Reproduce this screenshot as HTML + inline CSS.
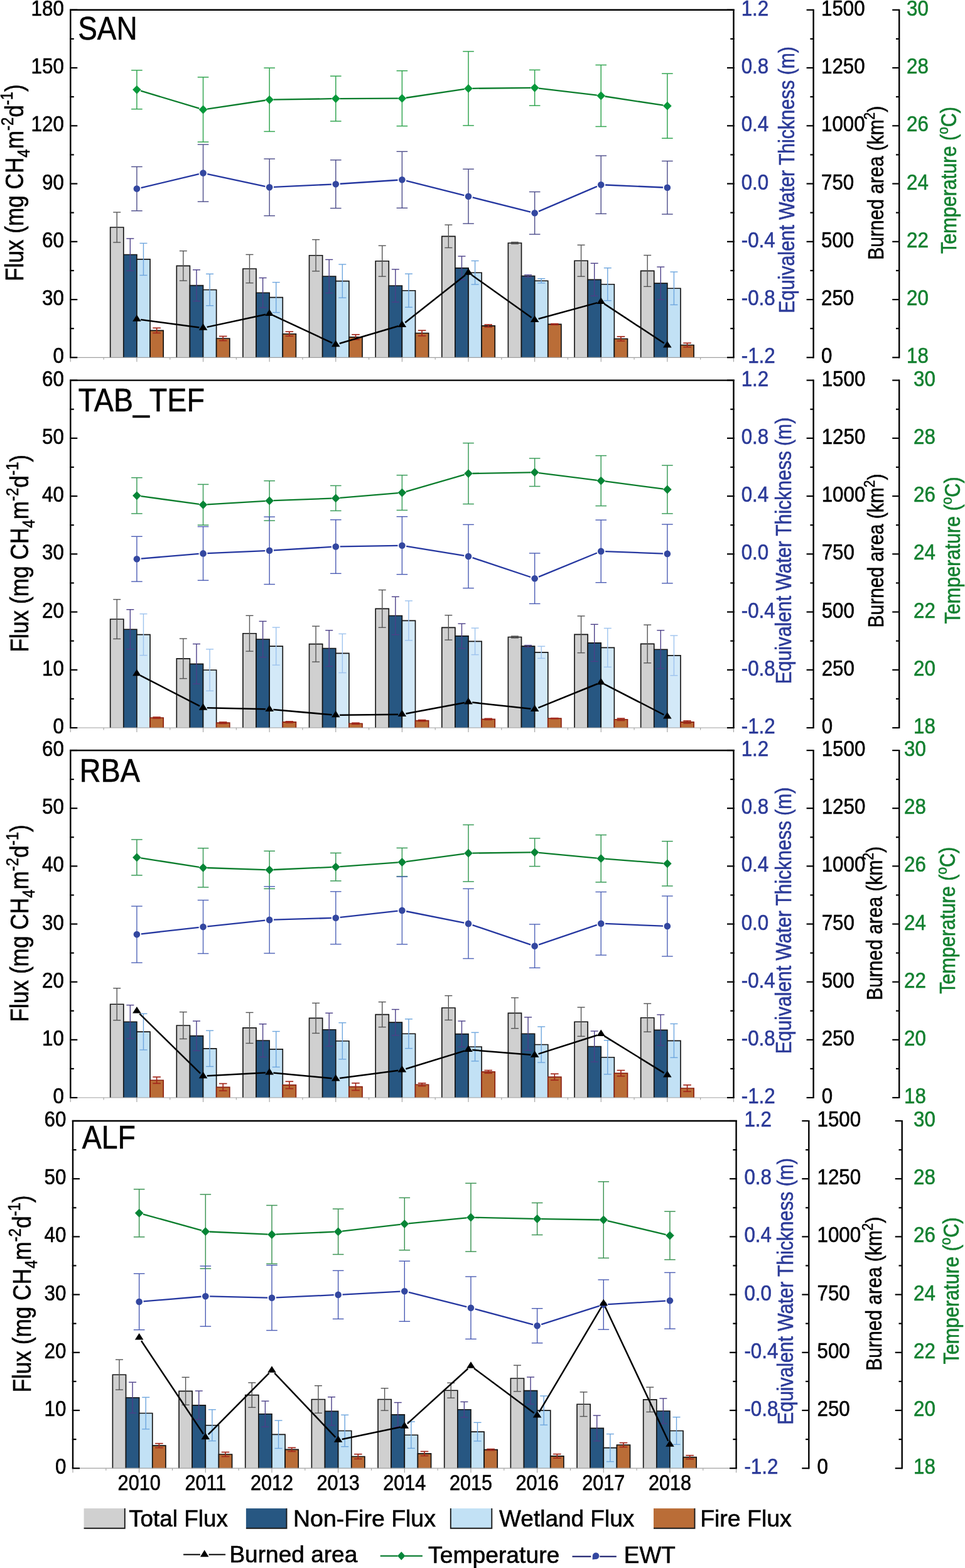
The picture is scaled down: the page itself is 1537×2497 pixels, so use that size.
<!DOCTYPE html>
<html><head><meta charset="utf-8"><title>Methane flux chart</title>
<style>
html,body{margin:0;padding:0;background:#fff;}
body{width:1537px;height:2497px;overflow:hidden;}
svg{display:block;font-family:'Liberation Sans', Arial, Helvetica, sans-serif;}
text{stroke-width:0.6px;}
</style></head>
<body>
<svg xmlns="http://www.w3.org/2000/svg" width="1537" height="2497" viewBox="0 0 1537 2497">
<rect width="1537" height="2497" fill="#fff"/>
<line x1="112.3" y1="569.3" x2="112.3" y2="576.3" stroke="#a0a0a0" stroke-width="1.1"/>
<line x1="165.11" y1="569.3" x2="165.11" y2="572.8" stroke="#a0a0a0" stroke-width="1.1"/>
<line x1="217.92" y1="569.3" x2="217.92" y2="576.3" stroke="#a0a0a0" stroke-width="1.1"/>
<line x1="270.73" y1="569.3" x2="270.73" y2="572.8" stroke="#a0a0a0" stroke-width="1.1"/>
<line x1="323.54" y1="569.3" x2="323.54" y2="576.3" stroke="#a0a0a0" stroke-width="1.1"/>
<line x1="376.35" y1="569.3" x2="376.35" y2="572.8" stroke="#a0a0a0" stroke-width="1.1"/>
<line x1="429.16" y1="569.3" x2="429.16" y2="576.3" stroke="#a0a0a0" stroke-width="1.1"/>
<line x1="481.97" y1="569.3" x2="481.97" y2="572.8" stroke="#a0a0a0" stroke-width="1.1"/>
<line x1="534.78" y1="569.3" x2="534.78" y2="576.3" stroke="#a0a0a0" stroke-width="1.1"/>
<line x1="587.59" y1="569.3" x2="587.59" y2="572.8" stroke="#a0a0a0" stroke-width="1.1"/>
<line x1="640.4" y1="569.3" x2="640.4" y2="576.3" stroke="#a0a0a0" stroke-width="1.1"/>
<line x1="693.21" y1="569.3" x2="693.21" y2="572.8" stroke="#a0a0a0" stroke-width="1.1"/>
<line x1="746.02" y1="569.3" x2="746.02" y2="576.3" stroke="#a0a0a0" stroke-width="1.1"/>
<line x1="798.83" y1="569.3" x2="798.83" y2="572.8" stroke="#a0a0a0" stroke-width="1.1"/>
<line x1="851.64" y1="569.3" x2="851.64" y2="576.3" stroke="#a0a0a0" stroke-width="1.1"/>
<line x1="904.45" y1="569.3" x2="904.45" y2="572.8" stroke="#a0a0a0" stroke-width="1.1"/>
<line x1="957.26" y1="569.3" x2="957.26" y2="576.3" stroke="#a0a0a0" stroke-width="1.1"/>
<line x1="1010.07" y1="569.3" x2="1010.07" y2="572.8" stroke="#a0a0a0" stroke-width="1.1"/>
<line x1="1062.88" y1="569.3" x2="1062.88" y2="576.3" stroke="#a0a0a0" stroke-width="1.1"/>
<line x1="1115.69" y1="569.3" x2="1115.69" y2="572.8" stroke="#a0a0a0" stroke-width="1.1"/>
<line x1="1168.5" y1="569.3" x2="1168.5" y2="576.3" stroke="#a0a0a0" stroke-width="1.1"/>
<rect x="175.67" y="362" width="21.12" height="207.3" fill="#d0d0d0"/>
<path d="M175.67 569.3V362H196.8V569.3" fill="none" stroke="#151515" stroke-width="1.65"/>
<rect x="196.8" y="405.5" width="21.12" height="163.8" fill="#275782"/>
<path d="M196.8 569.3V405.5H217.92V569.3" fill="none" stroke="#151515" stroke-width="1.65"/>
<rect x="217.92" y="412.9" width="21.12" height="156.4" fill="#c2e1f5"/>
<path d="M217.92 569.3V412.9H239.04V569.3" fill="none" stroke="#151515" stroke-width="1.65"/>
<rect x="239.04" y="526.3" width="21.12" height="43" fill="#ba6d37"/>
<path d="M239.04 569.3V526.3H260.17V569.3" fill="none" stroke="#111" stroke-width="1.65"/>
<line x1="186.23" y1="338" x2="186.23" y2="386" stroke="#555555" stroke-width="1.4"/>
<line x1="180.23" y1="338" x2="192.23" y2="338" stroke="#555555" stroke-width="1.4"/>
<line x1="180.23" y1="386" x2="192.23" y2="386" stroke="#555555" stroke-width="1.4"/>
<line x1="207.36" y1="379.9" x2="207.36" y2="431.1" stroke="#4b3f88" stroke-width="1.4"/>
<line x1="201.36" y1="379.9" x2="213.36" y2="379.9" stroke="#4b3f88" stroke-width="1.4"/>
<line x1="201.36" y1="431.1" x2="213.36" y2="431.1" stroke="#4b3f88" stroke-width="1.4"/>
<line x1="228.48" y1="387.4" x2="228.48" y2="438.4" stroke="#6ea6de" stroke-width="1.4"/>
<line x1="222.48" y1="387.4" x2="234.48" y2="387.4" stroke="#6ea6de" stroke-width="1.4"/>
<line x1="222.48" y1="438.4" x2="234.48" y2="438.4" stroke="#6ea6de" stroke-width="1.4"/>
<line x1="249.61" y1="522.3" x2="249.61" y2="530.3" stroke="#a3271b" stroke-width="1.7"/>
<line x1="243.31" y1="522.3" x2="255.91" y2="522.3" stroke="#a3271b" stroke-width="1.7"/>
<line x1="243.31" y1="530.3" x2="255.91" y2="530.3" stroke="#a3271b" stroke-width="1.7"/>
<rect x="281.29" y="423.3" width="21.12" height="146" fill="#d0d0d0"/>
<path d="M281.29 569.3V423.3H302.42V569.3" fill="none" stroke="#151515" stroke-width="1.65"/>
<rect x="302.42" y="454.6" width="21.12" height="114.7" fill="#275782"/>
<path d="M302.42 569.3V454.6H323.54V569.3" fill="none" stroke="#151515" stroke-width="1.65"/>
<rect x="323.54" y="461.5" width="21.12" height="107.8" fill="#c2e1f5"/>
<path d="M323.54 569.3V461.5H344.66V569.3" fill="none" stroke="#151515" stroke-width="1.65"/>
<rect x="344.66" y="539" width="21.12" height="30.3" fill="#ba6d37"/>
<path d="M344.66 569.3V539H365.79V569.3" fill="none" stroke="#111" stroke-width="1.65"/>
<line x1="291.85" y1="399.6" x2="291.85" y2="447" stroke="#555555" stroke-width="1.4"/>
<line x1="285.85" y1="399.6" x2="297.85" y2="399.6" stroke="#555555" stroke-width="1.4"/>
<line x1="285.85" y1="447" x2="297.85" y2="447" stroke="#555555" stroke-width="1.4"/>
<line x1="312.98" y1="429.7" x2="312.98" y2="479.5" stroke="#4b3f88" stroke-width="1.4"/>
<line x1="306.98" y1="429.7" x2="318.98" y2="429.7" stroke="#4b3f88" stroke-width="1.4"/>
<line x1="306.98" y1="479.5" x2="318.98" y2="479.5" stroke="#4b3f88" stroke-width="1.4"/>
<line x1="334.1" y1="436.3" x2="334.1" y2="486.7" stroke="#6ea6de" stroke-width="1.4"/>
<line x1="328.1" y1="436.3" x2="340.1" y2="436.3" stroke="#6ea6de" stroke-width="1.4"/>
<line x1="328.1" y1="486.7" x2="340.1" y2="486.7" stroke="#6ea6de" stroke-width="1.4"/>
<line x1="355.23" y1="535.5" x2="355.23" y2="542.5" stroke="#a3271b" stroke-width="1.7"/>
<line x1="348.93" y1="535.5" x2="361.53" y2="535.5" stroke="#a3271b" stroke-width="1.7"/>
<line x1="348.93" y1="542.5" x2="361.53" y2="542.5" stroke="#a3271b" stroke-width="1.7"/>
<rect x="386.91" y="428" width="21.12" height="141.3" fill="#d0d0d0"/>
<path d="M386.91 569.3V428H408.04V569.3" fill="none" stroke="#151515" stroke-width="1.65"/>
<rect x="408.04" y="466.2" width="21.12" height="103.1" fill="#275782"/>
<path d="M408.04 569.3V466.2H429.16V569.3" fill="none" stroke="#151515" stroke-width="1.65"/>
<rect x="429.16" y="473.6" width="21.12" height="95.7" fill="#c2e1f5"/>
<path d="M429.16 569.3V473.6H450.28V569.3" fill="none" stroke="#151515" stroke-width="1.65"/>
<rect x="450.28" y="531.7" width="21.12" height="37.6" fill="#ba6d37"/>
<path d="M450.28 569.3V531.7H471.41V569.3" fill="none" stroke="#111" stroke-width="1.65"/>
<line x1="397.47" y1="405.4" x2="397.47" y2="450.6" stroke="#555555" stroke-width="1.4"/>
<line x1="391.47" y1="405.4" x2="403.47" y2="405.4" stroke="#555555" stroke-width="1.4"/>
<line x1="391.47" y1="450.6" x2="403.47" y2="450.6" stroke="#555555" stroke-width="1.4"/>
<line x1="418.6" y1="442.5" x2="418.6" y2="489.9" stroke="#4b3f88" stroke-width="1.4"/>
<line x1="412.6" y1="442.5" x2="424.6" y2="442.5" stroke="#4b3f88" stroke-width="1.4"/>
<line x1="412.6" y1="489.9" x2="424.6" y2="489.9" stroke="#4b3f88" stroke-width="1.4"/>
<line x1="439.72" y1="449.6" x2="439.72" y2="497.6" stroke="#6ea6de" stroke-width="1.4"/>
<line x1="433.72" y1="449.6" x2="445.72" y2="449.6" stroke="#6ea6de" stroke-width="1.4"/>
<line x1="433.72" y1="497.6" x2="445.72" y2="497.6" stroke="#6ea6de" stroke-width="1.4"/>
<line x1="460.85" y1="528.2" x2="460.85" y2="535.2" stroke="#a3271b" stroke-width="1.7"/>
<line x1="454.55" y1="528.2" x2="467.15" y2="528.2" stroke="#a3271b" stroke-width="1.7"/>
<line x1="454.55" y1="535.2" x2="467.15" y2="535.2" stroke="#a3271b" stroke-width="1.7"/>
<rect x="492.53" y="406.7" width="21.12" height="162.6" fill="#d0d0d0"/>
<path d="M492.53 569.3V406.7H513.66V569.3" fill="none" stroke="#151515" stroke-width="1.65"/>
<rect x="513.66" y="440" width="21.12" height="129.3" fill="#275782"/>
<path d="M513.66 569.3V440H534.78V569.3" fill="none" stroke="#151515" stroke-width="1.65"/>
<rect x="534.78" y="447.6" width="21.12" height="121.7" fill="#c2e1f5"/>
<path d="M534.78 569.3V447.6H555.9V569.3" fill="none" stroke="#151515" stroke-width="1.65"/>
<rect x="555.9" y="536.8" width="21.12" height="32.5" fill="#ba6d37"/>
<path d="M555.9 569.3V536.8H577.03V569.3" fill="none" stroke="#111" stroke-width="1.65"/>
<line x1="503.09" y1="381.6" x2="503.09" y2="431.8" stroke="#555555" stroke-width="1.4"/>
<line x1="497.09" y1="381.6" x2="509.09" y2="381.6" stroke="#555555" stroke-width="1.4"/>
<line x1="497.09" y1="431.8" x2="509.09" y2="431.8" stroke="#555555" stroke-width="1.4"/>
<line x1="524.22" y1="413.4" x2="524.22" y2="466.6" stroke="#4b3f88" stroke-width="1.4"/>
<line x1="518.22" y1="413.4" x2="530.22" y2="413.4" stroke="#4b3f88" stroke-width="1.4"/>
<line x1="518.22" y1="466.6" x2="530.22" y2="466.6" stroke="#4b3f88" stroke-width="1.4"/>
<line x1="545.34" y1="421" x2="545.34" y2="474.2" stroke="#6ea6de" stroke-width="1.4"/>
<line x1="539.34" y1="421" x2="551.34" y2="421" stroke="#6ea6de" stroke-width="1.4"/>
<line x1="539.34" y1="474.2" x2="551.34" y2="474.2" stroke="#6ea6de" stroke-width="1.4"/>
<line x1="566.47" y1="532.8" x2="566.47" y2="540.8" stroke="#a3271b" stroke-width="1.7"/>
<line x1="560.17" y1="532.8" x2="572.77" y2="532.8" stroke="#a3271b" stroke-width="1.7"/>
<line x1="560.17" y1="540.8" x2="572.77" y2="540.8" stroke="#a3271b" stroke-width="1.7"/>
<rect x="598.15" y="415.7" width="21.12" height="153.6" fill="#d0d0d0"/>
<path d="M598.15 569.3V415.7H619.28V569.3" fill="none" stroke="#151515" stroke-width="1.65"/>
<rect x="619.28" y="455" width="21.12" height="114.3" fill="#275782"/>
<path d="M619.28 569.3V455H640.4V569.3" fill="none" stroke="#151515" stroke-width="1.65"/>
<rect x="640.4" y="462.7" width="21.12" height="106.6" fill="#c2e1f5"/>
<path d="M640.4 569.3V462.7H661.52V569.3" fill="none" stroke="#151515" stroke-width="1.65"/>
<rect x="661.52" y="530.5" width="21.12" height="38.8" fill="#ba6d37"/>
<path d="M661.52 569.3V530.5H682.65V569.3" fill="none" stroke="#111" stroke-width="1.65"/>
<line x1="608.71" y1="391.2" x2="608.71" y2="440.2" stroke="#555555" stroke-width="1.4"/>
<line x1="602.71" y1="391.2" x2="614.71" y2="391.2" stroke="#555555" stroke-width="1.4"/>
<line x1="602.71" y1="440.2" x2="614.71" y2="440.2" stroke="#555555" stroke-width="1.4"/>
<line x1="629.84" y1="428.9" x2="629.84" y2="481.1" stroke="#4b3f88" stroke-width="1.4"/>
<line x1="623.84" y1="428.9" x2="635.84" y2="428.9" stroke="#4b3f88" stroke-width="1.4"/>
<line x1="623.84" y1="481.1" x2="635.84" y2="481.1" stroke="#4b3f88" stroke-width="1.4"/>
<line x1="650.96" y1="436.1" x2="650.96" y2="489.3" stroke="#6ea6de" stroke-width="1.4"/>
<line x1="644.96" y1="436.1" x2="656.96" y2="436.1" stroke="#6ea6de" stroke-width="1.4"/>
<line x1="644.96" y1="489.3" x2="656.96" y2="489.3" stroke="#6ea6de" stroke-width="1.4"/>
<line x1="672.09" y1="526.2" x2="672.09" y2="534.8" stroke="#a3271b" stroke-width="1.7"/>
<line x1="665.79" y1="526.2" x2="678.39" y2="526.2" stroke="#a3271b" stroke-width="1.7"/>
<line x1="665.79" y1="534.8" x2="678.39" y2="534.8" stroke="#a3271b" stroke-width="1.7"/>
<rect x="703.77" y="376.3" width="21.12" height="193" fill="#d0d0d0"/>
<path d="M703.77 569.3V376.3H724.9V569.3" fill="none" stroke="#151515" stroke-width="1.65"/>
<rect x="724.9" y="426.8" width="21.12" height="142.5" fill="#275782"/>
<path d="M724.9 569.3V426.8H746.02V569.3" fill="none" stroke="#151515" stroke-width="1.65"/>
<rect x="746.02" y="434.2" width="21.12" height="135.1" fill="#c2e1f5"/>
<path d="M746.02 569.3V434.2H767.14V569.3" fill="none" stroke="#151515" stroke-width="1.65"/>
<rect x="767.14" y="518.9" width="21.12" height="50.4" fill="#ba6d37"/>
<path d="M767.14 569.3V518.9H788.27V569.3" fill="none" stroke="#111" stroke-width="1.65"/>
<line x1="714.33" y1="358.1" x2="714.33" y2="394.5" stroke="#555555" stroke-width="1.4"/>
<line x1="708.33" y1="358.1" x2="720.33" y2="358.1" stroke="#555555" stroke-width="1.4"/>
<line x1="708.33" y1="394.5" x2="720.33" y2="394.5" stroke="#555555" stroke-width="1.4"/>
<line x1="735.46" y1="408.05" x2="735.46" y2="445.55" stroke="#4b3f88" stroke-width="1.4"/>
<line x1="729.46" y1="408.05" x2="741.46" y2="408.05" stroke="#4b3f88" stroke-width="1.4"/>
<line x1="729.46" y1="445.55" x2="741.46" y2="445.55" stroke="#4b3f88" stroke-width="1.4"/>
<line x1="756.58" y1="415.4" x2="756.58" y2="453" stroke="#6ea6de" stroke-width="1.4"/>
<line x1="750.58" y1="415.4" x2="762.58" y2="415.4" stroke="#6ea6de" stroke-width="1.4"/>
<line x1="750.58" y1="453" x2="762.58" y2="453" stroke="#6ea6de" stroke-width="1.4"/>
<line x1="777.71" y1="516.9" x2="777.71" y2="520.9" stroke="#a3271b" stroke-width="1.7"/>
<line x1="771.41" y1="516.9" x2="784.01" y2="516.9" stroke="#a3271b" stroke-width="1.7"/>
<line x1="771.41" y1="520.9" x2="784.01" y2="520.9" stroke="#a3271b" stroke-width="1.7"/>
<rect x="809.39" y="387" width="21.12" height="182.3" fill="#d0d0d0"/>
<path d="M809.39 569.3V387H830.52V569.3" fill="none" stroke="#151515" stroke-width="1.65"/>
<rect x="830.52" y="439.5" width="21.12" height="129.8" fill="#275782"/>
<path d="M830.52 569.3V439.5H851.64V569.3" fill="none" stroke="#151515" stroke-width="1.65"/>
<rect x="851.64" y="447.2" width="21.12" height="122.1" fill="#c2e1f5"/>
<path d="M851.64 569.3V447.2H872.76V569.3" fill="none" stroke="#151515" stroke-width="1.65"/>
<rect x="872.76" y="516.4" width="21.12" height="52.9" fill="#ba6d37"/>
<path d="M872.76 569.3V516.4H893.89V569.3" fill="none" stroke="#111" stroke-width="1.65"/>
<line x1="819.95" y1="385.6" x2="819.95" y2="388.4" stroke="#555555" stroke-width="1.4"/>
<line x1="813.95" y1="385.6" x2="825.95" y2="385.6" stroke="#555555" stroke-width="1.4"/>
<line x1="813.95" y1="388.4" x2="825.95" y2="388.4" stroke="#555555" stroke-width="1.4"/>
<line x1="841.08" y1="437.8" x2="841.08" y2="441.2" stroke="#4b3f88" stroke-width="1.4"/>
<line x1="835.08" y1="437.8" x2="847.08" y2="437.8" stroke="#4b3f88" stroke-width="1.4"/>
<line x1="835.08" y1="441.2" x2="847.08" y2="441.2" stroke="#4b3f88" stroke-width="1.4"/>
<line x1="862.2" y1="443.7" x2="862.2" y2="450.7" stroke="#6ea6de" stroke-width="1.4"/>
<line x1="856.2" y1="443.7" x2="868.2" y2="443.7" stroke="#6ea6de" stroke-width="1.4"/>
<line x1="856.2" y1="450.7" x2="868.2" y2="450.7" stroke="#6ea6de" stroke-width="1.4"/>
<line x1="883.33" y1="515.6" x2="883.33" y2="517.2" stroke="#a3271b" stroke-width="1.7"/>
<line x1="877.03" y1="515.6" x2="889.63" y2="515.6" stroke="#a3271b" stroke-width="1.7"/>
<line x1="877.03" y1="517.2" x2="889.63" y2="517.2" stroke="#a3271b" stroke-width="1.7"/>
<rect x="915.01" y="415.2" width="21.12" height="154.1" fill="#d0d0d0"/>
<path d="M915.01 569.3V415.2H936.14V569.3" fill="none" stroke="#151515" stroke-width="1.65"/>
<rect x="936.14" y="445.3" width="21.12" height="124" fill="#275782"/>
<path d="M936.14 569.3V445.3H957.26V569.3" fill="none" stroke="#151515" stroke-width="1.65"/>
<rect x="957.26" y="452.7" width="21.12" height="116.6" fill="#c2e1f5"/>
<path d="M957.26 569.3V452.7H978.38V569.3" fill="none" stroke="#151515" stroke-width="1.65"/>
<rect x="978.38" y="539.5" width="21.12" height="29.8" fill="#ba6d37"/>
<path d="M978.38 569.3V539.5H999.51V569.3" fill="none" stroke="#111" stroke-width="1.65"/>
<line x1="925.57" y1="390.2" x2="925.57" y2="440.2" stroke="#555555" stroke-width="1.4"/>
<line x1="919.57" y1="390.2" x2="931.57" y2="390.2" stroke="#555555" stroke-width="1.4"/>
<line x1="919.57" y1="440.2" x2="931.57" y2="440.2" stroke="#555555" stroke-width="1.4"/>
<line x1="946.7" y1="419.3" x2="946.7" y2="471.3" stroke="#4b3f88" stroke-width="1.4"/>
<line x1="940.7" y1="419.3" x2="952.7" y2="419.3" stroke="#4b3f88" stroke-width="1.4"/>
<line x1="940.7" y1="471.3" x2="952.7" y2="471.3" stroke="#4b3f88" stroke-width="1.4"/>
<line x1="967.82" y1="426.7" x2="967.82" y2="478.7" stroke="#6ea6de" stroke-width="1.4"/>
<line x1="961.82" y1="426.7" x2="973.82" y2="426.7" stroke="#6ea6de" stroke-width="1.4"/>
<line x1="961.82" y1="478.7" x2="973.82" y2="478.7" stroke="#6ea6de" stroke-width="1.4"/>
<line x1="988.95" y1="536" x2="988.95" y2="543" stroke="#a3271b" stroke-width="1.7"/>
<line x1="982.65" y1="536" x2="995.25" y2="536" stroke="#a3271b" stroke-width="1.7"/>
<line x1="982.65" y1="543" x2="995.25" y2="543" stroke="#a3271b" stroke-width="1.7"/>
<rect x="1020.63" y="431.4" width="21.12" height="137.9" fill="#d0d0d0"/>
<path d="M1020.63 569.3V431.4H1041.76V569.3" fill="none" stroke="#151515" stroke-width="1.65"/>
<rect x="1041.76" y="451.1" width="21.12" height="118.2" fill="#275782"/>
<path d="M1041.76 569.3V451.1H1062.88V569.3" fill="none" stroke="#151515" stroke-width="1.65"/>
<rect x="1062.88" y="459.2" width="21.12" height="110.1" fill="#c2e1f5"/>
<path d="M1062.88 569.3V459.2H1084V569.3" fill="none" stroke="#151515" stroke-width="1.65"/>
<rect x="1084" y="549.5" width="21.12" height="19.8" fill="#ba6d37"/>
<path d="M1084 569.3V549.5H1105.13V569.3" fill="none" stroke="#111" stroke-width="1.65"/>
<line x1="1031.19" y1="406.5" x2="1031.19" y2="456.3" stroke="#555555" stroke-width="1.4"/>
<line x1="1025.19" y1="406.5" x2="1037.19" y2="406.5" stroke="#555555" stroke-width="1.4"/>
<line x1="1025.19" y1="456.3" x2="1037.19" y2="456.3" stroke="#555555" stroke-width="1.4"/>
<line x1="1052.32" y1="425.1" x2="1052.32" y2="477.1" stroke="#4b3f88" stroke-width="1.4"/>
<line x1="1046.32" y1="425.1" x2="1058.32" y2="425.1" stroke="#4b3f88" stroke-width="1.4"/>
<line x1="1046.32" y1="477.1" x2="1058.32" y2="477.1" stroke="#4b3f88" stroke-width="1.4"/>
<line x1="1073.44" y1="433" x2="1073.44" y2="485.4" stroke="#6ea6de" stroke-width="1.4"/>
<line x1="1067.44" y1="433" x2="1079.44" y2="433" stroke="#6ea6de" stroke-width="1.4"/>
<line x1="1067.44" y1="485.4" x2="1079.44" y2="485.4" stroke="#6ea6de" stroke-width="1.4"/>
<line x1="1094.57" y1="546.3" x2="1094.57" y2="552.7" stroke="#a3271b" stroke-width="1.7"/>
<line x1="1088.27" y1="546.3" x2="1100.87" y2="546.3" stroke="#a3271b" stroke-width="1.7"/>
<line x1="1088.27" y1="552.7" x2="1100.87" y2="552.7" stroke="#a3271b" stroke-width="1.7"/>
<line x1="112.3" y1="569.3" x2="1168.5" y2="569.3" stroke="#a0a0a0" stroke-width="1.2"/>
<line x1="217.92" y1="111.9" x2="217.92" y2="173.7" stroke="#34a652" stroke-width="1.5"/>
<line x1="209.12" y1="111.9" x2="226.72" y2="111.9" stroke="#34a652" stroke-width="1.5"/>
<line x1="209.12" y1="173.7" x2="226.72" y2="173.7" stroke="#34a652" stroke-width="1.5"/>
<line x1="323.54" y1="122.9" x2="323.54" y2="226.1" stroke="#34a652" stroke-width="1.5"/>
<line x1="314.74" y1="122.9" x2="332.34" y2="122.9" stroke="#34a652" stroke-width="1.5"/>
<line x1="314.74" y1="226.1" x2="332.34" y2="226.1" stroke="#34a652" stroke-width="1.5"/>
<line x1="429.16" y1="108.2" x2="429.16" y2="209.4" stroke="#34a652" stroke-width="1.5"/>
<line x1="420.36" y1="108.2" x2="437.96" y2="108.2" stroke="#34a652" stroke-width="1.5"/>
<line x1="420.36" y1="209.4" x2="437.96" y2="209.4" stroke="#34a652" stroke-width="1.5"/>
<line x1="534.78" y1="121.2" x2="534.78" y2="193" stroke="#34a652" stroke-width="1.5"/>
<line x1="525.98" y1="121.2" x2="543.58" y2="121.2" stroke="#34a652" stroke-width="1.5"/>
<line x1="525.98" y1="193" x2="543.58" y2="193" stroke="#34a652" stroke-width="1.5"/>
<line x1="640.4" y1="112.7" x2="640.4" y2="200.7" stroke="#34a652" stroke-width="1.5"/>
<line x1="631.6" y1="112.7" x2="649.2" y2="112.7" stroke="#34a652" stroke-width="1.5"/>
<line x1="631.6" y1="200.7" x2="649.2" y2="200.7" stroke="#34a652" stroke-width="1.5"/>
<line x1="746.02" y1="81.9" x2="746.02" y2="199.9" stroke="#34a652" stroke-width="1.5"/>
<line x1="737.22" y1="81.9" x2="754.82" y2="81.9" stroke="#34a652" stroke-width="1.5"/>
<line x1="737.22" y1="199.9" x2="754.82" y2="199.9" stroke="#34a652" stroke-width="1.5"/>
<line x1="851.64" y1="111.4" x2="851.64" y2="168.2" stroke="#34a652" stroke-width="1.5"/>
<line x1="842.84" y1="111.4" x2="860.44" y2="111.4" stroke="#34a652" stroke-width="1.5"/>
<line x1="842.84" y1="168.2" x2="860.44" y2="168.2" stroke="#34a652" stroke-width="1.5"/>
<line x1="957.26" y1="103.5" x2="957.26" y2="201.5" stroke="#34a652" stroke-width="1.5"/>
<line x1="948.46" y1="103.5" x2="966.06" y2="103.5" stroke="#34a652" stroke-width="1.5"/>
<line x1="948.46" y1="201.5" x2="966.06" y2="201.5" stroke="#34a652" stroke-width="1.5"/>
<line x1="1062.88" y1="117.2" x2="1062.88" y2="220.2" stroke="#34a652" stroke-width="1.5"/>
<line x1="1054.08" y1="117.2" x2="1071.68" y2="117.2" stroke="#34a652" stroke-width="1.5"/>
<line x1="1054.08" y1="220.2" x2="1071.68" y2="220.2" stroke="#34a652" stroke-width="1.5"/>
<line x1="217.92" y1="265.5" x2="217.92" y2="335.7" stroke="#4c4c8a" stroke-width="1.4"/>
<line x1="209.12" y1="265.5" x2="226.72" y2="265.5" stroke="#4c4c8a" stroke-width="1.4"/>
<line x1="209.12" y1="335.7" x2="226.72" y2="335.7" stroke="#4c4c8a" stroke-width="1.4"/>
<line x1="323.54" y1="230.1" x2="323.54" y2="321.1" stroke="#4c4c8a" stroke-width="1.4"/>
<line x1="314.74" y1="230.1" x2="332.34" y2="230.1" stroke="#4c4c8a" stroke-width="1.4"/>
<line x1="314.74" y1="321.1" x2="332.34" y2="321.1" stroke="#4c4c8a" stroke-width="1.4"/>
<line x1="429.16" y1="253" x2="429.16" y2="343.6" stroke="#4c4c8a" stroke-width="1.4"/>
<line x1="420.36" y1="253" x2="437.96" y2="253" stroke="#4c4c8a" stroke-width="1.4"/>
<line x1="420.36" y1="343.6" x2="437.96" y2="343.6" stroke="#4c4c8a" stroke-width="1.4"/>
<line x1="534.78" y1="254.8" x2="534.78" y2="331.6" stroke="#4c4c8a" stroke-width="1.4"/>
<line x1="525.98" y1="254.8" x2="543.58" y2="254.8" stroke="#4c4c8a" stroke-width="1.4"/>
<line x1="525.98" y1="331.6" x2="543.58" y2="331.6" stroke="#4c4c8a" stroke-width="1.4"/>
<line x1="640.4" y1="241.3" x2="640.4" y2="331.3" stroke="#4c4c8a" stroke-width="1.4"/>
<line x1="631.6" y1="241.3" x2="649.2" y2="241.3" stroke="#4c4c8a" stroke-width="1.4"/>
<line x1="631.6" y1="331.3" x2="649.2" y2="331.3" stroke="#4c4c8a" stroke-width="1.4"/>
<line x1="746.02" y1="269.3" x2="746.02" y2="356.1" stroke="#4c4c8a" stroke-width="1.4"/>
<line x1="737.22" y1="269.3" x2="754.82" y2="269.3" stroke="#4c4c8a" stroke-width="1.4"/>
<line x1="737.22" y1="356.1" x2="754.82" y2="356.1" stroke="#4c4c8a" stroke-width="1.4"/>
<line x1="851.64" y1="305.5" x2="851.64" y2="373.1" stroke="#4c4c8a" stroke-width="1.4"/>
<line x1="842.84" y1="305.5" x2="860.44" y2="305.5" stroke="#4c4c8a" stroke-width="1.4"/>
<line x1="842.84" y1="373.1" x2="860.44" y2="373.1" stroke="#4c4c8a" stroke-width="1.4"/>
<line x1="957.26" y1="248" x2="957.26" y2="340.4" stroke="#4c4c8a" stroke-width="1.4"/>
<line x1="948.46" y1="248" x2="966.06" y2="248" stroke="#4c4c8a" stroke-width="1.4"/>
<line x1="948.46" y1="340.4" x2="966.06" y2="340.4" stroke="#4c4c8a" stroke-width="1.4"/>
<line x1="1062.88" y1="256.5" x2="1062.88" y2="341.1" stroke="#4c4c8a" stroke-width="1.4"/>
<line x1="1054.08" y1="256.5" x2="1071.68" y2="256.5" stroke="#4c4c8a" stroke-width="1.4"/>
<line x1="1054.08" y1="341.1" x2="1071.68" y2="341.1" stroke="#4c4c8a" stroke-width="1.4"/>
<line x1="224.15" y1="144.67" x2="317.31" y2="172.63" stroke="#0b7d2c" stroke-width="2.3" stroke-linecap="butt"/>
<line x1="329.97" y1="173.54" x2="422.73" y2="159.76" stroke="#0b7d2c" stroke-width="2.3" stroke-linecap="butt"/>
<line x1="435.66" y1="158.7" x2="528.28" y2="157.2" stroke="#0b7d2c" stroke-width="2.3" stroke-linecap="butt"/>
<line x1="541.28" y1="157.08" x2="633.9" y2="156.72" stroke="#0b7d2c" stroke-width="2.3" stroke-linecap="butt"/>
<line x1="646.83" y1="155.74" x2="739.59" y2="141.86" stroke="#0b7d2c" stroke-width="2.3" stroke-linecap="butt"/>
<line x1="752.52" y1="140.83" x2="845.14" y2="139.87" stroke="#0b7d2c" stroke-width="2.3" stroke-linecap="butt"/>
<line x1="858.09" y1="140.58" x2="950.81" y2="151.72" stroke="#0b7d2c" stroke-width="2.3" stroke-linecap="butt"/>
<line x1="963.68" y1="153.49" x2="1056.46" y2="167.71" stroke="#0b7d2c" stroke-width="2.3" stroke-linecap="butt"/>
<path d="M217.92 135.9L224.72 142.8L217.92 149.7L211.12 142.8Z" fill="#06983a"/>
<path d="M323.54 167.6L330.34 174.5L323.54 181.4L316.74 174.5Z" fill="#06983a"/>
<path d="M429.16 151.9L435.96 158.8L429.16 165.7L422.36 158.8Z" fill="#06983a"/>
<path d="M534.78 150.2L541.58 157.1L534.78 164L527.98 157.1Z" fill="#06983a"/>
<path d="M640.4 149.8L647.2 156.7L640.4 163.6L633.6 156.7Z" fill="#06983a"/>
<path d="M746.02 134L752.82 140.9L746.02 147.8L739.22 140.9Z" fill="#06983a"/>
<path d="M851.64 132.9L858.44 139.8L851.64 146.7L844.84 139.8Z" fill="#06983a"/>
<path d="M957.26 145.6L964.06 152.5L957.26 159.4L950.46 152.5Z" fill="#06983a"/>
<path d="M1062.88 161.8L1069.68 168.7L1062.88 175.6L1056.08 168.7Z" fill="#06983a"/>
<line x1="224.63" y1="299.01" x2="316.83" y2="277.19" stroke="#2537a0" stroke-width="2.3" stroke-linecap="butt"/>
<line x1="330.29" y1="277.05" x2="422.41" y2="296.85" stroke="#2537a0" stroke-width="2.3" stroke-linecap="butt"/>
<line x1="436.05" y1="297.97" x2="527.89" y2="293.53" stroke="#2537a0" stroke-width="2.3" stroke-linecap="butt"/>
<line x1="541.67" y1="292.75" x2="633.51" y2="286.75" stroke="#2537a0" stroke-width="2.3" stroke-linecap="butt"/>
<line x1="647.09" y1="287.97" x2="739.33" y2="311.03" stroke="#2537a0" stroke-width="2.3" stroke-linecap="butt"/>
<line x1="752.71" y1="314.39" x2="844.95" y2="337.61" stroke="#2537a0" stroke-width="2.3" stroke-linecap="butt"/>
<line x1="857.99" y1="336.59" x2="950.91" y2="296.91" stroke="#2537a0" stroke-width="2.3" stroke-linecap="butt"/>
<line x1="964.15" y1="294.5" x2="1055.99" y2="298.5" stroke="#2537a0" stroke-width="2.3" stroke-linecap="butt"/>
<circle cx="217.92" cy="300.6" r="5.3" fill="#3347a0"/>
<circle cx="323.54" cy="275.6" r="5.3" fill="#3347a0"/>
<circle cx="429.16" cy="298.3" r="5.3" fill="#3347a0"/>
<circle cx="534.78" cy="293.2" r="5.3" fill="#3347a0"/>
<circle cx="640.4" cy="286.3" r="5.3" fill="#3347a0"/>
<circle cx="746.02" cy="312.7" r="5.3" fill="#3347a0"/>
<circle cx="851.64" cy="339.3" r="5.3" fill="#3347a0"/>
<circle cx="957.26" cy="294.2" r="5.3" fill="#3347a0"/>
<circle cx="1062.88" cy="298.8" r="5.3" fill="#3347a0"/>
<line x1="224.07" y1="509.11" x2="317.39" y2="521.39" stroke="#000" stroke-width="2.5" stroke-linecap="butt"/>
<line x1="329.6" y1="520.9" x2="423.1" y2="500.8" stroke="#000" stroke-width="2.5" stroke-linecap="butt"/>
<line x1="434.78" y1="502.12" x2="529.16" y2="546.18" stroke="#000" stroke-width="2.5" stroke-linecap="butt"/>
<line x1="540.72" y1="547.04" x2="634.46" y2="519.26" stroke="#000" stroke-width="2.5" stroke-linecap="butt"/>
<line x1="645.27" y1="513.66" x2="741.15" y2="438.04" stroke="#000" stroke-width="2.5" stroke-linecap="butt"/>
<line x1="751.07" y1="437.8" x2="846.59" y2="505.8" stroke="#000" stroke-width="2.5" stroke-linecap="butt"/>
<line x1="857.62" y1="507.76" x2="951.28" y2="482.14" stroke="#000" stroke-width="2.5" stroke-linecap="butt"/>
<line x1="962.44" y1="483.9" x2="1057.7" y2="546.5" stroke="#000" stroke-width="2.5" stroke-linecap="butt"/>
<path d="M217.92 501.3L224.72 511.8L211.12 511.8Z" fill="#000"/>
<path d="M323.54 515.2L330.34 525.7L316.74 525.7Z" fill="#000"/>
<path d="M429.16 492.5L435.96 503L422.36 503Z" fill="#000"/>
<path d="M534.78 541.8L541.58 552.3L527.98 552.3Z" fill="#000"/>
<path d="M640.4 510.5L647.2 521L633.6 521Z" fill="#000"/>
<path d="M746.02 427.2L752.82 437.7L739.22 437.7Z" fill="#000"/>
<path d="M851.64 502.4L858.44 512.9L844.84 512.9Z" fill="#000"/>
<path d="M957.26 473.5L964.06 484L950.46 484Z" fill="#000"/>
<path d="M1062.88 542.9L1069.68 553.4L1056.08 553.4Z" fill="#000"/>
<path d="M112.3 569.3V15.8H1168.5V569.3" fill="none" stroke="#000" stroke-width="2.4"/>
<line x1="111.1" y1="569.3" x2="123.3" y2="569.3" stroke="#000" stroke-width="2.2"/>
<text transform="translate(101.8 578.3) scale(0.895 1)" font-size="35" fill="#000" stroke="#000" text-anchor="end">0</text>
<line x1="111.1" y1="523.17" x2="117.8" y2="523.17" stroke="#000" stroke-width="2.2"/>
<line x1="111.1" y1="477.05" x2="123.3" y2="477.05" stroke="#000" stroke-width="2.2"/>
<text transform="translate(101.8 486.05) scale(0.895 1)" font-size="35" fill="#000" stroke="#000" text-anchor="end">30</text>
<line x1="111.1" y1="430.92" x2="117.8" y2="430.92" stroke="#000" stroke-width="2.2"/>
<line x1="111.1" y1="384.8" x2="123.3" y2="384.8" stroke="#000" stroke-width="2.2"/>
<text transform="translate(101.8 393.8) scale(0.895 1)" font-size="35" fill="#000" stroke="#000" text-anchor="end">60</text>
<line x1="111.1" y1="338.67" x2="117.8" y2="338.67" stroke="#000" stroke-width="2.2"/>
<line x1="111.1" y1="292.55" x2="123.3" y2="292.55" stroke="#000" stroke-width="2.2"/>
<text transform="translate(101.8 301.55) scale(0.895 1)" font-size="35" fill="#000" stroke="#000" text-anchor="end">90</text>
<line x1="111.1" y1="246.42" x2="117.8" y2="246.42" stroke="#000" stroke-width="2.2"/>
<line x1="111.1" y1="200.3" x2="123.3" y2="200.3" stroke="#000" stroke-width="2.2"/>
<text transform="translate(101.8 209.3) scale(0.895 1)" font-size="35" fill="#000" stroke="#000" text-anchor="end">120</text>
<line x1="111.1" y1="154.17" x2="117.8" y2="154.17" stroke="#000" stroke-width="2.2"/>
<line x1="111.1" y1="108.05" x2="123.3" y2="108.05" stroke="#000" stroke-width="2.2"/>
<text transform="translate(101.8 117.05) scale(0.895 1)" font-size="35" fill="#000" stroke="#000" text-anchor="end">150</text>
<line x1="111.1" y1="61.92" x2="117.8" y2="61.92" stroke="#000" stroke-width="2.2"/>
<line x1="111.1" y1="15.8" x2="123.3" y2="15.8" stroke="#000" stroke-width="2.2"/>
<text transform="translate(101.8 24.8) scale(0.895 1)" font-size="35" fill="#000" stroke="#000" text-anchor="end">180</text>
<line x1="1158" y1="569.3" x2="1169.7" y2="569.3" stroke="#000" stroke-width="2.2"/>
<text transform="translate(1180.7 578.3) scale(0.895 1)" font-size="35" fill="#2b3a98" stroke="#2b3a98" text-anchor="start">-1.2</text>
<line x1="1163.3" y1="523.17" x2="1169.7" y2="523.17" stroke="#000" stroke-width="2.2"/>
<line x1="1158" y1="477.05" x2="1169.7" y2="477.05" stroke="#000" stroke-width="2.2"/>
<text transform="translate(1180.7 486.05) scale(0.895 1)" font-size="35" fill="#2b3a98" stroke="#2b3a98" text-anchor="start">-0.8</text>
<line x1="1163.3" y1="430.92" x2="1169.7" y2="430.92" stroke="#000" stroke-width="2.2"/>
<line x1="1158" y1="384.8" x2="1169.7" y2="384.8" stroke="#000" stroke-width="2.2"/>
<text transform="translate(1180.7 393.8) scale(0.895 1)" font-size="35" fill="#2b3a98" stroke="#2b3a98" text-anchor="start">-0.4</text>
<line x1="1163.3" y1="338.67" x2="1169.7" y2="338.67" stroke="#000" stroke-width="2.2"/>
<line x1="1158" y1="292.55" x2="1169.7" y2="292.55" stroke="#000" stroke-width="2.2"/>
<text transform="translate(1180.7 301.55) scale(0.895 1)" font-size="35" fill="#2b3a98" stroke="#2b3a98" text-anchor="start">0.0</text>
<line x1="1163.3" y1="246.42" x2="1169.7" y2="246.42" stroke="#000" stroke-width="2.2"/>
<line x1="1158" y1="200.3" x2="1169.7" y2="200.3" stroke="#000" stroke-width="2.2"/>
<text transform="translate(1180.7 209.3) scale(0.895 1)" font-size="35" fill="#2b3a98" stroke="#2b3a98" text-anchor="start">0.4</text>
<line x1="1163.3" y1="154.17" x2="1169.7" y2="154.17" stroke="#000" stroke-width="2.2"/>
<line x1="1158" y1="108.05" x2="1169.7" y2="108.05" stroke="#000" stroke-width="2.2"/>
<text transform="translate(1180.7 117.05) scale(0.895 1)" font-size="35" fill="#2b3a98" stroke="#2b3a98" text-anchor="start">0.8</text>
<line x1="1163.3" y1="61.92" x2="1169.7" y2="61.92" stroke="#000" stroke-width="2.2"/>
<line x1="1158" y1="15.8" x2="1169.7" y2="15.8" stroke="#000" stroke-width="2.2"/>
<text transform="translate(1180.7 24.8) scale(0.895 1)" font-size="35" fill="#2b3a98" stroke="#2b3a98" text-anchor="start">1.2</text>
<line x1="1295.6" y1="14.7" x2="1295.6" y2="570.4" stroke="#000" stroke-width="2.4"/>
<line x1="1284.6" y1="569.3" x2="1295.6" y2="569.3" stroke="#000" stroke-width="2.2"/>
<text transform="translate(1308 578.3) scale(0.895 1)" font-size="35" fill="#000" stroke="#000" text-anchor="start">0</text>
<line x1="1290.4" y1="523.17" x2="1295.6" y2="523.17" stroke="#000" stroke-width="2.2"/>
<line x1="1284.6" y1="477.05" x2="1295.6" y2="477.05" stroke="#000" stroke-width="2.2"/>
<text transform="translate(1308 486.05) scale(0.895 1)" font-size="35" fill="#000" stroke="#000" text-anchor="start">250</text>
<line x1="1290.4" y1="430.92" x2="1295.6" y2="430.92" stroke="#000" stroke-width="2.2"/>
<line x1="1284.6" y1="384.8" x2="1295.6" y2="384.8" stroke="#000" stroke-width="2.2"/>
<text transform="translate(1308 393.8) scale(0.895 1)" font-size="35" fill="#000" stroke="#000" text-anchor="start">500</text>
<line x1="1290.4" y1="338.67" x2="1295.6" y2="338.67" stroke="#000" stroke-width="2.2"/>
<line x1="1284.6" y1="292.55" x2="1295.6" y2="292.55" stroke="#000" stroke-width="2.2"/>
<text transform="translate(1308 301.55) scale(0.895 1)" font-size="35" fill="#000" stroke="#000" text-anchor="start">750</text>
<line x1="1290.4" y1="246.42" x2="1295.6" y2="246.42" stroke="#000" stroke-width="2.2"/>
<line x1="1284.6" y1="200.3" x2="1295.6" y2="200.3" stroke="#000" stroke-width="2.2"/>
<text transform="translate(1308 209.3) scale(0.895 1)" font-size="35" fill="#000" stroke="#000" text-anchor="start">1000</text>
<line x1="1290.4" y1="154.17" x2="1295.6" y2="154.17" stroke="#000" stroke-width="2.2"/>
<line x1="1284.6" y1="108.05" x2="1295.6" y2="108.05" stroke="#000" stroke-width="2.2"/>
<text transform="translate(1308 117.05) scale(0.895 1)" font-size="35" fill="#000" stroke="#000" text-anchor="start">1250</text>
<line x1="1290.4" y1="61.92" x2="1295.6" y2="61.92" stroke="#000" stroke-width="2.2"/>
<line x1="1284.6" y1="15.8" x2="1295.6" y2="15.8" stroke="#000" stroke-width="2.2"/>
<text transform="translate(1308 24.8) scale(0.895 1)" font-size="35" fill="#000" stroke="#000" text-anchor="start">1500</text>
<line x1="1432.2" y1="14.7" x2="1432.2" y2="570.4" stroke="#000" stroke-width="2.4"/>
<line x1="1421.2" y1="569.3" x2="1432.2" y2="569.3" stroke="#000" stroke-width="2.2"/>
<text transform="translate(1444 578.3) scale(0.895 1)" font-size="35" fill="#138030" stroke="#138030" text-anchor="start">18</text>
<line x1="1427" y1="523.17" x2="1432.2" y2="523.17" stroke="#000" stroke-width="2.2"/>
<line x1="1421.2" y1="477.05" x2="1432.2" y2="477.05" stroke="#000" stroke-width="2.2"/>
<text transform="translate(1444 486.05) scale(0.895 1)" font-size="35" fill="#138030" stroke="#138030" text-anchor="start">20</text>
<line x1="1427" y1="430.92" x2="1432.2" y2="430.92" stroke="#000" stroke-width="2.2"/>
<line x1="1421.2" y1="384.8" x2="1432.2" y2="384.8" stroke="#000" stroke-width="2.2"/>
<text transform="translate(1444 393.8) scale(0.895 1)" font-size="35" fill="#138030" stroke="#138030" text-anchor="start">22</text>
<line x1="1427" y1="338.67" x2="1432.2" y2="338.67" stroke="#000" stroke-width="2.2"/>
<line x1="1421.2" y1="292.55" x2="1432.2" y2="292.55" stroke="#000" stroke-width="2.2"/>
<text transform="translate(1444 301.55) scale(0.895 1)" font-size="35" fill="#138030" stroke="#138030" text-anchor="start">24</text>
<line x1="1427" y1="246.42" x2="1432.2" y2="246.42" stroke="#000" stroke-width="2.2"/>
<line x1="1421.2" y1="200.3" x2="1432.2" y2="200.3" stroke="#000" stroke-width="2.2"/>
<text transform="translate(1444 209.3) scale(0.895 1)" font-size="35" fill="#138030" stroke="#138030" text-anchor="start">26</text>
<line x1="1427" y1="154.17" x2="1432.2" y2="154.17" stroke="#000" stroke-width="2.2"/>
<line x1="1421.2" y1="108.05" x2="1432.2" y2="108.05" stroke="#000" stroke-width="2.2"/>
<text transform="translate(1444 117.05) scale(0.895 1)" font-size="35" fill="#138030" stroke="#138030" text-anchor="start">28</text>
<line x1="1427" y1="61.92" x2="1432.2" y2="61.92" stroke="#000" stroke-width="2.2"/>
<line x1="1421.2" y1="15.8" x2="1432.2" y2="15.8" stroke="#000" stroke-width="2.2"/>
<text transform="translate(1444 24.8) scale(0.895 1)" font-size="35" fill="#138030" stroke="#138030" text-anchor="start">30</text>
<text transform="translate(124.15 62.6) scale(0.8755 1)" font-size="52.5" stroke="#000">SAN</text>
<text transform="translate(36.5 448.01) rotate(-90) scale(0.8688 1)" font-size="40.5" fill="#000" stroke="#000">Flux (mg CH<tspan font-size="27.5" dy="10.2">4</tspan><tspan dy="-10.2">m</tspan><tspan font-size="27.5" dy="-16">-2</tspan><tspan dy="16">d</tspan><tspan font-size="27.5" dy="-16.5">-1</tspan><tspan dy="16.5">)</tspan></text>
<text transform="translate(1264.7 498.74) rotate(-90) scale(0.8716 1)" font-size="34.5" fill="#2b3a98" stroke="#2b3a98">Equivalent Water Thickness (m)</text>
<text transform="translate(1406.9 413.64) rotate(-90) scale(0.8691 1)" font-size="34.5" fill="#000" stroke="#000">Burned area (km<tspan font-size="24" dy="-14.1">2</tspan><tspan dy="14.1">)</tspan></text>
<text transform="translate(1523 404) rotate(-90) scale(0.8859 1)" font-size="34.5" fill="#138030" stroke="#138030">Temperature (<tspan font-size="23.5" dy="-13.2">o</tspan><tspan dy="13.2">C)</tspan></text>
<line x1="112.3" y1="1159" x2="112.3" y2="1166" stroke="#a0a0a0" stroke-width="1.1"/>
<line x1="165.11" y1="1159" x2="165.11" y2="1162.5" stroke="#a0a0a0" stroke-width="1.1"/>
<line x1="217.92" y1="1159" x2="217.92" y2="1166" stroke="#a0a0a0" stroke-width="1.1"/>
<line x1="270.73" y1="1159" x2="270.73" y2="1162.5" stroke="#a0a0a0" stroke-width="1.1"/>
<line x1="323.54" y1="1159" x2="323.54" y2="1166" stroke="#a0a0a0" stroke-width="1.1"/>
<line x1="376.35" y1="1159" x2="376.35" y2="1162.5" stroke="#a0a0a0" stroke-width="1.1"/>
<line x1="429.16" y1="1159" x2="429.16" y2="1166" stroke="#a0a0a0" stroke-width="1.1"/>
<line x1="481.97" y1="1159" x2="481.97" y2="1162.5" stroke="#a0a0a0" stroke-width="1.1"/>
<line x1="534.78" y1="1159" x2="534.78" y2="1166" stroke="#a0a0a0" stroke-width="1.1"/>
<line x1="587.59" y1="1159" x2="587.59" y2="1162.5" stroke="#a0a0a0" stroke-width="1.1"/>
<line x1="640.4" y1="1159" x2="640.4" y2="1166" stroke="#a0a0a0" stroke-width="1.1"/>
<line x1="693.21" y1="1159" x2="693.21" y2="1162.5" stroke="#a0a0a0" stroke-width="1.1"/>
<line x1="746.02" y1="1159" x2="746.02" y2="1166" stroke="#a0a0a0" stroke-width="1.1"/>
<line x1="798.83" y1="1159" x2="798.83" y2="1162.5" stroke="#a0a0a0" stroke-width="1.1"/>
<line x1="851.64" y1="1159" x2="851.64" y2="1166" stroke="#a0a0a0" stroke-width="1.1"/>
<line x1="904.45" y1="1159" x2="904.45" y2="1162.5" stroke="#a0a0a0" stroke-width="1.1"/>
<line x1="957.26" y1="1159" x2="957.26" y2="1166" stroke="#a0a0a0" stroke-width="1.1"/>
<line x1="1010.07" y1="1159" x2="1010.07" y2="1162.5" stroke="#a0a0a0" stroke-width="1.1"/>
<line x1="1062.88" y1="1159" x2="1062.88" y2="1166" stroke="#a0a0a0" stroke-width="1.1"/>
<line x1="1115.69" y1="1159" x2="1115.69" y2="1162.5" stroke="#a0a0a0" stroke-width="1.1"/>
<line x1="1168.5" y1="1159" x2="1168.5" y2="1166" stroke="#a0a0a0" stroke-width="1.1"/>
<rect x="175.67" y="986" width="21.12" height="173" fill="#d0d0d0"/>
<path d="M175.67 1159V986H196.8V1159" fill="none" stroke="#151515" stroke-width="1.65"/>
<rect x="196.8" y="1002.2" width="21.12" height="156.8" fill="#275782"/>
<path d="M196.8 1159V1002.2H217.92V1159" fill="none" stroke="#151515" stroke-width="1.65"/>
<rect x="217.92" y="1010.6" width="21.12" height="148.4" fill="#d3e9f8"/>
<path d="M217.92 1159V1010.6H239.04V1159" fill="none" stroke="#151515" stroke-width="1.65"/>
<rect x="239.04" y="1143" width="21.12" height="16" fill="#ba6d37"/>
<path d="M239.04 1159V1143H260.17V1159" fill="none" stroke="#8b2010" stroke-width="1.65"/>
<line x1="186.23" y1="954.6" x2="186.23" y2="1017.4" stroke="#555555" stroke-width="1.4"/>
<line x1="180.23" y1="954.6" x2="192.23" y2="954.6" stroke="#555555" stroke-width="1.4"/>
<line x1="180.23" y1="1017.4" x2="192.23" y2="1017.4" stroke="#555555" stroke-width="1.4"/>
<line x1="207.36" y1="970.7" x2="207.36" y2="1033.7" stroke="#4b3f88" stroke-width="1.4"/>
<line x1="201.36" y1="970.7" x2="213.36" y2="970.7" stroke="#4b3f88" stroke-width="1.4"/>
<line x1="201.36" y1="1033.7" x2="213.36" y2="1033.7" stroke="#4b3f88" stroke-width="1.4"/>
<line x1="228.48" y1="977.6" x2="228.48" y2="1043.6" stroke="#9dc3ee" stroke-width="1.4"/>
<line x1="222.48" y1="977.6" x2="234.48" y2="977.6" stroke="#9dc3ee" stroke-width="1.4"/>
<line x1="222.48" y1="1043.6" x2="234.48" y2="1043.6" stroke="#9dc3ee" stroke-width="1.4"/>
<line x1="249.61" y1="1142" x2="249.61" y2="1144" stroke="#a3271b" stroke-width="1.7"/>
<line x1="243.31" y1="1142" x2="255.91" y2="1142" stroke="#a3271b" stroke-width="1.7"/>
<line x1="243.31" y1="1144" x2="255.91" y2="1144" stroke="#a3271b" stroke-width="1.7"/>
<rect x="281.29" y="1048.8" width="21.12" height="110.2" fill="#d0d0d0"/>
<path d="M281.29 1159V1048.8H302.42V1159" fill="none" stroke="#151515" stroke-width="1.65"/>
<rect x="302.42" y="1057.3" width="21.12" height="101.7" fill="#275782"/>
<path d="M302.42 1159V1057.3H323.54V1159" fill="none" stroke="#151515" stroke-width="1.65"/>
<rect x="323.54" y="1067" width="21.12" height="92" fill="#d3e9f8"/>
<path d="M323.54 1159V1067H344.66V1159" fill="none" stroke="#151515" stroke-width="1.65"/>
<rect x="344.66" y="1151.1" width="21.12" height="7.9" fill="#ba6d37"/>
<path d="M344.66 1159V1151.1H365.79V1159" fill="none" stroke="#8b2010" stroke-width="1.65"/>
<line x1="291.85" y1="1017" x2="291.85" y2="1080.6" stroke="#555555" stroke-width="1.4"/>
<line x1="285.85" y1="1017" x2="297.85" y2="1017" stroke="#555555" stroke-width="1.4"/>
<line x1="285.85" y1="1080.6" x2="297.85" y2="1080.6" stroke="#555555" stroke-width="1.4"/>
<line x1="312.98" y1="1025.5" x2="312.98" y2="1089.1" stroke="#4b3f88" stroke-width="1.4"/>
<line x1="306.98" y1="1025.5" x2="318.98" y2="1025.5" stroke="#4b3f88" stroke-width="1.4"/>
<line x1="306.98" y1="1089.1" x2="318.98" y2="1089.1" stroke="#4b3f88" stroke-width="1.4"/>
<line x1="334.1" y1="1033.8" x2="334.1" y2="1100.2" stroke="#9dc3ee" stroke-width="1.4"/>
<line x1="328.1" y1="1033.8" x2="340.1" y2="1033.8" stroke="#9dc3ee" stroke-width="1.4"/>
<line x1="328.1" y1="1100.2" x2="340.1" y2="1100.2" stroke="#9dc3ee" stroke-width="1.4"/>
<line x1="355.23" y1="1149.9" x2="355.23" y2="1152.3" stroke="#a3271b" stroke-width="1.7"/>
<line x1="348.93" y1="1149.9" x2="361.53" y2="1149.9" stroke="#a3271b" stroke-width="1.7"/>
<line x1="348.93" y1="1152.3" x2="361.53" y2="1152.3" stroke="#a3271b" stroke-width="1.7"/>
<rect x="386.91" y="1008.7" width="21.12" height="150.3" fill="#d0d0d0"/>
<path d="M386.91 1159V1008.7H408.04V1159" fill="none" stroke="#151515" stroke-width="1.65"/>
<rect x="408.04" y="1018" width="21.12" height="141" fill="#275782"/>
<path d="M408.04 1159V1018H429.16V1159" fill="none" stroke="#151515" stroke-width="1.65"/>
<rect x="429.16" y="1029.1" width="21.12" height="129.9" fill="#d3e9f8"/>
<path d="M429.16 1159V1029.1H450.28V1159" fill="none" stroke="#151515" stroke-width="1.65"/>
<rect x="450.28" y="1149.9" width="21.12" height="9.1" fill="#ba6d37"/>
<path d="M450.28 1159V1149.9H471.41V1159" fill="none" stroke="#8b2010" stroke-width="1.65"/>
<line x1="397.47" y1="980.3" x2="397.47" y2="1037.1" stroke="#555555" stroke-width="1.4"/>
<line x1="391.47" y1="980.3" x2="403.47" y2="980.3" stroke="#555555" stroke-width="1.4"/>
<line x1="391.47" y1="1037.1" x2="403.47" y2="1037.1" stroke="#555555" stroke-width="1.4"/>
<line x1="418.6" y1="989.4" x2="418.6" y2="1046.6" stroke="#4b3f88" stroke-width="1.4"/>
<line x1="412.6" y1="989.4" x2="424.6" y2="989.4" stroke="#4b3f88" stroke-width="1.4"/>
<line x1="412.6" y1="1046.6" x2="424.6" y2="1046.6" stroke="#4b3f88" stroke-width="1.4"/>
<line x1="439.72" y1="999.1" x2="439.72" y2="1059.1" stroke="#9dc3ee" stroke-width="1.4"/>
<line x1="433.72" y1="999.1" x2="445.72" y2="999.1" stroke="#9dc3ee" stroke-width="1.4"/>
<line x1="433.72" y1="1059.1" x2="445.72" y2="1059.1" stroke="#9dc3ee" stroke-width="1.4"/>
<line x1="460.85" y1="1148.9" x2="460.85" y2="1150.9" stroke="#a3271b" stroke-width="1.7"/>
<line x1="454.55" y1="1148.9" x2="467.15" y2="1148.9" stroke="#a3271b" stroke-width="1.7"/>
<line x1="454.55" y1="1150.9" x2="467.15" y2="1150.9" stroke="#a3271b" stroke-width="1.7"/>
<rect x="492.53" y="1025.6" width="21.12" height="133.4" fill="#d0d0d0"/>
<path d="M492.53 1159V1025.6H513.66V1159" fill="none" stroke="#151515" stroke-width="1.65"/>
<rect x="513.66" y="1032.5" width="21.12" height="126.5" fill="#275782"/>
<path d="M513.66 1159V1032.5H534.78V1159" fill="none" stroke="#151515" stroke-width="1.65"/>
<rect x="534.78" y="1040.4" width="21.12" height="118.6" fill="#d3e9f8"/>
<path d="M534.78 1159V1040.4H555.9V1159" fill="none" stroke="#151515" stroke-width="1.65"/>
<rect x="555.9" y="1152.2" width="21.12" height="6.8" fill="#ba6d37"/>
<path d="M555.9 1159V1152.2H577.03V1159" fill="none" stroke="#8b2010" stroke-width="1.65"/>
<line x1="503.09" y1="997.2" x2="503.09" y2="1054" stroke="#555555" stroke-width="1.4"/>
<line x1="497.09" y1="997.2" x2="509.09" y2="997.2" stroke="#555555" stroke-width="1.4"/>
<line x1="497.09" y1="1054" x2="509.09" y2="1054" stroke="#555555" stroke-width="1.4"/>
<line x1="524.22" y1="1003.8" x2="524.22" y2="1061.2" stroke="#4b3f88" stroke-width="1.4"/>
<line x1="518.22" y1="1003.8" x2="530.22" y2="1003.8" stroke="#4b3f88" stroke-width="1.4"/>
<line x1="518.22" y1="1061.2" x2="530.22" y2="1061.2" stroke="#4b3f88" stroke-width="1.4"/>
<line x1="545.34" y1="1009.4" x2="545.34" y2="1071.4" stroke="#9dc3ee" stroke-width="1.4"/>
<line x1="539.34" y1="1009.4" x2="551.34" y2="1009.4" stroke="#9dc3ee" stroke-width="1.4"/>
<line x1="539.34" y1="1071.4" x2="551.34" y2="1071.4" stroke="#9dc3ee" stroke-width="1.4"/>
<line x1="566.47" y1="1151.2" x2="566.47" y2="1153.2" stroke="#a3271b" stroke-width="1.7"/>
<line x1="560.17" y1="1151.2" x2="572.77" y2="1151.2" stroke="#a3271b" stroke-width="1.7"/>
<line x1="560.17" y1="1153.2" x2="572.77" y2="1153.2" stroke="#a3271b" stroke-width="1.7"/>
<rect x="598.15" y="969.4" width="21.12" height="189.6" fill="#d0d0d0"/>
<path d="M598.15 1159V969.4H619.28V1159" fill="none" stroke="#151515" stroke-width="1.65"/>
<rect x="619.28" y="980.5" width="21.12" height="178.5" fill="#275782"/>
<path d="M619.28 1159V980.5H640.4V1159" fill="none" stroke="#151515" stroke-width="1.65"/>
<rect x="640.4" y="988.3" width="21.12" height="170.7" fill="#d3e9f8"/>
<path d="M640.4 1159V988.3H661.52V1159" fill="none" stroke="#151515" stroke-width="1.65"/>
<rect x="661.52" y="1147.6" width="21.12" height="11.4" fill="#ba6d37"/>
<path d="M661.52 1159V1147.6H682.65V1159" fill="none" stroke="#8b2010" stroke-width="1.65"/>
<line x1="608.71" y1="939.5" x2="608.71" y2="999.3" stroke="#555555" stroke-width="1.4"/>
<line x1="602.71" y1="939.5" x2="614.71" y2="939.5" stroke="#555555" stroke-width="1.4"/>
<line x1="602.71" y1="999.3" x2="614.71" y2="999.3" stroke="#555555" stroke-width="1.4"/>
<line x1="629.84" y1="950.3" x2="629.84" y2="1010.7" stroke="#4b3f88" stroke-width="1.4"/>
<line x1="623.84" y1="950.3" x2="635.84" y2="950.3" stroke="#4b3f88" stroke-width="1.4"/>
<line x1="623.84" y1="1010.7" x2="635.84" y2="1010.7" stroke="#4b3f88" stroke-width="1.4"/>
<line x1="650.96" y1="956.8" x2="650.96" y2="1019.8" stroke="#9dc3ee" stroke-width="1.4"/>
<line x1="644.96" y1="956.8" x2="656.96" y2="956.8" stroke="#9dc3ee" stroke-width="1.4"/>
<line x1="644.96" y1="1019.8" x2="656.96" y2="1019.8" stroke="#9dc3ee" stroke-width="1.4"/>
<line x1="672.09" y1="1146.6" x2="672.09" y2="1148.6" stroke="#a3271b" stroke-width="1.7"/>
<line x1="665.79" y1="1146.6" x2="678.39" y2="1146.6" stroke="#a3271b" stroke-width="1.7"/>
<line x1="665.79" y1="1148.6" x2="678.39" y2="1148.6" stroke="#a3271b" stroke-width="1.7"/>
<rect x="703.77" y="999.4" width="21.12" height="159.6" fill="#d0d0d0"/>
<path d="M703.77 1159V999.4H724.9V1159" fill="none" stroke="#151515" stroke-width="1.65"/>
<rect x="724.9" y="1012.9" width="21.12" height="146.1" fill="#275782"/>
<path d="M724.9 1159V1012.9H746.02V1159" fill="none" stroke="#151515" stroke-width="1.65"/>
<rect x="746.02" y="1021.4" width="21.12" height="137.6" fill="#d3e9f8"/>
<path d="M746.02 1159V1021.4H767.14V1159" fill="none" stroke="#151515" stroke-width="1.65"/>
<rect x="767.14" y="1145.3" width="21.12" height="13.7" fill="#ba6d37"/>
<path d="M767.14 1159V1145.3H788.27V1159" fill="none" stroke="#8b2010" stroke-width="1.65"/>
<line x1="714.33" y1="979.7" x2="714.33" y2="1019.1" stroke="#555555" stroke-width="1.4"/>
<line x1="708.33" y1="979.7" x2="720.33" y2="979.7" stroke="#555555" stroke-width="1.4"/>
<line x1="708.33" y1="1019.1" x2="720.33" y2="1019.1" stroke="#555555" stroke-width="1.4"/>
<line x1="735.46" y1="993.2" x2="735.46" y2="1032.6" stroke="#4b3f88" stroke-width="1.4"/>
<line x1="729.46" y1="993.2" x2="741.46" y2="993.2" stroke="#4b3f88" stroke-width="1.4"/>
<line x1="729.46" y1="1032.6" x2="741.46" y2="1032.6" stroke="#4b3f88" stroke-width="1.4"/>
<line x1="756.58" y1="1000.2" x2="756.58" y2="1042.6" stroke="#9dc3ee" stroke-width="1.4"/>
<line x1="750.58" y1="1000.2" x2="762.58" y2="1000.2" stroke="#9dc3ee" stroke-width="1.4"/>
<line x1="750.58" y1="1042.6" x2="762.58" y2="1042.6" stroke="#9dc3ee" stroke-width="1.4"/>
<line x1="777.71" y1="1144.3" x2="777.71" y2="1146.3" stroke="#a3271b" stroke-width="1.7"/>
<line x1="771.41" y1="1144.3" x2="784.01" y2="1144.3" stroke="#a3271b" stroke-width="1.7"/>
<line x1="771.41" y1="1146.3" x2="784.01" y2="1146.3" stroke="#a3271b" stroke-width="1.7"/>
<rect x="809.39" y="1014.5" width="21.12" height="144.5" fill="#d0d0d0"/>
<path d="M809.39 1159V1014.5H830.52V1159" fill="none" stroke="#151515" stroke-width="1.65"/>
<rect x="830.52" y="1029.1" width="21.12" height="129.9" fill="#275782"/>
<path d="M830.52 1159V1029.1H851.64V1159" fill="none" stroke="#151515" stroke-width="1.65"/>
<rect x="851.64" y="1038.8" width="21.12" height="120.2" fill="#d3e9f8"/>
<path d="M851.64 1159V1038.8H872.76V1159" fill="none" stroke="#151515" stroke-width="1.65"/>
<rect x="872.76" y="1144.1" width="21.12" height="14.9" fill="#ba6d37"/>
<path d="M872.76 1159V1144.1H893.89V1159" fill="none" stroke="#8b2010" stroke-width="1.65"/>
<line x1="819.95" y1="1013" x2="819.95" y2="1016" stroke="#555555" stroke-width="1.4"/>
<line x1="813.95" y1="1013" x2="825.95" y2="1013" stroke="#555555" stroke-width="1.4"/>
<line x1="813.95" y1="1016" x2="825.95" y2="1016" stroke="#555555" stroke-width="1.4"/>
<line x1="841.08" y1="1027.6" x2="841.08" y2="1030.6" stroke="#4b3f88" stroke-width="1.4"/>
<line x1="835.08" y1="1027.6" x2="847.08" y2="1027.6" stroke="#4b3f88" stroke-width="1.4"/>
<line x1="835.08" y1="1030.6" x2="847.08" y2="1030.6" stroke="#4b3f88" stroke-width="1.4"/>
<line x1="862.2" y1="1029.2" x2="862.2" y2="1048.4" stroke="#9dc3ee" stroke-width="1.4"/>
<line x1="856.2" y1="1029.2" x2="868.2" y2="1029.2" stroke="#9dc3ee" stroke-width="1.4"/>
<line x1="856.2" y1="1048.4" x2="868.2" y2="1048.4" stroke="#9dc3ee" stroke-width="1.4"/>
<line x1="883.33" y1="1143.6" x2="883.33" y2="1144.6" stroke="#a3271b" stroke-width="1.7"/>
<line x1="877.03" y1="1143.6" x2="889.63" y2="1143.6" stroke="#a3271b" stroke-width="1.7"/>
<line x1="877.03" y1="1144.6" x2="889.63" y2="1144.6" stroke="#a3271b" stroke-width="1.7"/>
<rect x="915.01" y="1010.3" width="21.12" height="148.7" fill="#d0d0d0"/>
<path d="M915.01 1159V1010.3H936.14V1159" fill="none" stroke="#151515" stroke-width="1.65"/>
<rect x="936.14" y="1023.8" width="21.12" height="135.2" fill="#275782"/>
<path d="M936.14 1159V1023.8H957.26V1159" fill="none" stroke="#151515" stroke-width="1.65"/>
<rect x="957.26" y="1031.4" width="21.12" height="127.6" fill="#d3e9f8"/>
<path d="M957.26 1159V1031.4H978.38V1159" fill="none" stroke="#151515" stroke-width="1.65"/>
<rect x="978.38" y="1145.7" width="21.12" height="13.3" fill="#ba6d37"/>
<path d="M978.38 1159V1145.7H999.51V1159" fill="none" stroke="#8b2010" stroke-width="1.65"/>
<line x1="925.57" y1="981" x2="925.57" y2="1039.6" stroke="#555555" stroke-width="1.4"/>
<line x1="919.57" y1="981" x2="931.57" y2="981" stroke="#555555" stroke-width="1.4"/>
<line x1="919.57" y1="1039.6" x2="931.57" y2="1039.6" stroke="#555555" stroke-width="1.4"/>
<line x1="946.7" y1="994.3" x2="946.7" y2="1053.3" stroke="#4b3f88" stroke-width="1.4"/>
<line x1="940.7" y1="994.3" x2="952.7" y2="994.3" stroke="#4b3f88" stroke-width="1.4"/>
<line x1="940.7" y1="1053.3" x2="952.7" y2="1053.3" stroke="#4b3f88" stroke-width="1.4"/>
<line x1="967.82" y1="1000.5" x2="967.82" y2="1062.3" stroke="#9dc3ee" stroke-width="1.4"/>
<line x1="961.82" y1="1000.5" x2="973.82" y2="1000.5" stroke="#9dc3ee" stroke-width="1.4"/>
<line x1="961.82" y1="1062.3" x2="973.82" y2="1062.3" stroke="#9dc3ee" stroke-width="1.4"/>
<line x1="988.95" y1="1144" x2="988.95" y2="1147.4" stroke="#a3271b" stroke-width="1.7"/>
<line x1="982.65" y1="1144" x2="995.25" y2="1144" stroke="#a3271b" stroke-width="1.7"/>
<line x1="982.65" y1="1147.4" x2="995.25" y2="1147.4" stroke="#a3271b" stroke-width="1.7"/>
<rect x="1020.63" y="1025.4" width="21.12" height="133.6" fill="#d0d0d0"/>
<path d="M1020.63 1159V1025.4H1041.76V1159" fill="none" stroke="#151515" stroke-width="1.65"/>
<rect x="1041.76" y="1034.2" width="21.12" height="124.8" fill="#275782"/>
<path d="M1041.76 1159V1034.2H1062.88V1159" fill="none" stroke="#151515" stroke-width="1.65"/>
<rect x="1062.88" y="1043.9" width="21.12" height="115.1" fill="#d3e9f8"/>
<path d="M1062.88 1159V1043.9H1084V1159" fill="none" stroke="#151515" stroke-width="1.65"/>
<rect x="1084" y="1149.9" width="21.12" height="9.1" fill="#ba6d37"/>
<path d="M1084 1159V1149.9H1105.13V1159" fill="none" stroke="#8b2010" stroke-width="1.65"/>
<line x1="1031.19" y1="995.1" x2="1031.19" y2="1055.7" stroke="#555555" stroke-width="1.4"/>
<line x1="1025.19" y1="995.1" x2="1037.19" y2="995.1" stroke="#555555" stroke-width="1.4"/>
<line x1="1025.19" y1="1055.7" x2="1037.19" y2="1055.7" stroke="#555555" stroke-width="1.4"/>
<line x1="1052.32" y1="1003.8" x2="1052.32" y2="1064.6" stroke="#4b3f88" stroke-width="1.4"/>
<line x1="1046.32" y1="1003.8" x2="1058.32" y2="1003.8" stroke="#4b3f88" stroke-width="1.4"/>
<line x1="1046.32" y1="1064.6" x2="1058.32" y2="1064.6" stroke="#4b3f88" stroke-width="1.4"/>
<line x1="1073.44" y1="1012.1" x2="1073.44" y2="1075.7" stroke="#9dc3ee" stroke-width="1.4"/>
<line x1="1067.44" y1="1012.1" x2="1079.44" y2="1012.1" stroke="#9dc3ee" stroke-width="1.4"/>
<line x1="1067.44" y1="1075.7" x2="1079.44" y2="1075.7" stroke="#9dc3ee" stroke-width="1.4"/>
<line x1="1094.57" y1="1147.9" x2="1094.57" y2="1151.9" stroke="#a3271b" stroke-width="1.7"/>
<line x1="1088.27" y1="1147.9" x2="1100.87" y2="1147.9" stroke="#a3271b" stroke-width="1.7"/>
<line x1="1088.27" y1="1151.9" x2="1100.87" y2="1151.9" stroke="#a3271b" stroke-width="1.7"/>
<line x1="112.3" y1="1159" x2="1168.5" y2="1159" stroke="#a0a0a0" stroke-width="1.2"/>
<line x1="217.92" y1="760.7" x2="217.92" y2="817.9" stroke="#3d9e5c" stroke-width="1.5"/>
<line x1="209.12" y1="760.7" x2="226.72" y2="760.7" stroke="#3d9e5c" stroke-width="1.5"/>
<line x1="209.12" y1="817.9" x2="226.72" y2="817.9" stroke="#3d9e5c" stroke-width="1.5"/>
<line x1="323.54" y1="771.4" x2="323.54" y2="836.2" stroke="#3d9e5c" stroke-width="1.5"/>
<line x1="314.74" y1="771.4" x2="332.34" y2="771.4" stroke="#3d9e5c" stroke-width="1.5"/>
<line x1="314.74" y1="836.2" x2="332.34" y2="836.2" stroke="#3d9e5c" stroke-width="1.5"/>
<line x1="429.16" y1="765.7" x2="429.16" y2="829.1" stroke="#3d9e5c" stroke-width="1.5"/>
<line x1="420.36" y1="765.7" x2="437.96" y2="765.7" stroke="#3d9e5c" stroke-width="1.5"/>
<line x1="420.36" y1="829.1" x2="437.96" y2="829.1" stroke="#3d9e5c" stroke-width="1.5"/>
<line x1="534.78" y1="773.4" x2="534.78" y2="813.4" stroke="#3d9e5c" stroke-width="1.5"/>
<line x1="525.98" y1="773.4" x2="543.58" y2="773.4" stroke="#3d9e5c" stroke-width="1.5"/>
<line x1="525.98" y1="813.4" x2="543.58" y2="813.4" stroke="#3d9e5c" stroke-width="1.5"/>
<line x1="640.4" y1="756.7" x2="640.4" y2="812.5" stroke="#3d9e5c" stroke-width="1.5"/>
<line x1="631.6" y1="756.7" x2="649.2" y2="756.7" stroke="#3d9e5c" stroke-width="1.5"/>
<line x1="631.6" y1="812.5" x2="649.2" y2="812.5" stroke="#3d9e5c" stroke-width="1.5"/>
<line x1="746.02" y1="705.6" x2="746.02" y2="802.6" stroke="#3d9e5c" stroke-width="1.5"/>
<line x1="737.22" y1="705.6" x2="754.82" y2="705.6" stroke="#3d9e5c" stroke-width="1.5"/>
<line x1="737.22" y1="802.6" x2="754.82" y2="802.6" stroke="#3d9e5c" stroke-width="1.5"/>
<line x1="851.64" y1="729.9" x2="851.64" y2="774.5" stroke="#3d9e5c" stroke-width="1.5"/>
<line x1="842.84" y1="729.9" x2="860.44" y2="729.9" stroke="#3d9e5c" stroke-width="1.5"/>
<line x1="842.84" y1="774.5" x2="860.44" y2="774.5" stroke="#3d9e5c" stroke-width="1.5"/>
<line x1="957.26" y1="725.6" x2="957.26" y2="805.6" stroke="#3d9e5c" stroke-width="1.5"/>
<line x1="948.46" y1="725.6" x2="966.06" y2="725.6" stroke="#3d9e5c" stroke-width="1.5"/>
<line x1="948.46" y1="805.6" x2="966.06" y2="805.6" stroke="#3d9e5c" stroke-width="1.5"/>
<line x1="1062.88" y1="741.1" x2="1062.88" y2="817.9" stroke="#3d9e5c" stroke-width="1.5"/>
<line x1="1054.08" y1="741.1" x2="1071.68" y2="741.1" stroke="#3d9e5c" stroke-width="1.5"/>
<line x1="1054.08" y1="817.9" x2="1071.68" y2="817.9" stroke="#3d9e5c" stroke-width="1.5"/>
<line x1="217.92" y1="854.3" x2="217.92" y2="926.1" stroke="#4b5cb4" stroke-width="1.4"/>
<line x1="209.12" y1="854.3" x2="226.72" y2="854.3" stroke="#4b5cb4" stroke-width="1.4"/>
<line x1="209.12" y1="926.1" x2="226.72" y2="926.1" stroke="#4b5cb4" stroke-width="1.4"/>
<line x1="323.54" y1="838.6" x2="323.54" y2="924.2" stroke="#4b5cb4" stroke-width="1.4"/>
<line x1="314.74" y1="838.6" x2="332.34" y2="838.6" stroke="#4b5cb4" stroke-width="1.4"/>
<line x1="314.74" y1="924.2" x2="332.34" y2="924.2" stroke="#4b5cb4" stroke-width="1.4"/>
<line x1="429.16" y1="823.1" x2="429.16" y2="930.5" stroke="#4b5cb4" stroke-width="1.4"/>
<line x1="420.36" y1="823.1" x2="437.96" y2="823.1" stroke="#4b5cb4" stroke-width="1.4"/>
<line x1="420.36" y1="930.5" x2="437.96" y2="930.5" stroke="#4b5cb4" stroke-width="1.4"/>
<line x1="534.78" y1="827.7" x2="534.78" y2="913.3" stroke="#4b5cb4" stroke-width="1.4"/>
<line x1="525.98" y1="827.7" x2="543.58" y2="827.7" stroke="#4b5cb4" stroke-width="1.4"/>
<line x1="525.98" y1="913.3" x2="543.58" y2="913.3" stroke="#4b5cb4" stroke-width="1.4"/>
<line x1="640.4" y1="822.7" x2="640.4" y2="914.7" stroke="#4b5cb4" stroke-width="1.4"/>
<line x1="631.6" y1="822.7" x2="649.2" y2="822.7" stroke="#4b5cb4" stroke-width="1.4"/>
<line x1="631.6" y1="914.7" x2="649.2" y2="914.7" stroke="#4b5cb4" stroke-width="1.4"/>
<line x1="746.02" y1="835.4" x2="746.02" y2="936.6" stroke="#4b5cb4" stroke-width="1.4"/>
<line x1="737.22" y1="835.4" x2="754.82" y2="835.4" stroke="#4b5cb4" stroke-width="1.4"/>
<line x1="737.22" y1="936.6" x2="754.82" y2="936.6" stroke="#4b5cb4" stroke-width="1.4"/>
<line x1="851.64" y1="881" x2="851.64" y2="961.4" stroke="#4b5cb4" stroke-width="1.4"/>
<line x1="842.84" y1="881" x2="860.44" y2="881" stroke="#4b5cb4" stroke-width="1.4"/>
<line x1="842.84" y1="961.4" x2="860.44" y2="961.4" stroke="#4b5cb4" stroke-width="1.4"/>
<line x1="957.26" y1="828.1" x2="957.26" y2="927.7" stroke="#4b5cb4" stroke-width="1.4"/>
<line x1="948.46" y1="828.1" x2="966.06" y2="828.1" stroke="#4b5cb4" stroke-width="1.4"/>
<line x1="948.46" y1="927.7" x2="966.06" y2="927.7" stroke="#4b5cb4" stroke-width="1.4"/>
<line x1="1062.88" y1="835" x2="1062.88" y2="928.8" stroke="#4b5cb4" stroke-width="1.4"/>
<line x1="1054.08" y1="835" x2="1071.68" y2="835" stroke="#4b5cb4" stroke-width="1.4"/>
<line x1="1054.08" y1="928.8" x2="1071.68" y2="928.8" stroke="#4b5cb4" stroke-width="1.4"/>
<line x1="224.36" y1="790.18" x2="317.1" y2="802.92" stroke="#0b7d2c" stroke-width="2.3" stroke-linecap="butt"/>
<line x1="330.03" y1="803.41" x2="422.67" y2="797.79" stroke="#0b7d2c" stroke-width="2.3" stroke-linecap="butt"/>
<line x1="435.66" y1="797.15" x2="528.28" y2="793.65" stroke="#0b7d2c" stroke-width="2.3" stroke-linecap="butt"/>
<line x1="541.26" y1="792.86" x2="633.92" y2="785.14" stroke="#0b7d2c" stroke-width="2.3" stroke-linecap="butt"/>
<line x1="646.64" y1="782.8" x2="739.78" y2="755.9" stroke="#0b7d2c" stroke-width="2.3" stroke-linecap="butt"/>
<line x1="752.52" y1="753.98" x2="845.14" y2="752.32" stroke="#0b7d2c" stroke-width="2.3" stroke-linecap="butt"/>
<line x1="858.09" y1="753.02" x2="950.81" y2="764.78" stroke="#0b7d2c" stroke-width="2.3" stroke-linecap="butt"/>
<line x1="963.7" y1="766.45" x2="1056.44" y2="778.65" stroke="#0b7d2c" stroke-width="2.3" stroke-linecap="butt"/>
<path d="M217.92 782.4L224.72 789.3L217.92 796.2L211.12 789.3Z" fill="#068536"/>
<path d="M323.54 796.9L330.34 803.8L323.54 810.7L316.74 803.8Z" fill="#068536"/>
<path d="M429.16 790.5L435.96 797.4L429.16 804.3L422.36 797.4Z" fill="#068536"/>
<path d="M534.78 786.5L541.58 793.4L534.78 800.3L527.98 793.4Z" fill="#068536"/>
<path d="M640.4 777.7L647.2 784.6L640.4 791.5L633.6 784.6Z" fill="#068536"/>
<path d="M746.02 747.2L752.82 754.1L746.02 761L739.22 754.1Z" fill="#068536"/>
<path d="M851.64 745.3L858.44 752.2L851.64 759.1L844.84 752.2Z" fill="#068536"/>
<path d="M957.26 758.7L964.06 765.6L957.26 772.5L950.46 765.6Z" fill="#068536"/>
<path d="M1062.88 772.6L1069.68 779.5L1062.88 786.4L1056.08 779.5Z" fill="#068536"/>
<line x1="224.8" y1="889.63" x2="316.66" y2="881.97" stroke="#2537a0" stroke-width="2.3" stroke-linecap="butt"/>
<line x1="330.43" y1="881.1" x2="422.27" y2="877.1" stroke="#2537a0" stroke-width="2.3" stroke-linecap="butt"/>
<line x1="436.05" y1="876.39" x2="527.89" y2="870.91" stroke="#2537a0" stroke-width="2.3" stroke-linecap="butt"/>
<line x1="541.68" y1="870.38" x2="633.5" y2="868.82" stroke="#2537a0" stroke-width="2.3" stroke-linecap="butt"/>
<line x1="647.21" y1="869.82" x2="739.21" y2="884.88" stroke="#2537a0" stroke-width="2.3" stroke-linecap="butt"/>
<line x1="752.57" y1="888.18" x2="845.09" y2="919.02" stroke="#2537a0" stroke-width="2.3" stroke-linecap="butt"/>
<line x1="858.02" y1="918.58" x2="950.88" y2="880.52" stroke="#2537a0" stroke-width="2.3" stroke-linecap="butt"/>
<line x1="964.16" y1="878.16" x2="1055.98" y2="881.64" stroke="#2537a0" stroke-width="2.3" stroke-linecap="butt"/>
<circle cx="217.92" cy="890.2" r="5.3" fill="#3347a0"/>
<circle cx="323.54" cy="881.4" r="5.3" fill="#3347a0"/>
<circle cx="429.16" cy="876.8" r="5.3" fill="#3347a0"/>
<circle cx="534.78" cy="870.5" r="5.3" fill="#3347a0"/>
<circle cx="640.4" cy="868.7" r="5.3" fill="#3347a0"/>
<circle cx="746.02" cy="886" r="5.3" fill="#3347a0"/>
<circle cx="851.64" cy="921.2" r="5.3" fill="#3347a0"/>
<circle cx="957.26" cy="877.9" r="5.3" fill="#3347a0"/>
<circle cx="1062.88" cy="881.9" r="5.3" fill="#3347a0"/>
<line x1="223.43" y1="1075.64" x2="318.03" y2="1124.36" stroke="#000" stroke-width="2.5" stroke-linecap="butt"/>
<line x1="329.74" y1="1127.33" x2="422.96" y2="1129.37" stroke="#000" stroke-width="2.5" stroke-linecap="butt"/>
<line x1="435.34" y1="1130.04" x2="528.6" y2="1138.26" stroke="#000" stroke-width="2.5" stroke-linecap="butt"/>
<line x1="540.98" y1="1138.73" x2="634.2" y2="1137.67" stroke="#000" stroke-width="2.5" stroke-linecap="butt"/>
<line x1="646.49" y1="1136.46" x2="739.93" y2="1119.04" stroke="#000" stroke-width="2.5" stroke-linecap="butt"/>
<line x1="752.18" y1="1118.58" x2="845.48" y2="1128.82" stroke="#000" stroke-width="2.5" stroke-linecap="butt"/>
<line x1="857.39" y1="1127.17" x2="951.51" y2="1089.03" stroke="#000" stroke-width="2.5" stroke-linecap="butt"/>
<line x1="962.77" y1="1089.54" x2="1057.37" y2="1138.26" stroke="#000" stroke-width="2.5" stroke-linecap="butt"/>
<path d="M217.92 1065.8L224.72 1076.3L211.12 1076.3Z" fill="#000"/>
<path d="M323.54 1120.2L330.34 1130.7L316.74 1130.7Z" fill="#000"/>
<path d="M429.16 1122.5L435.96 1133L422.36 1133Z" fill="#000"/>
<path d="M534.78 1131.8L541.58 1142.3L527.98 1142.3Z" fill="#000"/>
<path d="M640.4 1130.6L647.2 1141.1L633.6 1141.1Z" fill="#000"/>
<path d="M746.02 1110.9L752.82 1121.4L739.22 1121.4Z" fill="#000"/>
<path d="M851.64 1122.5L858.44 1133L844.84 1133Z" fill="#000"/>
<path d="M957.26 1079.7L964.06 1090.2L950.46 1090.2Z" fill="#000"/>
<path d="M1062.88 1134.1L1069.68 1144.6L1056.08 1144.6Z" fill="#000"/>
<path d="M112.3 1159V605.6H1168.5V1159" fill="none" stroke="#000" stroke-width="2.4"/>
<line x1="111.1" y1="1159" x2="123.3" y2="1159" stroke="#000" stroke-width="2.2"/>
<text transform="translate(101.8 1168) scale(0.895 1)" font-size="35" fill="#000" stroke="#000" text-anchor="end">0</text>
<line x1="111.1" y1="1112.88" x2="117.8" y2="1112.88" stroke="#000" stroke-width="2.2"/>
<line x1="111.1" y1="1066.77" x2="123.3" y2="1066.77" stroke="#000" stroke-width="2.2"/>
<text transform="translate(101.8 1075.77) scale(0.895 1)" font-size="35" fill="#000" stroke="#000" text-anchor="end">10</text>
<line x1="111.1" y1="1020.65" x2="117.8" y2="1020.65" stroke="#000" stroke-width="2.2"/>
<line x1="111.1" y1="974.53" x2="123.3" y2="974.53" stroke="#000" stroke-width="2.2"/>
<text transform="translate(101.8 983.53) scale(0.895 1)" font-size="35" fill="#000" stroke="#000" text-anchor="end">20</text>
<line x1="111.1" y1="928.42" x2="117.8" y2="928.42" stroke="#000" stroke-width="2.2"/>
<line x1="111.1" y1="882.3" x2="123.3" y2="882.3" stroke="#000" stroke-width="2.2"/>
<text transform="translate(101.8 891.3) scale(0.895 1)" font-size="35" fill="#000" stroke="#000" text-anchor="end">30</text>
<line x1="111.1" y1="836.18" x2="117.8" y2="836.18" stroke="#000" stroke-width="2.2"/>
<line x1="111.1" y1="790.07" x2="123.3" y2="790.07" stroke="#000" stroke-width="2.2"/>
<text transform="translate(101.8 799.07) scale(0.895 1)" font-size="35" fill="#000" stroke="#000" text-anchor="end">40</text>
<line x1="111.1" y1="743.95" x2="117.8" y2="743.95" stroke="#000" stroke-width="2.2"/>
<line x1="111.1" y1="697.83" x2="123.3" y2="697.83" stroke="#000" stroke-width="2.2"/>
<text transform="translate(101.8 706.83) scale(0.895 1)" font-size="35" fill="#000" stroke="#000" text-anchor="end">50</text>
<line x1="111.1" y1="651.72" x2="117.8" y2="651.72" stroke="#000" stroke-width="2.2"/>
<line x1="111.1" y1="605.6" x2="123.3" y2="605.6" stroke="#000" stroke-width="2.2"/>
<text transform="translate(101.8 614.6) scale(0.895 1)" font-size="35" fill="#000" stroke="#000" text-anchor="end">60</text>
<line x1="1158" y1="1159" x2="1169.7" y2="1159" stroke="#000" stroke-width="2.2"/>
<text transform="translate(1180.7 1168) scale(0.895 1)" font-size="35" fill="#2b3a98" stroke="#2b3a98" text-anchor="start">-1.2</text>
<line x1="1163.3" y1="1112.88" x2="1169.7" y2="1112.88" stroke="#000" stroke-width="2.2"/>
<line x1="1158" y1="1066.77" x2="1169.7" y2="1066.77" stroke="#000" stroke-width="2.2"/>
<text transform="translate(1180.7 1075.77) scale(0.895 1)" font-size="35" fill="#2b3a98" stroke="#2b3a98" text-anchor="start">-0.8</text>
<line x1="1163.3" y1="1020.65" x2="1169.7" y2="1020.65" stroke="#000" stroke-width="2.2"/>
<line x1="1158" y1="974.53" x2="1169.7" y2="974.53" stroke="#000" stroke-width="2.2"/>
<text transform="translate(1180.7 983.53) scale(0.895 1)" font-size="35" fill="#2b3a98" stroke="#2b3a98" text-anchor="start">-0.4</text>
<line x1="1163.3" y1="928.42" x2="1169.7" y2="928.42" stroke="#000" stroke-width="2.2"/>
<line x1="1158" y1="882.3" x2="1169.7" y2="882.3" stroke="#000" stroke-width="2.2"/>
<text transform="translate(1180.7 891.3) scale(0.895 1)" font-size="35" fill="#2b3a98" stroke="#2b3a98" text-anchor="start">0.0</text>
<line x1="1163.3" y1="836.18" x2="1169.7" y2="836.18" stroke="#000" stroke-width="2.2"/>
<line x1="1158" y1="790.07" x2="1169.7" y2="790.07" stroke="#000" stroke-width="2.2"/>
<text transform="translate(1180.7 799.07) scale(0.895 1)" font-size="35" fill="#2b3a98" stroke="#2b3a98" text-anchor="start">0.4</text>
<line x1="1163.3" y1="743.95" x2="1169.7" y2="743.95" stroke="#000" stroke-width="2.2"/>
<line x1="1158" y1="697.83" x2="1169.7" y2="697.83" stroke="#000" stroke-width="2.2"/>
<text transform="translate(1180.7 706.83) scale(0.895 1)" font-size="35" fill="#2b3a98" stroke="#2b3a98" text-anchor="start">0.8</text>
<line x1="1163.3" y1="651.72" x2="1169.7" y2="651.72" stroke="#000" stroke-width="2.2"/>
<line x1="1158" y1="605.6" x2="1169.7" y2="605.6" stroke="#000" stroke-width="2.2"/>
<text transform="translate(1180.7 614.6) scale(0.895 1)" font-size="35" fill="#2b3a98" stroke="#2b3a98" text-anchor="start">1.2</text>
<line x1="1295.6" y1="604.5" x2="1295.6" y2="1160.1" stroke="#000" stroke-width="2.4"/>
<line x1="1284.6" y1="1159" x2="1295.6" y2="1159" stroke="#000" stroke-width="2.2"/>
<text transform="translate(1308.7 1168) scale(0.895 1)" font-size="35" fill="#000" stroke="#000" text-anchor="start">0</text>
<line x1="1290.4" y1="1112.88" x2="1295.6" y2="1112.88" stroke="#000" stroke-width="2.2"/>
<line x1="1284.6" y1="1066.77" x2="1295.6" y2="1066.77" stroke="#000" stroke-width="2.2"/>
<text transform="translate(1308.7 1075.77) scale(0.895 1)" font-size="35" fill="#000" stroke="#000" text-anchor="start">250</text>
<line x1="1290.4" y1="1020.65" x2="1295.6" y2="1020.65" stroke="#000" stroke-width="2.2"/>
<line x1="1284.6" y1="974.53" x2="1295.6" y2="974.53" stroke="#000" stroke-width="2.2"/>
<text transform="translate(1308.7 983.53) scale(0.895 1)" font-size="35" fill="#000" stroke="#000" text-anchor="start">500</text>
<line x1="1290.4" y1="928.42" x2="1295.6" y2="928.42" stroke="#000" stroke-width="2.2"/>
<line x1="1284.6" y1="882.3" x2="1295.6" y2="882.3" stroke="#000" stroke-width="2.2"/>
<text transform="translate(1308.7 891.3) scale(0.895 1)" font-size="35" fill="#000" stroke="#000" text-anchor="start">750</text>
<line x1="1290.4" y1="836.18" x2="1295.6" y2="836.18" stroke="#000" stroke-width="2.2"/>
<line x1="1284.6" y1="790.07" x2="1295.6" y2="790.07" stroke="#000" stroke-width="2.2"/>
<text transform="translate(1308.7 799.07) scale(0.895 1)" font-size="35" fill="#000" stroke="#000" text-anchor="start">1000</text>
<line x1="1290.4" y1="743.95" x2="1295.6" y2="743.95" stroke="#000" stroke-width="2.2"/>
<line x1="1284.6" y1="697.83" x2="1295.6" y2="697.83" stroke="#000" stroke-width="2.2"/>
<text transform="translate(1308.7 706.83) scale(0.895 1)" font-size="35" fill="#000" stroke="#000" text-anchor="start">1250</text>
<line x1="1290.4" y1="651.72" x2="1295.6" y2="651.72" stroke="#000" stroke-width="2.2"/>
<line x1="1284.6" y1="605.6" x2="1295.6" y2="605.6" stroke="#000" stroke-width="2.2"/>
<text transform="translate(1308.7 614.6) scale(0.895 1)" font-size="35" fill="#000" stroke="#000" text-anchor="start">1500</text>
<line x1="1432.2" y1="604.5" x2="1432.2" y2="1160.1" stroke="#000" stroke-width="2.4"/>
<line x1="1421.2" y1="1159" x2="1432.2" y2="1159" stroke="#000" stroke-width="2.2"/>
<text transform="translate(1455.1 1168) scale(0.895 1)" font-size="35" fill="#138030" stroke="#138030" text-anchor="start">18</text>
<line x1="1427" y1="1112.88" x2="1432.2" y2="1112.88" stroke="#000" stroke-width="2.2"/>
<line x1="1421.2" y1="1066.77" x2="1432.2" y2="1066.77" stroke="#000" stroke-width="2.2"/>
<text transform="translate(1455.1 1075.77) scale(0.895 1)" font-size="35" fill="#138030" stroke="#138030" text-anchor="start">20</text>
<line x1="1427" y1="1020.65" x2="1432.2" y2="1020.65" stroke="#000" stroke-width="2.2"/>
<line x1="1421.2" y1="974.53" x2="1432.2" y2="974.53" stroke="#000" stroke-width="2.2"/>
<text transform="translate(1455.1 983.53) scale(0.895 1)" font-size="35" fill="#138030" stroke="#138030" text-anchor="start">22</text>
<line x1="1427" y1="928.42" x2="1432.2" y2="928.42" stroke="#000" stroke-width="2.2"/>
<line x1="1421.2" y1="882.3" x2="1432.2" y2="882.3" stroke="#000" stroke-width="2.2"/>
<text transform="translate(1455.1 891.3) scale(0.895 1)" font-size="35" fill="#138030" stroke="#138030" text-anchor="start">24</text>
<line x1="1427" y1="836.18" x2="1432.2" y2="836.18" stroke="#000" stroke-width="2.2"/>
<line x1="1421.2" y1="790.07" x2="1432.2" y2="790.07" stroke="#000" stroke-width="2.2"/>
<text transform="translate(1455.1 799.07) scale(0.895 1)" font-size="35" fill="#138030" stroke="#138030" text-anchor="start">26</text>
<line x1="1427" y1="743.95" x2="1432.2" y2="743.95" stroke="#000" stroke-width="2.2"/>
<line x1="1421.2" y1="697.83" x2="1432.2" y2="697.83" stroke="#000" stroke-width="2.2"/>
<text transform="translate(1455.1 706.83) scale(0.895 1)" font-size="35" fill="#138030" stroke="#138030" text-anchor="start">28</text>
<line x1="1427" y1="651.72" x2="1432.2" y2="651.72" stroke="#000" stroke-width="2.2"/>
<line x1="1421.2" y1="605.6" x2="1432.2" y2="605.6" stroke="#000" stroke-width="2.2"/>
<text transform="translate(1455.1 614.6) scale(0.895 1)" font-size="35" fill="#138030" stroke="#138030" text-anchor="start">30</text>
<text transform="translate(124.81 655) scale(0.8875 1)" font-size="52.5" stroke="#000">TAB_TEF</text>
<text transform="translate(45.2 1038.41) rotate(-90) scale(0.8705 1)" font-size="40.5" fill="#000" stroke="#000">Flux (mg CH<tspan font-size="27.5" dy="10.2">4</tspan><tspan dy="-10.2">m</tspan><tspan font-size="27.5" dy="-16">-2</tspan><tspan dy="16">d</tspan><tspan font-size="27.5" dy="-16.5">-1</tspan><tspan dy="16.5">)</tspan></text>
<text transform="translate(1259.8 1089.34) rotate(-90) scale(0.8718 1)" font-size="34.5" fill="#2b3a98" stroke="#2b3a98">Equivalent Water Thickness (m)</text>
<text transform="translate(1406.9 999.44) rotate(-90) scale(0.8691 1)" font-size="34.5" fill="#000" stroke="#000">Burned area (km<tspan font-size="24" dy="-14.1">2</tspan><tspan dy="14.1">)</tspan></text>
<text transform="translate(1529.2 993.4) rotate(-90) scale(0.8859 1)" font-size="34.5" fill="#138030" stroke="#138030">Temperature (<tspan font-size="23.5" dy="-13.2">o</tspan><tspan dy="13.2">C)</tspan></text>
<line x1="112.3" y1="1748" x2="112.3" y2="1755" stroke="#a0a0a0" stroke-width="1.1"/>
<line x1="165.11" y1="1748" x2="165.11" y2="1751.5" stroke="#a0a0a0" stroke-width="1.1"/>
<line x1="217.92" y1="1748" x2="217.92" y2="1755" stroke="#a0a0a0" stroke-width="1.1"/>
<line x1="270.73" y1="1748" x2="270.73" y2="1751.5" stroke="#a0a0a0" stroke-width="1.1"/>
<line x1="323.54" y1="1748" x2="323.54" y2="1755" stroke="#a0a0a0" stroke-width="1.1"/>
<line x1="376.35" y1="1748" x2="376.35" y2="1751.5" stroke="#a0a0a0" stroke-width="1.1"/>
<line x1="429.16" y1="1748" x2="429.16" y2="1755" stroke="#a0a0a0" stroke-width="1.1"/>
<line x1="481.97" y1="1748" x2="481.97" y2="1751.5" stroke="#a0a0a0" stroke-width="1.1"/>
<line x1="534.78" y1="1748" x2="534.78" y2="1755" stroke="#a0a0a0" stroke-width="1.1"/>
<line x1="587.59" y1="1748" x2="587.59" y2="1751.5" stroke="#a0a0a0" stroke-width="1.1"/>
<line x1="640.4" y1="1748" x2="640.4" y2="1755" stroke="#a0a0a0" stroke-width="1.1"/>
<line x1="693.21" y1="1748" x2="693.21" y2="1751.5" stroke="#a0a0a0" stroke-width="1.1"/>
<line x1="746.02" y1="1748" x2="746.02" y2="1755" stroke="#a0a0a0" stroke-width="1.1"/>
<line x1="798.83" y1="1748" x2="798.83" y2="1751.5" stroke="#a0a0a0" stroke-width="1.1"/>
<line x1="851.64" y1="1748" x2="851.64" y2="1755" stroke="#a0a0a0" stroke-width="1.1"/>
<line x1="904.45" y1="1748" x2="904.45" y2="1751.5" stroke="#a0a0a0" stroke-width="1.1"/>
<line x1="957.26" y1="1748" x2="957.26" y2="1755" stroke="#a0a0a0" stroke-width="1.1"/>
<line x1="1010.07" y1="1748" x2="1010.07" y2="1751.5" stroke="#a0a0a0" stroke-width="1.1"/>
<line x1="1062.88" y1="1748" x2="1062.88" y2="1755" stroke="#a0a0a0" stroke-width="1.1"/>
<line x1="1115.69" y1="1748" x2="1115.69" y2="1751.5" stroke="#a0a0a0" stroke-width="1.1"/>
<line x1="1168.5" y1="1748" x2="1168.5" y2="1755" stroke="#a0a0a0" stroke-width="1.1"/>
<rect x="175.67" y="1599.2" width="21.12" height="148.8" fill="#d0d0d0"/>
<path d="M175.67 1748V1599.2H196.8V1748" fill="none" stroke="#151515" stroke-width="1.65"/>
<rect x="196.8" y="1627.2" width="21.12" height="120.8" fill="#275782"/>
<path d="M196.8 1748V1627.2H217.92V1748" fill="none" stroke="#151515" stroke-width="1.65"/>
<rect x="217.92" y="1643.1" width="21.12" height="104.9" fill="#c2e1f5"/>
<path d="M217.92 1748V1643.1H239.04V1748" fill="none" stroke="#151515" stroke-width="1.65"/>
<rect x="239.04" y="1720.2" width="21.12" height="27.8" fill="#ba6d37"/>
<path d="M239.04 1748V1720.2H260.17V1748" fill="none" stroke="#8b2010" stroke-width="1.65"/>
<line x1="186.23" y1="1573.7" x2="186.23" y2="1624.7" stroke="#555555" stroke-width="1.4"/>
<line x1="180.23" y1="1573.7" x2="192.23" y2="1573.7" stroke="#555555" stroke-width="1.4"/>
<line x1="180.23" y1="1624.7" x2="192.23" y2="1624.7" stroke="#555555" stroke-width="1.4"/>
<line x1="207.36" y1="1600.6" x2="207.36" y2="1653.8" stroke="#4b3f88" stroke-width="1.4"/>
<line x1="201.36" y1="1600.6" x2="213.36" y2="1600.6" stroke="#4b3f88" stroke-width="1.4"/>
<line x1="201.36" y1="1653.8" x2="213.36" y2="1653.8" stroke="#4b3f88" stroke-width="1.4"/>
<line x1="228.48" y1="1614.3" x2="228.48" y2="1671.9" stroke="#6ea6de" stroke-width="1.4"/>
<line x1="222.48" y1="1614.3" x2="234.48" y2="1614.3" stroke="#6ea6de" stroke-width="1.4"/>
<line x1="222.48" y1="1671.9" x2="234.48" y2="1671.9" stroke="#6ea6de" stroke-width="1.4"/>
<line x1="249.61" y1="1715.1" x2="249.61" y2="1725.3" stroke="#a3271b" stroke-width="1.7"/>
<line x1="243.31" y1="1715.1" x2="255.91" y2="1715.1" stroke="#a3271b" stroke-width="1.7"/>
<line x1="243.31" y1="1725.3" x2="255.91" y2="1725.3" stroke="#a3271b" stroke-width="1.7"/>
<rect x="281.29" y="1633" width="21.12" height="115" fill="#d0d0d0"/>
<path d="M281.29 1748V1633H302.42V1748" fill="none" stroke="#151515" stroke-width="1.65"/>
<rect x="302.42" y="1649.6" width="21.12" height="98.4" fill="#275782"/>
<path d="M302.42 1748V1649.6H323.54V1748" fill="none" stroke="#151515" stroke-width="1.65"/>
<rect x="323.54" y="1669.8" width="21.12" height="78.2" fill="#c2e1f5"/>
<path d="M323.54 1748V1669.8H344.66V1748" fill="none" stroke="#151515" stroke-width="1.65"/>
<rect x="344.66" y="1731.3" width="21.12" height="16.7" fill="#ba6d37"/>
<path d="M344.66 1748V1731.3H365.79V1748" fill="none" stroke="#8b2010" stroke-width="1.65"/>
<line x1="291.85" y1="1611.6" x2="291.85" y2="1654.4" stroke="#555555" stroke-width="1.4"/>
<line x1="285.85" y1="1611.6" x2="297.85" y2="1611.6" stroke="#555555" stroke-width="1.4"/>
<line x1="285.85" y1="1654.4" x2="297.85" y2="1654.4" stroke="#555555" stroke-width="1.4"/>
<line x1="312.98" y1="1626" x2="312.98" y2="1673.2" stroke="#4b3f88" stroke-width="1.4"/>
<line x1="306.98" y1="1626" x2="318.98" y2="1626" stroke="#4b3f88" stroke-width="1.4"/>
<line x1="306.98" y1="1673.2" x2="318.98" y2="1673.2" stroke="#4b3f88" stroke-width="1.4"/>
<line x1="334.1" y1="1641.2" x2="334.1" y2="1698.4" stroke="#6ea6de" stroke-width="1.4"/>
<line x1="328.1" y1="1641.2" x2="340.1" y2="1641.2" stroke="#6ea6de" stroke-width="1.4"/>
<line x1="328.1" y1="1698.4" x2="340.1" y2="1698.4" stroke="#6ea6de" stroke-width="1.4"/>
<line x1="355.23" y1="1725.6" x2="355.23" y2="1737" stroke="#a3271b" stroke-width="1.7"/>
<line x1="348.93" y1="1725.6" x2="361.53" y2="1725.6" stroke="#a3271b" stroke-width="1.7"/>
<line x1="348.93" y1="1737" x2="361.53" y2="1737" stroke="#a3271b" stroke-width="1.7"/>
<rect x="386.91" y="1636.9" width="21.12" height="111.1" fill="#d0d0d0"/>
<path d="M386.91 1748V1636.9H408.04V1748" fill="none" stroke="#151515" stroke-width="1.65"/>
<rect x="408.04" y="1657" width="21.12" height="91" fill="#275782"/>
<path d="M408.04 1748V1657H429.16V1748" fill="none" stroke="#151515" stroke-width="1.65"/>
<rect x="429.16" y="1670.9" width="21.12" height="77.1" fill="#c2e1f5"/>
<path d="M429.16 1748V1670.9H450.28V1748" fill="none" stroke="#151515" stroke-width="1.65"/>
<rect x="450.28" y="1727.9" width="21.12" height="20.1" fill="#ba6d37"/>
<path d="M450.28 1748V1727.9H471.41V1748" fill="none" stroke="#8b2010" stroke-width="1.65"/>
<line x1="397.47" y1="1612.4" x2="397.47" y2="1661.4" stroke="#555555" stroke-width="1.4"/>
<line x1="391.47" y1="1612.4" x2="403.47" y2="1612.4" stroke="#555555" stroke-width="1.4"/>
<line x1="391.47" y1="1661.4" x2="403.47" y2="1661.4" stroke="#555555" stroke-width="1.4"/>
<line x1="418.6" y1="1630.7" x2="418.6" y2="1683.3" stroke="#4b3f88" stroke-width="1.4"/>
<line x1="412.6" y1="1630.7" x2="424.6" y2="1630.7" stroke="#4b3f88" stroke-width="1.4"/>
<line x1="412.6" y1="1683.3" x2="424.6" y2="1683.3" stroke="#4b3f88" stroke-width="1.4"/>
<line x1="439.72" y1="1642.5" x2="439.72" y2="1699.3" stroke="#6ea6de" stroke-width="1.4"/>
<line x1="433.72" y1="1642.5" x2="445.72" y2="1642.5" stroke="#6ea6de" stroke-width="1.4"/>
<line x1="433.72" y1="1699.3" x2="445.72" y2="1699.3" stroke="#6ea6de" stroke-width="1.4"/>
<line x1="460.85" y1="1722.2" x2="460.85" y2="1733.6" stroke="#a3271b" stroke-width="1.7"/>
<line x1="454.55" y1="1722.2" x2="467.15" y2="1722.2" stroke="#a3271b" stroke-width="1.7"/>
<line x1="454.55" y1="1733.6" x2="467.15" y2="1733.6" stroke="#a3271b" stroke-width="1.7"/>
<rect x="492.53" y="1621.4" width="21.12" height="126.6" fill="#d0d0d0"/>
<path d="M492.53 1748V1621.4H513.66V1748" fill="none" stroke="#151515" stroke-width="1.65"/>
<rect x="513.66" y="1639.7" width="21.12" height="108.3" fill="#275782"/>
<path d="M513.66 1748V1639.7H534.78V1748" fill="none" stroke="#151515" stroke-width="1.65"/>
<rect x="534.78" y="1657.7" width="21.12" height="90.3" fill="#c2e1f5"/>
<path d="M534.78 1748V1657.7H555.9V1748" fill="none" stroke="#151515" stroke-width="1.65"/>
<rect x="555.9" y="1730.6" width="21.12" height="17.4" fill="#ba6d37"/>
<path d="M555.9 1748V1730.6H577.03V1748" fill="none" stroke="#8b2010" stroke-width="1.65"/>
<line x1="503.09" y1="1597.4" x2="503.09" y2="1645.4" stroke="#555555" stroke-width="1.4"/>
<line x1="497.09" y1="1597.4" x2="509.09" y2="1597.4" stroke="#555555" stroke-width="1.4"/>
<line x1="497.09" y1="1645.4" x2="509.09" y2="1645.4" stroke="#555555" stroke-width="1.4"/>
<line x1="524.22" y1="1613.3" x2="524.22" y2="1666.1" stroke="#4b3f88" stroke-width="1.4"/>
<line x1="518.22" y1="1613.3" x2="530.22" y2="1613.3" stroke="#4b3f88" stroke-width="1.4"/>
<line x1="518.22" y1="1666.1" x2="530.22" y2="1666.1" stroke="#4b3f88" stroke-width="1.4"/>
<line x1="545.34" y1="1628.7" x2="545.34" y2="1686.7" stroke="#6ea6de" stroke-width="1.4"/>
<line x1="539.34" y1="1628.7" x2="551.34" y2="1628.7" stroke="#6ea6de" stroke-width="1.4"/>
<line x1="539.34" y1="1686.7" x2="551.34" y2="1686.7" stroke="#6ea6de" stroke-width="1.4"/>
<line x1="566.47" y1="1724.8" x2="566.47" y2="1736.4" stroke="#a3271b" stroke-width="1.7"/>
<line x1="560.17" y1="1724.8" x2="572.77" y2="1724.8" stroke="#a3271b" stroke-width="1.7"/>
<line x1="560.17" y1="1736.4" x2="572.77" y2="1736.4" stroke="#a3271b" stroke-width="1.7"/>
<rect x="598.15" y="1615.6" width="21.12" height="132.4" fill="#d0d0d0"/>
<path d="M598.15 1748V1615.6H619.28V1748" fill="none" stroke="#151515" stroke-width="1.65"/>
<rect x="619.28" y="1628.1" width="21.12" height="119.9" fill="#275782"/>
<path d="M619.28 1748V1628.1H640.4V1748" fill="none" stroke="#151515" stroke-width="1.65"/>
<rect x="640.4" y="1646.2" width="21.12" height="101.8" fill="#c2e1f5"/>
<path d="M640.4 1748V1646.2H661.52V1748" fill="none" stroke="#151515" stroke-width="1.65"/>
<rect x="661.52" y="1727.2" width="21.12" height="20.8" fill="#ba6d37"/>
<path d="M661.52 1748V1727.2H682.65V1748" fill="none" stroke="#8b2010" stroke-width="1.65"/>
<line x1="608.71" y1="1595.6" x2="608.71" y2="1635.6" stroke="#555555" stroke-width="1.4"/>
<line x1="602.71" y1="1595.6" x2="614.71" y2="1595.6" stroke="#555555" stroke-width="1.4"/>
<line x1="602.71" y1="1635.6" x2="614.71" y2="1635.6" stroke="#555555" stroke-width="1.4"/>
<line x1="629.84" y1="1607.5" x2="629.84" y2="1648.7" stroke="#4b3f88" stroke-width="1.4"/>
<line x1="623.84" y1="1607.5" x2="635.84" y2="1607.5" stroke="#4b3f88" stroke-width="1.4"/>
<line x1="623.84" y1="1648.7" x2="635.84" y2="1648.7" stroke="#4b3f88" stroke-width="1.4"/>
<line x1="650.96" y1="1622.8" x2="650.96" y2="1669.6" stroke="#6ea6de" stroke-width="1.4"/>
<line x1="644.96" y1="1622.8" x2="656.96" y2="1622.8" stroke="#6ea6de" stroke-width="1.4"/>
<line x1="644.96" y1="1669.6" x2="656.96" y2="1669.6" stroke="#6ea6de" stroke-width="1.4"/>
<line x1="672.09" y1="1724.9" x2="672.09" y2="1729.5" stroke="#a3271b" stroke-width="1.7"/>
<line x1="665.79" y1="1724.9" x2="678.39" y2="1724.9" stroke="#a3271b" stroke-width="1.7"/>
<line x1="665.79" y1="1729.5" x2="678.39" y2="1729.5" stroke="#a3271b" stroke-width="1.7"/>
<rect x="703.77" y="1605" width="21.12" height="143" fill="#d0d0d0"/>
<path d="M703.77 1748V1605H724.9V1748" fill="none" stroke="#151515" stroke-width="1.65"/>
<rect x="724.9" y="1646.6" width="21.12" height="101.4" fill="#275782"/>
<path d="M724.9 1748V1646.6H746.02V1748" fill="none" stroke="#151515" stroke-width="1.65"/>
<rect x="746.02" y="1667" width="21.12" height="81" fill="#c2e1f5"/>
<path d="M746.02 1748V1667H767.14V1748" fill="none" stroke="#151515" stroke-width="1.65"/>
<rect x="767.14" y="1706.8" width="21.12" height="41.2" fill="#ba6d37"/>
<path d="M767.14 1748V1706.8H788.27V1748" fill="none" stroke="#8b2010" stroke-width="1.65"/>
<line x1="714.33" y1="1585.6" x2="714.33" y2="1624.4" stroke="#555555" stroke-width="1.4"/>
<line x1="708.33" y1="1585.6" x2="720.33" y2="1585.6" stroke="#555555" stroke-width="1.4"/>
<line x1="708.33" y1="1624.4" x2="720.33" y2="1624.4" stroke="#555555" stroke-width="1.4"/>
<line x1="735.46" y1="1626" x2="735.46" y2="1667.2" stroke="#4b3f88" stroke-width="1.4"/>
<line x1="729.46" y1="1626" x2="741.46" y2="1626" stroke="#4b3f88" stroke-width="1.4"/>
<line x1="729.46" y1="1667.2" x2="741.46" y2="1667.2" stroke="#4b3f88" stroke-width="1.4"/>
<line x1="756.58" y1="1644.2" x2="756.58" y2="1689.8" stroke="#6ea6de" stroke-width="1.4"/>
<line x1="750.58" y1="1644.2" x2="762.58" y2="1644.2" stroke="#6ea6de" stroke-width="1.4"/>
<line x1="750.58" y1="1689.8" x2="762.58" y2="1689.8" stroke="#6ea6de" stroke-width="1.4"/>
<line x1="777.71" y1="1704.5" x2="777.71" y2="1709.1" stroke="#a3271b" stroke-width="1.7"/>
<line x1="771.41" y1="1704.5" x2="784.01" y2="1704.5" stroke="#a3271b" stroke-width="1.7"/>
<line x1="771.41" y1="1709.1" x2="784.01" y2="1709.1" stroke="#a3271b" stroke-width="1.7"/>
<rect x="809.39" y="1613.3" width="21.12" height="134.7" fill="#d0d0d0"/>
<path d="M809.39 1748V1613.3H830.52V1748" fill="none" stroke="#151515" stroke-width="1.65"/>
<rect x="830.52" y="1646.2" width="21.12" height="101.8" fill="#275782"/>
<path d="M830.52 1748V1646.2H851.64V1748" fill="none" stroke="#151515" stroke-width="1.65"/>
<rect x="851.64" y="1663.5" width="21.12" height="84.5" fill="#c2e1f5"/>
<path d="M851.64 1748V1663.5H872.76V1748" fill="none" stroke="#151515" stroke-width="1.65"/>
<rect x="872.76" y="1715.1" width="21.12" height="32.9" fill="#ba6d37"/>
<path d="M872.76 1748V1715.1H893.89V1748" fill="none" stroke="#8b2010" stroke-width="1.65"/>
<line x1="819.95" y1="1588.9" x2="819.95" y2="1637.7" stroke="#555555" stroke-width="1.4"/>
<line x1="813.95" y1="1588.9" x2="825.95" y2="1588.9" stroke="#555555" stroke-width="1.4"/>
<line x1="813.95" y1="1637.7" x2="825.95" y2="1637.7" stroke="#555555" stroke-width="1.4"/>
<line x1="841.08" y1="1619.9" x2="841.08" y2="1672.5" stroke="#4b3f88" stroke-width="1.4"/>
<line x1="835.08" y1="1619.9" x2="847.08" y2="1619.9" stroke="#4b3f88" stroke-width="1.4"/>
<line x1="835.08" y1="1672.5" x2="847.08" y2="1672.5" stroke="#4b3f88" stroke-width="1.4"/>
<line x1="862.2" y1="1635" x2="862.2" y2="1692" stroke="#6ea6de" stroke-width="1.4"/>
<line x1="856.2" y1="1635" x2="868.2" y2="1635" stroke="#6ea6de" stroke-width="1.4"/>
<line x1="856.2" y1="1692" x2="868.2" y2="1692" stroke="#6ea6de" stroke-width="1.4"/>
<line x1="883.33" y1="1710.1" x2="883.33" y2="1720.1" stroke="#a3271b" stroke-width="1.7"/>
<line x1="877.03" y1="1710.1" x2="889.63" y2="1710.1" stroke="#a3271b" stroke-width="1.7"/>
<line x1="877.03" y1="1720.1" x2="889.63" y2="1720.1" stroke="#a3271b" stroke-width="1.7"/>
<rect x="915.01" y="1627.2" width="21.12" height="120.8" fill="#d0d0d0"/>
<path d="M915.01 1748V1627.2H936.14V1748" fill="none" stroke="#151515" stroke-width="1.65"/>
<rect x="936.14" y="1666.5" width="21.12" height="81.5" fill="#275782"/>
<path d="M936.14 1748V1666.5H957.26V1748" fill="none" stroke="#151515" stroke-width="1.65"/>
<rect x="957.26" y="1683.7" width="21.12" height="64.3" fill="#c2e1f5"/>
<path d="M957.26 1748V1683.7H978.38V1748" fill="none" stroke="#151515" stroke-width="1.65"/>
<rect x="978.38" y="1709.1" width="21.12" height="38.9" fill="#ba6d37"/>
<path d="M978.38 1748V1709.1H999.51V1748" fill="none" stroke="#8b2010" stroke-width="1.65"/>
<line x1="925.57" y1="1604.1" x2="925.57" y2="1650.3" stroke="#555555" stroke-width="1.4"/>
<line x1="919.57" y1="1604.1" x2="931.57" y2="1604.1" stroke="#555555" stroke-width="1.4"/>
<line x1="919.57" y1="1650.3" x2="931.57" y2="1650.3" stroke="#555555" stroke-width="1.4"/>
<line x1="946.7" y1="1642" x2="946.7" y2="1691" stroke="#4b3f88" stroke-width="1.4"/>
<line x1="940.7" y1="1642" x2="952.7" y2="1642" stroke="#4b3f88" stroke-width="1.4"/>
<line x1="940.7" y1="1691" x2="952.7" y2="1691" stroke="#4b3f88" stroke-width="1.4"/>
<line x1="967.82" y1="1656.7" x2="967.82" y2="1710.7" stroke="#6ea6de" stroke-width="1.4"/>
<line x1="961.82" y1="1656.7" x2="973.82" y2="1656.7" stroke="#6ea6de" stroke-width="1.4"/>
<line x1="961.82" y1="1710.7" x2="973.82" y2="1710.7" stroke="#6ea6de" stroke-width="1.4"/>
<line x1="988.95" y1="1704.5" x2="988.95" y2="1713.7" stroke="#a3271b" stroke-width="1.7"/>
<line x1="982.65" y1="1704.5" x2="995.25" y2="1704.5" stroke="#a3271b" stroke-width="1.7"/>
<line x1="982.65" y1="1713.7" x2="995.25" y2="1713.7" stroke="#a3271b" stroke-width="1.7"/>
<rect x="1020.63" y="1620.7" width="21.12" height="127.3" fill="#d0d0d0"/>
<path d="M1020.63 1748V1620.7H1041.76V1748" fill="none" stroke="#151515" stroke-width="1.65"/>
<rect x="1041.76" y="1640.4" width="21.12" height="107.6" fill="#275782"/>
<path d="M1041.76 1748V1640.4H1062.88V1748" fill="none" stroke="#151515" stroke-width="1.65"/>
<rect x="1062.88" y="1657.3" width="21.12" height="90.7" fill="#c2e1f5"/>
<path d="M1062.88 1748V1657.3H1084V1748" fill="none" stroke="#151515" stroke-width="1.65"/>
<rect x="1084" y="1733" width="21.12" height="15" fill="#ba6d37"/>
<path d="M1084 1748V1733H1105.13V1748" fill="none" stroke="#8b2010" stroke-width="1.65"/>
<line x1="1031.19" y1="1598.2" x2="1031.19" y2="1643.2" stroke="#555555" stroke-width="1.4"/>
<line x1="1025.19" y1="1598.2" x2="1037.19" y2="1598.2" stroke="#555555" stroke-width="1.4"/>
<line x1="1025.19" y1="1643.2" x2="1037.19" y2="1643.2" stroke="#555555" stroke-width="1.4"/>
<line x1="1052.32" y1="1615.9" x2="1052.32" y2="1664.9" stroke="#4b3f88" stroke-width="1.4"/>
<line x1="1046.32" y1="1615.9" x2="1058.32" y2="1615.9" stroke="#4b3f88" stroke-width="1.4"/>
<line x1="1046.32" y1="1664.9" x2="1058.32" y2="1664.9" stroke="#4b3f88" stroke-width="1.4"/>
<line x1="1073.44" y1="1630.4" x2="1073.44" y2="1684.2" stroke="#6ea6de" stroke-width="1.4"/>
<line x1="1067.44" y1="1630.4" x2="1079.44" y2="1630.4" stroke="#6ea6de" stroke-width="1.4"/>
<line x1="1067.44" y1="1684.2" x2="1079.44" y2="1684.2" stroke="#6ea6de" stroke-width="1.4"/>
<line x1="1094.57" y1="1727.8" x2="1094.57" y2="1738.2" stroke="#a3271b" stroke-width="1.7"/>
<line x1="1088.27" y1="1727.8" x2="1100.87" y2="1727.8" stroke="#a3271b" stroke-width="1.7"/>
<line x1="1088.27" y1="1738.2" x2="1100.87" y2="1738.2" stroke="#a3271b" stroke-width="1.7"/>
<line x1="112.3" y1="1748" x2="1168.5" y2="1748" stroke="#a0a0a0" stroke-width="1.2"/>
<line x1="217.92" y1="1337" x2="217.92" y2="1393.8" stroke="#3a9c58" stroke-width="1.5"/>
<line x1="209.12" y1="1337" x2="226.72" y2="1337" stroke="#3a9c58" stroke-width="1.5"/>
<line x1="209.12" y1="1393.8" x2="226.72" y2="1393.8" stroke="#3a9c58" stroke-width="1.5"/>
<line x1="323.54" y1="1350.7" x2="323.54" y2="1412.9" stroke="#3a9c58" stroke-width="1.5"/>
<line x1="314.74" y1="1350.7" x2="332.34" y2="1350.7" stroke="#3a9c58" stroke-width="1.5"/>
<line x1="314.74" y1="1412.9" x2="332.34" y2="1412.9" stroke="#3a9c58" stroke-width="1.5"/>
<line x1="429.16" y1="1355.3" x2="429.16" y2="1415.3" stroke="#3a9c58" stroke-width="1.5"/>
<line x1="420.36" y1="1355.3" x2="437.96" y2="1355.3" stroke="#3a9c58" stroke-width="1.5"/>
<line x1="420.36" y1="1415.3" x2="437.96" y2="1415.3" stroke="#3a9c58" stroke-width="1.5"/>
<line x1="534.78" y1="1358.4" x2="534.78" y2="1402.8" stroke="#3a9c58" stroke-width="1.5"/>
<line x1="525.98" y1="1358.4" x2="543.58" y2="1358.4" stroke="#3a9c58" stroke-width="1.5"/>
<line x1="525.98" y1="1402.8" x2="543.58" y2="1402.8" stroke="#3a9c58" stroke-width="1.5"/>
<line x1="640.4" y1="1350.4" x2="640.4" y2="1395.6" stroke="#3a9c58" stroke-width="1.5"/>
<line x1="631.6" y1="1350.4" x2="649.2" y2="1350.4" stroke="#3a9c58" stroke-width="1.5"/>
<line x1="631.6" y1="1395.6" x2="649.2" y2="1395.6" stroke="#3a9c58" stroke-width="1.5"/>
<line x1="746.02" y1="1313.5" x2="746.02" y2="1403.9" stroke="#3a9c58" stroke-width="1.5"/>
<line x1="737.22" y1="1313.5" x2="754.82" y2="1313.5" stroke="#3a9c58" stroke-width="1.5"/>
<line x1="737.22" y1="1403.9" x2="754.82" y2="1403.9" stroke="#3a9c58" stroke-width="1.5"/>
<line x1="851.64" y1="1335" x2="851.64" y2="1379.6" stroke="#3a9c58" stroke-width="1.5"/>
<line x1="842.84" y1="1335" x2="860.44" y2="1335" stroke="#3a9c58" stroke-width="1.5"/>
<line x1="842.84" y1="1379.6" x2="860.44" y2="1379.6" stroke="#3a9c58" stroke-width="1.5"/>
<line x1="957.26" y1="1329.6" x2="957.26" y2="1404.8" stroke="#3a9c58" stroke-width="1.5"/>
<line x1="948.46" y1="1329.6" x2="966.06" y2="1329.6" stroke="#3a9c58" stroke-width="1.5"/>
<line x1="948.46" y1="1404.8" x2="966.06" y2="1404.8" stroke="#3a9c58" stroke-width="1.5"/>
<line x1="1062.88" y1="1339.7" x2="1062.88" y2="1410.9" stroke="#3a9c58" stroke-width="1.5"/>
<line x1="1054.08" y1="1339.7" x2="1071.68" y2="1339.7" stroke="#3a9c58" stroke-width="1.5"/>
<line x1="1054.08" y1="1410.9" x2="1071.68" y2="1410.9" stroke="#3a9c58" stroke-width="1.5"/>
<line x1="217.92" y1="1443.1" x2="217.92" y2="1533.1" stroke="#5064b8" stroke-width="1.4"/>
<line x1="209.12" y1="1443.1" x2="226.72" y2="1443.1" stroke="#5064b8" stroke-width="1.4"/>
<line x1="209.12" y1="1533.1" x2="226.72" y2="1533.1" stroke="#5064b8" stroke-width="1.4"/>
<line x1="323.54" y1="1433.5" x2="323.54" y2="1518.5" stroke="#5064b8" stroke-width="1.4"/>
<line x1="314.74" y1="1433.5" x2="332.34" y2="1433.5" stroke="#5064b8" stroke-width="1.4"/>
<line x1="314.74" y1="1518.5" x2="332.34" y2="1518.5" stroke="#5064b8" stroke-width="1.4"/>
<line x1="429.16" y1="1411.7" x2="429.16" y2="1518.1" stroke="#5064b8" stroke-width="1.4"/>
<line x1="420.36" y1="1411.7" x2="437.96" y2="1411.7" stroke="#5064b8" stroke-width="1.4"/>
<line x1="420.36" y1="1518.1" x2="437.96" y2="1518.1" stroke="#5064b8" stroke-width="1.4"/>
<line x1="534.78" y1="1419.8" x2="534.78" y2="1503.6" stroke="#5064b8" stroke-width="1.4"/>
<line x1="525.98" y1="1419.8" x2="543.58" y2="1419.8" stroke="#5064b8" stroke-width="1.4"/>
<line x1="525.98" y1="1503.6" x2="543.58" y2="1503.6" stroke="#5064b8" stroke-width="1.4"/>
<line x1="640.4" y1="1396.1" x2="640.4" y2="1503.7" stroke="#5064b8" stroke-width="1.4"/>
<line x1="631.6" y1="1396.1" x2="649.2" y2="1396.1" stroke="#5064b8" stroke-width="1.4"/>
<line x1="631.6" y1="1503.7" x2="649.2" y2="1503.7" stroke="#5064b8" stroke-width="1.4"/>
<line x1="746.02" y1="1415.3" x2="746.02" y2="1526.5" stroke="#5064b8" stroke-width="1.4"/>
<line x1="737.22" y1="1415.3" x2="754.82" y2="1415.3" stroke="#5064b8" stroke-width="1.4"/>
<line x1="737.22" y1="1526.5" x2="754.82" y2="1526.5" stroke="#5064b8" stroke-width="1.4"/>
<line x1="851.64" y1="1471.9" x2="851.64" y2="1541.3" stroke="#5064b8" stroke-width="1.4"/>
<line x1="842.84" y1="1471.9" x2="860.44" y2="1471.9" stroke="#5064b8" stroke-width="1.4"/>
<line x1="842.84" y1="1541.3" x2="860.44" y2="1541.3" stroke="#5064b8" stroke-width="1.4"/>
<line x1="957.26" y1="1420.4" x2="957.26" y2="1521" stroke="#5064b8" stroke-width="1.4"/>
<line x1="948.46" y1="1420.4" x2="966.06" y2="1420.4" stroke="#5064b8" stroke-width="1.4"/>
<line x1="948.46" y1="1521" x2="966.06" y2="1521" stroke="#5064b8" stroke-width="1.4"/>
<line x1="1062.88" y1="1426.9" x2="1062.88" y2="1522.9" stroke="#5064b8" stroke-width="1.4"/>
<line x1="1054.08" y1="1426.9" x2="1071.68" y2="1426.9" stroke="#5064b8" stroke-width="1.4"/>
<line x1="1054.08" y1="1522.9" x2="1071.68" y2="1522.9" stroke="#5064b8" stroke-width="1.4"/>
<line x1="224.34" y1="1366.4" x2="317.12" y2="1380.8" stroke="#0b7d2c" stroke-width="2.3" stroke-linecap="butt"/>
<line x1="330.04" y1="1382.02" x2="422.66" y2="1385.08" stroke="#0b7d2c" stroke-width="2.3" stroke-linecap="butt"/>
<line x1="435.65" y1="1385.01" x2="528.29" y2="1380.89" stroke="#0b7d2c" stroke-width="2.3" stroke-linecap="butt"/>
<line x1="541.26" y1="1380.13" x2="633.92" y2="1373.47" stroke="#0b7d2c" stroke-width="2.3" stroke-linecap="butt"/>
<line x1="646.84" y1="1372.13" x2="739.58" y2="1359.57" stroke="#0b7d2c" stroke-width="2.3" stroke-linecap="butt"/>
<line x1="752.52" y1="1358.61" x2="845.14" y2="1357.39" stroke="#0b7d2c" stroke-width="2.3" stroke-linecap="butt"/>
<line x1="858.11" y1="1357.91" x2="950.79" y2="1366.59" stroke="#0b7d2c" stroke-width="2.3" stroke-linecap="butt"/>
<line x1="963.74" y1="1367.7" x2="1056.4" y2="1374.8" stroke="#0b7d2c" stroke-width="2.3" stroke-linecap="butt"/>
<path d="M217.92 1358.5L224.72 1365.4L217.92 1372.3L211.12 1365.4Z" fill="#068536"/>
<path d="M323.54 1374.9L330.34 1381.8L323.54 1388.7L316.74 1381.8Z" fill="#068536"/>
<path d="M429.16 1378.4L435.96 1385.3L429.16 1392.2L422.36 1385.3Z" fill="#068536"/>
<path d="M534.78 1373.7L541.58 1380.6L534.78 1387.5L527.98 1380.6Z" fill="#068536"/>
<path d="M640.4 1366.1L647.2 1373L640.4 1379.9L633.6 1373Z" fill="#068536"/>
<path d="M746.02 1351.8L752.82 1358.7L746.02 1365.6L739.22 1358.7Z" fill="#068536"/>
<path d="M851.64 1350.4L858.44 1357.3L851.64 1364.2L844.84 1357.3Z" fill="#068536"/>
<path d="M957.26 1360.3L964.06 1367.2L957.26 1374.1L950.46 1367.2Z" fill="#068536"/>
<path d="M1062.88 1368.4L1069.68 1375.3L1062.88 1382.2L1056.08 1375.3Z" fill="#068536"/>
<line x1="224.78" y1="1487.31" x2="316.68" y2="1476.79" stroke="#2537a0" stroke-width="2.3" stroke-linecap="butt"/>
<line x1="330.4" y1="1475.28" x2="422.3" y2="1465.62" stroke="#2537a0" stroke-width="2.3" stroke-linecap="butt"/>
<line x1="436.06" y1="1464.69" x2="527.88" y2="1461.91" stroke="#2537a0" stroke-width="2.3" stroke-linecap="butt"/>
<line x1="541.64" y1="1460.93" x2="633.54" y2="1450.67" stroke="#2537a0" stroke-width="2.3" stroke-linecap="butt"/>
<line x1="647.17" y1="1451.25" x2="739.25" y2="1469.55" stroke="#2537a0" stroke-width="2.3" stroke-linecap="butt"/>
<line x1="752.56" y1="1473.11" x2="845.1" y2="1504.39" stroke="#2537a0" stroke-width="2.3" stroke-linecap="butt"/>
<line x1="858.17" y1="1504.38" x2="950.73" y2="1472.92" stroke="#2537a0" stroke-width="2.3" stroke-linecap="butt"/>
<line x1="964.15" y1="1470.97" x2="1055.99" y2="1474.63" stroke="#2537a0" stroke-width="2.3" stroke-linecap="butt"/>
<circle cx="217.92" cy="1488.1" r="5.3" fill="#3347a0"/>
<circle cx="323.54" cy="1476" r="5.3" fill="#3347a0"/>
<circle cx="429.16" cy="1464.9" r="5.3" fill="#3347a0"/>
<circle cx="534.78" cy="1461.7" r="5.3" fill="#3347a0"/>
<circle cx="640.4" cy="1449.9" r="5.3" fill="#3347a0"/>
<circle cx="746.02" cy="1470.9" r="5.3" fill="#3347a0"/>
<circle cx="851.64" cy="1506.6" r="5.3" fill="#3347a0"/>
<circle cx="957.26" cy="1470.7" r="5.3" fill="#3347a0"/>
<circle cx="1062.88" cy="1474.9" r="5.3" fill="#3347a0"/>
<line x1="222.34" y1="1614.34" x2="319.12" y2="1709.36" stroke="#000" stroke-width="2.5" stroke-linecap="butt"/>
<line x1="329.73" y1="1713.36" x2="422.97" y2="1708.24" stroke="#000" stroke-width="2.5" stroke-linecap="butt"/>
<line x1="435.33" y1="1708.48" x2="528.61" y2="1717.32" stroke="#000" stroke-width="2.5" stroke-linecap="butt"/>
<line x1="540.93" y1="1717.09" x2="634.25" y2="1704.81" stroke="#000" stroke-width="2.5" stroke-linecap="butt"/>
<line x1="646.33" y1="1702.18" x2="740.09" y2="1673.42" stroke="#000" stroke-width="2.5" stroke-linecap="butt"/>
<line x1="752.2" y1="1672.1" x2="845.46" y2="1679.7" stroke="#000" stroke-width="2.5" stroke-linecap="butt"/>
<line x1="857.55" y1="1678.32" x2="951.35" y2="1648.48" stroke="#000" stroke-width="2.5" stroke-linecap="butt"/>
<line x1="962.53" y1="1649.86" x2="1057.61" y2="1708.64" stroke="#000" stroke-width="2.5" stroke-linecap="butt"/>
<path d="M217.92 1603L224.72 1613.5L211.12 1613.5Z" fill="#000"/>
<path d="M323.54 1706.7L330.34 1717.2L316.74 1717.2Z" fill="#000"/>
<path d="M429.16 1700.9L435.96 1711.4L422.36 1711.4Z" fill="#000"/>
<path d="M534.78 1710.9L541.58 1721.4L527.98 1721.4Z" fill="#000"/>
<path d="M640.4 1697L647.2 1707.5L633.6 1707.5Z" fill="#000"/>
<path d="M746.02 1664.6L752.82 1675.1L739.22 1675.1Z" fill="#000"/>
<path d="M851.64 1673.2L858.44 1683.7L844.84 1683.7Z" fill="#000"/>
<path d="M957.26 1639.6L964.06 1650.1L950.46 1650.1Z" fill="#000"/>
<path d="M1062.88 1704.9L1069.68 1715.4L1056.08 1715.4Z" fill="#000"/>
<path d="M112.3 1748V1195H1168.5V1748" fill="none" stroke="#000" stroke-width="2.4"/>
<line x1="111.1" y1="1748" x2="123.3" y2="1748" stroke="#000" stroke-width="2.2"/>
<text transform="translate(101.8 1757) scale(0.895 1)" font-size="35" fill="#000" stroke="#000" text-anchor="end">0</text>
<line x1="111.1" y1="1701.92" x2="117.8" y2="1701.92" stroke="#000" stroke-width="2.2"/>
<line x1="111.1" y1="1655.83" x2="123.3" y2="1655.83" stroke="#000" stroke-width="2.2"/>
<text transform="translate(101.8 1664.83) scale(0.895 1)" font-size="35" fill="#000" stroke="#000" text-anchor="end">10</text>
<line x1="111.1" y1="1609.75" x2="117.8" y2="1609.75" stroke="#000" stroke-width="2.2"/>
<line x1="111.1" y1="1563.67" x2="123.3" y2="1563.67" stroke="#000" stroke-width="2.2"/>
<text transform="translate(101.8 1572.67) scale(0.895 1)" font-size="35" fill="#000" stroke="#000" text-anchor="end">20</text>
<line x1="111.1" y1="1517.58" x2="117.8" y2="1517.58" stroke="#000" stroke-width="2.2"/>
<line x1="111.1" y1="1471.5" x2="123.3" y2="1471.5" stroke="#000" stroke-width="2.2"/>
<text transform="translate(101.8 1480.5) scale(0.895 1)" font-size="35" fill="#000" stroke="#000" text-anchor="end">30</text>
<line x1="111.1" y1="1425.42" x2="117.8" y2="1425.42" stroke="#000" stroke-width="2.2"/>
<line x1="111.1" y1="1379.33" x2="123.3" y2="1379.33" stroke="#000" stroke-width="2.2"/>
<text transform="translate(101.8 1388.33) scale(0.895 1)" font-size="35" fill="#000" stroke="#000" text-anchor="end">40</text>
<line x1="111.1" y1="1333.25" x2="117.8" y2="1333.25" stroke="#000" stroke-width="2.2"/>
<line x1="111.1" y1="1287.17" x2="123.3" y2="1287.17" stroke="#000" stroke-width="2.2"/>
<text transform="translate(101.8 1296.17) scale(0.895 1)" font-size="35" fill="#000" stroke="#000" text-anchor="end">50</text>
<line x1="111.1" y1="1241.08" x2="117.8" y2="1241.08" stroke="#000" stroke-width="2.2"/>
<line x1="111.1" y1="1195" x2="123.3" y2="1195" stroke="#000" stroke-width="2.2"/>
<text transform="translate(101.8 1204) scale(0.895 1)" font-size="35" fill="#000" stroke="#000" text-anchor="end">60</text>
<line x1="1158" y1="1748" x2="1169.7" y2="1748" stroke="#000" stroke-width="2.2"/>
<text transform="translate(1180.7 1757) scale(0.895 1)" font-size="35" fill="#2b3a98" stroke="#2b3a98" text-anchor="start">-1.2</text>
<line x1="1163.3" y1="1701.92" x2="1169.7" y2="1701.92" stroke="#000" stroke-width="2.2"/>
<line x1="1158" y1="1655.83" x2="1169.7" y2="1655.83" stroke="#000" stroke-width="2.2"/>
<text transform="translate(1180.7 1664.83) scale(0.895 1)" font-size="35" fill="#2b3a98" stroke="#2b3a98" text-anchor="start">-0.8</text>
<line x1="1163.3" y1="1609.75" x2="1169.7" y2="1609.75" stroke="#000" stroke-width="2.2"/>
<line x1="1158" y1="1563.67" x2="1169.7" y2="1563.67" stroke="#000" stroke-width="2.2"/>
<text transform="translate(1180.7 1572.67) scale(0.895 1)" font-size="35" fill="#2b3a98" stroke="#2b3a98" text-anchor="start">-0.4</text>
<line x1="1163.3" y1="1517.58" x2="1169.7" y2="1517.58" stroke="#000" stroke-width="2.2"/>
<line x1="1158" y1="1471.5" x2="1169.7" y2="1471.5" stroke="#000" stroke-width="2.2"/>
<text transform="translate(1180.7 1480.5) scale(0.895 1)" font-size="35" fill="#2b3a98" stroke="#2b3a98" text-anchor="start">0.0</text>
<line x1="1163.3" y1="1425.42" x2="1169.7" y2="1425.42" stroke="#000" stroke-width="2.2"/>
<line x1="1158" y1="1379.33" x2="1169.7" y2="1379.33" stroke="#000" stroke-width="2.2"/>
<text transform="translate(1180.7 1388.33) scale(0.895 1)" font-size="35" fill="#2b3a98" stroke="#2b3a98" text-anchor="start">0.4</text>
<line x1="1163.3" y1="1333.25" x2="1169.7" y2="1333.25" stroke="#000" stroke-width="2.2"/>
<line x1="1158" y1="1287.17" x2="1169.7" y2="1287.17" stroke="#000" stroke-width="2.2"/>
<text transform="translate(1180.7 1296.17) scale(0.895 1)" font-size="35" fill="#2b3a98" stroke="#2b3a98" text-anchor="start">0.8</text>
<line x1="1163.3" y1="1241.08" x2="1169.7" y2="1241.08" stroke="#000" stroke-width="2.2"/>
<line x1="1158" y1="1195" x2="1169.7" y2="1195" stroke="#000" stroke-width="2.2"/>
<text transform="translate(1180.7 1204) scale(0.895 1)" font-size="35" fill="#2b3a98" stroke="#2b3a98" text-anchor="start">1.2</text>
<line x1="1295.6" y1="1193.9" x2="1295.6" y2="1749.1" stroke="#000" stroke-width="2.4"/>
<line x1="1284.6" y1="1748" x2="1295.6" y2="1748" stroke="#000" stroke-width="2.2"/>
<text transform="translate(1308.7 1757) scale(0.895 1)" font-size="35" fill="#000" stroke="#000" text-anchor="start">0</text>
<line x1="1290.4" y1="1701.92" x2="1295.6" y2="1701.92" stroke="#000" stroke-width="2.2"/>
<line x1="1284.6" y1="1655.83" x2="1295.6" y2="1655.83" stroke="#000" stroke-width="2.2"/>
<text transform="translate(1308.7 1664.83) scale(0.895 1)" font-size="35" fill="#000" stroke="#000" text-anchor="start">250</text>
<line x1="1290.4" y1="1609.75" x2="1295.6" y2="1609.75" stroke="#000" stroke-width="2.2"/>
<line x1="1284.6" y1="1563.67" x2="1295.6" y2="1563.67" stroke="#000" stroke-width="2.2"/>
<text transform="translate(1308.7 1572.67) scale(0.895 1)" font-size="35" fill="#000" stroke="#000" text-anchor="start">500</text>
<line x1="1290.4" y1="1517.58" x2="1295.6" y2="1517.58" stroke="#000" stroke-width="2.2"/>
<line x1="1284.6" y1="1471.5" x2="1295.6" y2="1471.5" stroke="#000" stroke-width="2.2"/>
<text transform="translate(1308.7 1480.5) scale(0.895 1)" font-size="35" fill="#000" stroke="#000" text-anchor="start">750</text>
<line x1="1290.4" y1="1425.42" x2="1295.6" y2="1425.42" stroke="#000" stroke-width="2.2"/>
<line x1="1284.6" y1="1379.33" x2="1295.6" y2="1379.33" stroke="#000" stroke-width="2.2"/>
<text transform="translate(1308.7 1388.33) scale(0.895 1)" font-size="35" fill="#000" stroke="#000" text-anchor="start">1000</text>
<line x1="1290.4" y1="1333.25" x2="1295.6" y2="1333.25" stroke="#000" stroke-width="2.2"/>
<line x1="1284.6" y1="1287.17" x2="1295.6" y2="1287.17" stroke="#000" stroke-width="2.2"/>
<text transform="translate(1308.7 1296.17) scale(0.895 1)" font-size="35" fill="#000" stroke="#000" text-anchor="start">1250</text>
<line x1="1290.4" y1="1241.08" x2="1295.6" y2="1241.08" stroke="#000" stroke-width="2.2"/>
<line x1="1284.6" y1="1195" x2="1295.6" y2="1195" stroke="#000" stroke-width="2.2"/>
<text transform="translate(1308.7 1204) scale(0.895 1)" font-size="35" fill="#000" stroke="#000" text-anchor="start">1500</text>
<line x1="1432.2" y1="1193.9" x2="1432.2" y2="1749.1" stroke="#000" stroke-width="2.4"/>
<line x1="1421.2" y1="1748" x2="1432.2" y2="1748" stroke="#000" stroke-width="2.2"/>
<text transform="translate(1440.1 1757) scale(0.895 1)" font-size="35" fill="#138030" stroke="#138030" text-anchor="start">18</text>
<line x1="1427" y1="1701.92" x2="1432.2" y2="1701.92" stroke="#000" stroke-width="2.2"/>
<line x1="1421.2" y1="1655.83" x2="1432.2" y2="1655.83" stroke="#000" stroke-width="2.2"/>
<text transform="translate(1440.1 1664.83) scale(0.895 1)" font-size="35" fill="#138030" stroke="#138030" text-anchor="start">20</text>
<line x1="1427" y1="1609.75" x2="1432.2" y2="1609.75" stroke="#000" stroke-width="2.2"/>
<line x1="1421.2" y1="1563.67" x2="1432.2" y2="1563.67" stroke="#000" stroke-width="2.2"/>
<text transform="translate(1440.1 1572.67) scale(0.895 1)" font-size="35" fill="#138030" stroke="#138030" text-anchor="start">22</text>
<line x1="1427" y1="1517.58" x2="1432.2" y2="1517.58" stroke="#000" stroke-width="2.2"/>
<line x1="1421.2" y1="1471.5" x2="1432.2" y2="1471.5" stroke="#000" stroke-width="2.2"/>
<text transform="translate(1440.1 1480.5) scale(0.895 1)" font-size="35" fill="#138030" stroke="#138030" text-anchor="start">24</text>
<line x1="1427" y1="1425.42" x2="1432.2" y2="1425.42" stroke="#000" stroke-width="2.2"/>
<line x1="1421.2" y1="1379.33" x2="1432.2" y2="1379.33" stroke="#000" stroke-width="2.2"/>
<text transform="translate(1440.1 1388.33) scale(0.895 1)" font-size="35" fill="#138030" stroke="#138030" text-anchor="start">26</text>
<line x1="1427" y1="1333.25" x2="1432.2" y2="1333.25" stroke="#000" stroke-width="2.2"/>
<line x1="1421.2" y1="1287.17" x2="1432.2" y2="1287.17" stroke="#000" stroke-width="2.2"/>
<text transform="translate(1440.1 1296.17) scale(0.895 1)" font-size="35" fill="#138030" stroke="#138030" text-anchor="start">28</text>
<line x1="1427" y1="1241.08" x2="1432.2" y2="1241.08" stroke="#000" stroke-width="2.2"/>
<line x1="1421.2" y1="1195" x2="1432.2" y2="1195" stroke="#000" stroke-width="2.2"/>
<text transform="translate(1440.1 1204) scale(0.895 1)" font-size="35" fill="#138030" stroke="#138030" text-anchor="start">30</text>
<text transform="translate(126.73 1244.6) scale(0.8923 1)" font-size="52.5" stroke="#000">RBA</text>
<text transform="translate(45.2 1627.41) rotate(-90) scale(0.8697 1)" font-size="40.5" fill="#000" stroke="#000">Flux (mg CH<tspan font-size="27.5" dy="10.2">4</tspan><tspan dy="-10.2">m</tspan><tspan font-size="27.5" dy="-16">-2</tspan><tspan dy="16">d</tspan><tspan font-size="27.5" dy="-16.5">-1</tspan><tspan dy="16.5">)</tspan></text>
<text transform="translate(1259.8 1678.24) rotate(-90) scale(0.8718 1)" font-size="34.5" fill="#2b3a98" stroke="#2b3a98">Equivalent Water Thickness (m)</text>
<text transform="translate(1405.2 1592.84) rotate(-90) scale(0.8691 1)" font-size="34.5" fill="#000" stroke="#000">Burned area (km<tspan font-size="24" dy="-14.1">2</tspan><tspan dy="14.1">)</tspan></text>
<text transform="translate(1521.1 1582.7) rotate(-90) scale(0.8859 1)" font-size="34.5" fill="#138030" stroke="#138030">Temperature (<tspan font-size="23.5" dy="-13.2">o</tspan><tspan dy="13.2">C)</tspan></text>
<line x1="116" y1="2338.2" x2="116" y2="2345.2" stroke="#a0a0a0" stroke-width="1.1"/>
<line x1="168.83" y1="2338.2" x2="168.83" y2="2341.7" stroke="#a0a0a0" stroke-width="1.1"/>
<line x1="221.66" y1="2338.2" x2="221.66" y2="2345.2" stroke="#a0a0a0" stroke-width="1.1"/>
<line x1="274.49" y1="2338.2" x2="274.49" y2="2341.7" stroke="#a0a0a0" stroke-width="1.1"/>
<line x1="327.32" y1="2338.2" x2="327.32" y2="2345.2" stroke="#a0a0a0" stroke-width="1.1"/>
<line x1="380.15" y1="2338.2" x2="380.15" y2="2341.7" stroke="#a0a0a0" stroke-width="1.1"/>
<line x1="432.98" y1="2338.2" x2="432.98" y2="2345.2" stroke="#a0a0a0" stroke-width="1.1"/>
<line x1="485.81" y1="2338.2" x2="485.81" y2="2341.7" stroke="#a0a0a0" stroke-width="1.1"/>
<line x1="538.64" y1="2338.2" x2="538.64" y2="2345.2" stroke="#a0a0a0" stroke-width="1.1"/>
<line x1="591.47" y1="2338.2" x2="591.47" y2="2341.7" stroke="#a0a0a0" stroke-width="1.1"/>
<line x1="644.3" y1="2338.2" x2="644.3" y2="2345.2" stroke="#a0a0a0" stroke-width="1.1"/>
<line x1="697.13" y1="2338.2" x2="697.13" y2="2341.7" stroke="#a0a0a0" stroke-width="1.1"/>
<line x1="749.96" y1="2338.2" x2="749.96" y2="2345.2" stroke="#a0a0a0" stroke-width="1.1"/>
<line x1="802.79" y1="2338.2" x2="802.79" y2="2341.7" stroke="#a0a0a0" stroke-width="1.1"/>
<line x1="855.62" y1="2338.2" x2="855.62" y2="2345.2" stroke="#a0a0a0" stroke-width="1.1"/>
<line x1="908.45" y1="2338.2" x2="908.45" y2="2341.7" stroke="#a0a0a0" stroke-width="1.1"/>
<line x1="961.28" y1="2338.2" x2="961.28" y2="2345.2" stroke="#a0a0a0" stroke-width="1.1"/>
<line x1="1014.11" y1="2338.2" x2="1014.11" y2="2341.7" stroke="#a0a0a0" stroke-width="1.1"/>
<line x1="1066.94" y1="2338.2" x2="1066.94" y2="2345.2" stroke="#a0a0a0" stroke-width="1.1"/>
<line x1="1119.77" y1="2338.2" x2="1119.77" y2="2341.7" stroke="#a0a0a0" stroke-width="1.1"/>
<line x1="1172.6" y1="2338.2" x2="1172.6" y2="2345.2" stroke="#a0a0a0" stroke-width="1.1"/>
<rect x="179.4" y="2189.2" width="21.13" height="149" fill="#d0d0d0"/>
<path d="M179.4 2338.2V2189.2H200.53V2338.2" fill="none" stroke="#151515" stroke-width="1.65"/>
<rect x="200.53" y="2225.7" width="21.13" height="112.5" fill="#275782"/>
<path d="M200.53 2338.2V2225.7H221.66V2338.2" fill="none" stroke="#151515" stroke-width="1.65"/>
<rect x="221.66" y="2250.5" width="21.13" height="87.7" fill="#c2e1f5"/>
<path d="M221.66 2338.2V2250.5H242.79V2338.2" fill="none" stroke="#151515" stroke-width="1.65"/>
<rect x="242.79" y="2302.1" width="21.13" height="36.1" fill="#ba6d37"/>
<path d="M242.79 2338.2V2302.1H263.92V2338.2" fill="none" stroke="#111" stroke-width="1.65"/>
<line x1="189.96" y1="2165.2" x2="189.96" y2="2213.2" stroke="#555555" stroke-width="1.4"/>
<line x1="183.96" y1="2165.2" x2="195.96" y2="2165.2" stroke="#555555" stroke-width="1.4"/>
<line x1="183.96" y1="2213.2" x2="195.96" y2="2213.2" stroke="#555555" stroke-width="1.4"/>
<line x1="211.09" y1="2201.2" x2="211.09" y2="2250.2" stroke="#4b3f88" stroke-width="1.4"/>
<line x1="205.09" y1="2201.2" x2="217.09" y2="2201.2" stroke="#4b3f88" stroke-width="1.4"/>
<line x1="205.09" y1="2250.2" x2="217.09" y2="2250.2" stroke="#4b3f88" stroke-width="1.4"/>
<line x1="232.23" y1="2225.2" x2="232.23" y2="2275.8" stroke="#6ea6de" stroke-width="1.4"/>
<line x1="226.23" y1="2225.2" x2="238.23" y2="2225.2" stroke="#6ea6de" stroke-width="1.4"/>
<line x1="226.23" y1="2275.8" x2="238.23" y2="2275.8" stroke="#6ea6de" stroke-width="1.4"/>
<line x1="253.36" y1="2298.7" x2="253.36" y2="2305.5" stroke="#a3271b" stroke-width="1.7"/>
<line x1="247.06" y1="2298.7" x2="259.66" y2="2298.7" stroke="#a3271b" stroke-width="1.7"/>
<line x1="247.06" y1="2305.5" x2="259.66" y2="2305.5" stroke="#a3271b" stroke-width="1.7"/>
<rect x="285.06" y="2215.3" width="21.13" height="122.9" fill="#d0d0d0"/>
<path d="M285.06 2338.2V2215.3H306.19V2338.2" fill="none" stroke="#151515" stroke-width="1.65"/>
<rect x="306.19" y="2237.8" width="21.13" height="100.4" fill="#275782"/>
<path d="M306.19 2338.2V2237.8H327.32V2338.2" fill="none" stroke="#151515" stroke-width="1.65"/>
<rect x="327.32" y="2269.7" width="21.13" height="68.5" fill="#c2e1f5"/>
<path d="M327.32 2338.2V2269.7H348.45V2338.2" fill="none" stroke="#151515" stroke-width="1.65"/>
<rect x="348.45" y="2316" width="21.13" height="22.2" fill="#ba6d37"/>
<path d="M348.45 2338.2V2316H369.58V2338.2" fill="none" stroke="#111" stroke-width="1.65"/>
<line x1="295.62" y1="2193.3" x2="295.62" y2="2237.3" stroke="#555555" stroke-width="1.4"/>
<line x1="289.62" y1="2193.3" x2="301.62" y2="2193.3" stroke="#555555" stroke-width="1.4"/>
<line x1="289.62" y1="2237.3" x2="301.62" y2="2237.3" stroke="#555555" stroke-width="1.4"/>
<line x1="316.75" y1="2215" x2="316.75" y2="2260.6" stroke="#4b3f88" stroke-width="1.4"/>
<line x1="310.75" y1="2215" x2="322.75" y2="2215" stroke="#4b3f88" stroke-width="1.4"/>
<line x1="310.75" y1="2260.6" x2="322.75" y2="2260.6" stroke="#4b3f88" stroke-width="1.4"/>
<line x1="337.89" y1="2244.8" x2="337.89" y2="2294.6" stroke="#6ea6de" stroke-width="1.4"/>
<line x1="331.89" y1="2244.8" x2="343.89" y2="2244.8" stroke="#6ea6de" stroke-width="1.4"/>
<line x1="331.89" y1="2294.6" x2="343.89" y2="2294.6" stroke="#6ea6de" stroke-width="1.4"/>
<line x1="359.02" y1="2312.5" x2="359.02" y2="2319.5" stroke="#a3271b" stroke-width="1.7"/>
<line x1="352.72" y1="2312.5" x2="365.32" y2="2312.5" stroke="#a3271b" stroke-width="1.7"/>
<line x1="352.72" y1="2319.5" x2="365.32" y2="2319.5" stroke="#a3271b" stroke-width="1.7"/>
<rect x="390.72" y="2221.6" width="21.13" height="116.6" fill="#d0d0d0"/>
<path d="M390.72 2338.2V2221.6H411.85V2338.2" fill="none" stroke="#151515" stroke-width="1.65"/>
<rect x="411.85" y="2251.7" width="21.13" height="86.5" fill="#275782"/>
<path d="M411.85 2338.2V2251.7H432.98V2338.2" fill="none" stroke="#151515" stroke-width="1.65"/>
<rect x="432.98" y="2284.3" width="21.13" height="53.9" fill="#c2e1f5"/>
<path d="M432.98 2338.2V2284.3H454.11V2338.2" fill="none" stroke="#151515" stroke-width="1.65"/>
<rect x="454.11" y="2308.4" width="21.13" height="29.8" fill="#ba6d37"/>
<path d="M454.11 2338.2V2308.4H475.24V2338.2" fill="none" stroke="#111" stroke-width="1.65"/>
<line x1="401.28" y1="2201.9" x2="401.28" y2="2241.3" stroke="#555555" stroke-width="1.4"/>
<line x1="395.28" y1="2201.9" x2="407.28" y2="2201.9" stroke="#555555" stroke-width="1.4"/>
<line x1="395.28" y1="2241.3" x2="407.28" y2="2241.3" stroke="#555555" stroke-width="1.4"/>
<line x1="422.41" y1="2231.2" x2="422.41" y2="2272.2" stroke="#4b3f88" stroke-width="1.4"/>
<line x1="416.41" y1="2231.2" x2="428.41" y2="2231.2" stroke="#4b3f88" stroke-width="1.4"/>
<line x1="416.41" y1="2272.2" x2="428.41" y2="2272.2" stroke="#4b3f88" stroke-width="1.4"/>
<line x1="443.55" y1="2262.1" x2="443.55" y2="2306.5" stroke="#6ea6de" stroke-width="1.4"/>
<line x1="437.55" y1="2262.1" x2="449.55" y2="2262.1" stroke="#6ea6de" stroke-width="1.4"/>
<line x1="437.55" y1="2306.5" x2="449.55" y2="2306.5" stroke="#6ea6de" stroke-width="1.4"/>
<line x1="464.68" y1="2305.4" x2="464.68" y2="2311.4" stroke="#a3271b" stroke-width="1.7"/>
<line x1="458.38" y1="2305.4" x2="470.98" y2="2305.4" stroke="#a3271b" stroke-width="1.7"/>
<line x1="458.38" y1="2311.4" x2="470.98" y2="2311.4" stroke="#a3271b" stroke-width="1.7"/>
<rect x="496.38" y="2228.5" width="21.13" height="109.7" fill="#d0d0d0"/>
<path d="M496.38 2338.2V2228.5H517.51V2338.2" fill="none" stroke="#151515" stroke-width="1.65"/>
<rect x="517.51" y="2247.3" width="21.13" height="90.9" fill="#275782"/>
<path d="M517.51 2338.2V2247.3H538.64V2338.2" fill="none" stroke="#151515" stroke-width="1.65"/>
<rect x="538.64" y="2278.5" width="21.13" height="59.7" fill="#c2e1f5"/>
<path d="M538.64 2338.2V2278.5H559.77V2338.2" fill="none" stroke="#151515" stroke-width="1.65"/>
<rect x="559.77" y="2319.5" width="21.13" height="18.7" fill="#ba6d37"/>
<path d="M559.77 2338.2V2319.5H580.9V2338.2" fill="none" stroke="#111" stroke-width="1.65"/>
<line x1="506.94" y1="2206.7" x2="506.94" y2="2250.3" stroke="#555555" stroke-width="1.4"/>
<line x1="500.94" y1="2206.7" x2="512.94" y2="2206.7" stroke="#555555" stroke-width="1.4"/>
<line x1="500.94" y1="2250.3" x2="512.94" y2="2250.3" stroke="#555555" stroke-width="1.4"/>
<line x1="528.07" y1="2224.7" x2="528.07" y2="2269.9" stroke="#4b3f88" stroke-width="1.4"/>
<line x1="522.07" y1="2224.7" x2="534.07" y2="2224.7" stroke="#4b3f88" stroke-width="1.4"/>
<line x1="522.07" y1="2269.9" x2="534.07" y2="2269.9" stroke="#4b3f88" stroke-width="1.4"/>
<line x1="549.21" y1="2253.3" x2="549.21" y2="2303.7" stroke="#6ea6de" stroke-width="1.4"/>
<line x1="543.21" y1="2253.3" x2="555.21" y2="2253.3" stroke="#6ea6de" stroke-width="1.4"/>
<line x1="543.21" y1="2303.7" x2="555.21" y2="2303.7" stroke="#6ea6de" stroke-width="1.4"/>
<line x1="570.34" y1="2315.7" x2="570.34" y2="2323.3" stroke="#a3271b" stroke-width="1.7"/>
<line x1="564.04" y1="2315.7" x2="576.64" y2="2315.7" stroke="#a3271b" stroke-width="1.7"/>
<line x1="564.04" y1="2323.3" x2="576.64" y2="2323.3" stroke="#a3271b" stroke-width="1.7"/>
<rect x="602.04" y="2228.5" width="21.13" height="109.7" fill="#d0d0d0"/>
<path d="M602.04 2338.2V2228.5H623.17V2338.2" fill="none" stroke="#151515" stroke-width="1.65"/>
<rect x="623.17" y="2252.8" width="21.13" height="85.4" fill="#275782"/>
<path d="M623.17 2338.2V2252.8H644.3V2338.2" fill="none" stroke="#151515" stroke-width="1.65"/>
<rect x="644.3" y="2285.2" width="21.13" height="53" fill="#c2e1f5"/>
<path d="M644.3 2338.2V2285.2H665.43V2338.2" fill="none" stroke="#151515" stroke-width="1.65"/>
<rect x="665.43" y="2314.9" width="21.13" height="23.3" fill="#ba6d37"/>
<path d="M665.43 2338.2V2314.9H686.56V2338.2" fill="none" stroke="#111" stroke-width="1.65"/>
<line x1="612.6" y1="2210.8" x2="612.6" y2="2246.2" stroke="#555555" stroke-width="1.4"/>
<line x1="606.6" y1="2210.8" x2="618.6" y2="2210.8" stroke="#555555" stroke-width="1.4"/>
<line x1="606.6" y1="2246.2" x2="618.6" y2="2246.2" stroke="#555555" stroke-width="1.4"/>
<line x1="633.73" y1="2233.5" x2="633.73" y2="2272.1" stroke="#4b3f88" stroke-width="1.4"/>
<line x1="627.73" y1="2233.5" x2="639.73" y2="2233.5" stroke="#4b3f88" stroke-width="1.4"/>
<line x1="627.73" y1="2272.1" x2="639.73" y2="2272.1" stroke="#4b3f88" stroke-width="1.4"/>
<line x1="654.87" y1="2264" x2="654.87" y2="2306.4" stroke="#6ea6de" stroke-width="1.4"/>
<line x1="648.87" y1="2264" x2="660.87" y2="2264" stroke="#6ea6de" stroke-width="1.4"/>
<line x1="648.87" y1="2306.4" x2="660.87" y2="2306.4" stroke="#6ea6de" stroke-width="1.4"/>
<line x1="676" y1="2311.4" x2="676" y2="2318.4" stroke="#a3271b" stroke-width="1.7"/>
<line x1="669.7" y1="2311.4" x2="682.3" y2="2311.4" stroke="#a3271b" stroke-width="1.7"/>
<line x1="669.7" y1="2318.4" x2="682.3" y2="2318.4" stroke="#a3271b" stroke-width="1.7"/>
<rect x="707.7" y="2214.2" width="21.13" height="124" fill="#d0d0d0"/>
<path d="M707.7 2338.2V2214.2H728.83V2338.2" fill="none" stroke="#151515" stroke-width="1.65"/>
<rect x="728.83" y="2244.7" width="21.13" height="93.5" fill="#275782"/>
<path d="M728.83 2338.2V2244.7H749.96V2338.2" fill="none" stroke="#151515" stroke-width="1.65"/>
<rect x="749.96" y="2280.1" width="21.13" height="58.1" fill="#c2e1f5"/>
<path d="M749.96 2338.2V2280.1H771.09V2338.2" fill="none" stroke="#151515" stroke-width="1.65"/>
<rect x="771.09" y="2308.6" width="21.13" height="29.6" fill="#ba6d37"/>
<path d="M771.09 2338.2V2308.6H792.22V2338.2" fill="none" stroke="#111" stroke-width="1.65"/>
<line x1="718.26" y1="2202.2" x2="718.26" y2="2226.2" stroke="#555555" stroke-width="1.4"/>
<line x1="712.26" y1="2202.2" x2="724.26" y2="2202.2" stroke="#555555" stroke-width="1.4"/>
<line x1="712.26" y1="2226.2" x2="724.26" y2="2226.2" stroke="#555555" stroke-width="1.4"/>
<line x1="739.39" y1="2232.4" x2="739.39" y2="2257" stroke="#4b3f88" stroke-width="1.4"/>
<line x1="733.39" y1="2232.4" x2="745.39" y2="2232.4" stroke="#4b3f88" stroke-width="1.4"/>
<line x1="733.39" y1="2257" x2="745.39" y2="2257" stroke="#4b3f88" stroke-width="1.4"/>
<line x1="760.53" y1="2265.3" x2="760.53" y2="2294.9" stroke="#6ea6de" stroke-width="1.4"/>
<line x1="754.53" y1="2265.3" x2="766.53" y2="2265.3" stroke="#6ea6de" stroke-width="1.4"/>
<line x1="754.53" y1="2294.9" x2="766.53" y2="2294.9" stroke="#6ea6de" stroke-width="1.4"/>
<line x1="781.66" y1="2307.6" x2="781.66" y2="2309.6" stroke="#a3271b" stroke-width="1.7"/>
<line x1="775.36" y1="2307.6" x2="787.96" y2="2307.6" stroke="#a3271b" stroke-width="1.7"/>
<line x1="775.36" y1="2309.6" x2="787.96" y2="2309.6" stroke="#a3271b" stroke-width="1.7"/>
<rect x="813.36" y="2195" width="21.13" height="143.2" fill="#d0d0d0"/>
<path d="M813.36 2338.2V2195H834.49V2338.2" fill="none" stroke="#151515" stroke-width="1.65"/>
<rect x="834.49" y="2214.6" width="21.13" height="123.6" fill="#275782"/>
<path d="M834.49 2338.2V2214.6H855.62V2338.2" fill="none" stroke="#151515" stroke-width="1.65"/>
<rect x="855.62" y="2246.1" width="21.13" height="92.1" fill="#c2e1f5"/>
<path d="M855.62 2338.2V2246.1H876.75V2338.2" fill="none" stroke="#151515" stroke-width="1.65"/>
<rect x="876.75" y="2318.8" width="21.13" height="19.4" fill="#ba6d37"/>
<path d="M876.75 2338.2V2318.8H897.88V2338.2" fill="none" stroke="#111" stroke-width="1.65"/>
<line x1="823.92" y1="2174.2" x2="823.92" y2="2215.8" stroke="#555555" stroke-width="1.4"/>
<line x1="817.92" y1="2174.2" x2="829.92" y2="2174.2" stroke="#555555" stroke-width="1.4"/>
<line x1="817.92" y1="2215.8" x2="829.92" y2="2215.8" stroke="#555555" stroke-width="1.4"/>
<line x1="845.05" y1="2193" x2="845.05" y2="2236.2" stroke="#4b3f88" stroke-width="1.4"/>
<line x1="839.05" y1="2193" x2="851.05" y2="2193" stroke="#4b3f88" stroke-width="1.4"/>
<line x1="839.05" y1="2236.2" x2="851.05" y2="2236.2" stroke="#4b3f88" stroke-width="1.4"/>
<line x1="866.19" y1="2223" x2="866.19" y2="2269.2" stroke="#6ea6de" stroke-width="1.4"/>
<line x1="860.19" y1="2223" x2="872.19" y2="2223" stroke="#6ea6de" stroke-width="1.4"/>
<line x1="860.19" y1="2269.2" x2="872.19" y2="2269.2" stroke="#6ea6de" stroke-width="1.4"/>
<line x1="887.32" y1="2315.6" x2="887.32" y2="2322" stroke="#a3271b" stroke-width="1.7"/>
<line x1="881.02" y1="2315.6" x2="893.62" y2="2315.6" stroke="#a3271b" stroke-width="1.7"/>
<line x1="881.02" y1="2322" x2="893.62" y2="2322" stroke="#a3271b" stroke-width="1.7"/>
<rect x="919.02" y="2236.2" width="21.13" height="102" fill="#d0d0d0"/>
<path d="M919.02 2338.2V2236.2H940.15V2338.2" fill="none" stroke="#151515" stroke-width="1.65"/>
<rect x="940.15" y="2274.4" width="21.13" height="63.8" fill="#275782"/>
<path d="M940.15 2338.2V2274.4H961.28V2338.2" fill="none" stroke="#151515" stroke-width="1.65"/>
<rect x="961.28" y="2305.6" width="21.13" height="32.6" fill="#c2e1f5"/>
<path d="M961.28 2338.2V2305.6H982.41V2338.2" fill="none" stroke="#151515" stroke-width="1.65"/>
<rect x="982.41" y="2301" width="21.13" height="37.2" fill="#ba6d37"/>
<path d="M982.41 2338.2V2301H1003.54V2338.2" fill="none" stroke="#111" stroke-width="1.65"/>
<line x1="929.58" y1="2216.8" x2="929.58" y2="2255.6" stroke="#555555" stroke-width="1.4"/>
<line x1="923.58" y1="2216.8" x2="935.58" y2="2216.8" stroke="#555555" stroke-width="1.4"/>
<line x1="923.58" y1="2255.6" x2="935.58" y2="2255.6" stroke="#555555" stroke-width="1.4"/>
<line x1="950.71" y1="2254.1" x2="950.71" y2="2294.7" stroke="#4b3f88" stroke-width="1.4"/>
<line x1="944.71" y1="2254.1" x2="956.71" y2="2254.1" stroke="#4b3f88" stroke-width="1.4"/>
<line x1="944.71" y1="2294.7" x2="956.71" y2="2294.7" stroke="#4b3f88" stroke-width="1.4"/>
<line x1="971.85" y1="2283.6" x2="971.85" y2="2327.6" stroke="#6ea6de" stroke-width="1.4"/>
<line x1="965.85" y1="2283.6" x2="977.85" y2="2283.6" stroke="#6ea6de" stroke-width="1.4"/>
<line x1="965.85" y1="2327.6" x2="977.85" y2="2327.6" stroke="#6ea6de" stroke-width="1.4"/>
<line x1="992.98" y1="2297.6" x2="992.98" y2="2304.4" stroke="#a3271b" stroke-width="1.7"/>
<line x1="986.68" y1="2297.6" x2="999.28" y2="2297.6" stroke="#a3271b" stroke-width="1.7"/>
<line x1="986.68" y1="2304.4" x2="999.28" y2="2304.4" stroke="#a3271b" stroke-width="1.7"/>
<rect x="1024.68" y="2228.8" width="21.13" height="109.4" fill="#d0d0d0"/>
<path d="M1024.68 2338.2V2228.8H1045.81V2338.2" fill="none" stroke="#151515" stroke-width="1.65"/>
<rect x="1045.81" y="2247" width="21.13" height="91.2" fill="#275782"/>
<path d="M1045.81 2338.2V2247H1066.94V2338.2" fill="none" stroke="#151515" stroke-width="1.65"/>
<rect x="1066.94" y="2278.5" width="21.13" height="59.7" fill="#c2e1f5"/>
<path d="M1066.94 2338.2V2278.5H1088.07V2338.2" fill="none" stroke="#151515" stroke-width="1.65"/>
<rect x="1088.07" y="2320.6" width="21.13" height="17.6" fill="#ba6d37"/>
<path d="M1088.07 2338.2V2320.6H1109.2V2338.2" fill="none" stroke="#111" stroke-width="1.65"/>
<line x1="1035.24" y1="2209.1" x2="1035.24" y2="2248.5" stroke="#555555" stroke-width="1.4"/>
<line x1="1029.24" y1="2209.1" x2="1041.24" y2="2209.1" stroke="#555555" stroke-width="1.4"/>
<line x1="1029.24" y1="2248.5" x2="1041.24" y2="2248.5" stroke="#555555" stroke-width="1.4"/>
<line x1="1056.37" y1="2227" x2="1056.37" y2="2267" stroke="#4b3f88" stroke-width="1.4"/>
<line x1="1050.37" y1="2227" x2="1062.37" y2="2227" stroke="#4b3f88" stroke-width="1.4"/>
<line x1="1050.37" y1="2267" x2="1062.37" y2="2267" stroke="#4b3f88" stroke-width="1.4"/>
<line x1="1077.51" y1="2256.7" x2="1077.51" y2="2300.3" stroke="#6ea6de" stroke-width="1.4"/>
<line x1="1071.51" y1="2256.7" x2="1083.51" y2="2256.7" stroke="#6ea6de" stroke-width="1.4"/>
<line x1="1071.51" y1="2300.3" x2="1083.51" y2="2300.3" stroke="#6ea6de" stroke-width="1.4"/>
<line x1="1098.64" y1="2317.7" x2="1098.64" y2="2323.5" stroke="#a3271b" stroke-width="1.7"/>
<line x1="1092.34" y1="2317.7" x2="1104.94" y2="2317.7" stroke="#a3271b" stroke-width="1.7"/>
<line x1="1092.34" y1="2323.5" x2="1104.94" y2="2323.5" stroke="#a3271b" stroke-width="1.7"/>
<line x1="116" y1="2338.2" x2="1172.6" y2="2338.2" stroke="#a0a0a0" stroke-width="1.2"/>
<line x1="221.66" y1="1893.8" x2="221.66" y2="1969.8" stroke="#3f9656" stroke-width="1.5"/>
<line x1="212.86" y1="1893.8" x2="230.46" y2="1893.8" stroke="#3f9656" stroke-width="1.5"/>
<line x1="212.86" y1="1969.8" x2="230.46" y2="1969.8" stroke="#3f9656" stroke-width="1.5"/>
<line x1="327.32" y1="1902.1" x2="327.32" y2="2020.3" stroke="#3f9656" stroke-width="1.5"/>
<line x1="318.52" y1="1902.1" x2="336.12" y2="1902.1" stroke="#3f9656" stroke-width="1.5"/>
<line x1="318.52" y1="2020.3" x2="336.12" y2="2020.3" stroke="#3f9656" stroke-width="1.5"/>
<line x1="432.98" y1="1919.5" x2="432.98" y2="2012.5" stroke="#3f9656" stroke-width="1.5"/>
<line x1="424.18" y1="1919.5" x2="441.78" y2="1919.5" stroke="#3f9656" stroke-width="1.5"/>
<line x1="424.18" y1="2012.5" x2="441.78" y2="2012.5" stroke="#3f9656" stroke-width="1.5"/>
<line x1="538.64" y1="1925.2" x2="538.64" y2="1997.6" stroke="#3f9656" stroke-width="1.5"/>
<line x1="529.84" y1="1925.2" x2="547.44" y2="1925.2" stroke="#3f9656" stroke-width="1.5"/>
<line x1="529.84" y1="1997.6" x2="547.44" y2="1997.6" stroke="#3f9656" stroke-width="1.5"/>
<line x1="644.3" y1="1907.4" x2="644.3" y2="1990.8" stroke="#3f9656" stroke-width="1.5"/>
<line x1="635.5" y1="1907.4" x2="653.1" y2="1907.4" stroke="#3f9656" stroke-width="1.5"/>
<line x1="635.5" y1="1990.8" x2="653.1" y2="1990.8" stroke="#3f9656" stroke-width="1.5"/>
<line x1="749.96" y1="1884.3" x2="749.96" y2="1993.1" stroke="#3f9656" stroke-width="1.5"/>
<line x1="741.16" y1="1884.3" x2="758.76" y2="1884.3" stroke="#3f9656" stroke-width="1.5"/>
<line x1="741.16" y1="1993.1" x2="758.76" y2="1993.1" stroke="#3f9656" stroke-width="1.5"/>
<line x1="855.62" y1="1915.5" x2="855.62" y2="1966.5" stroke="#3f9656" stroke-width="1.5"/>
<line x1="846.82" y1="1915.5" x2="864.42" y2="1915.5" stroke="#3f9656" stroke-width="1.5"/>
<line x1="846.82" y1="1966.5" x2="864.42" y2="1966.5" stroke="#3f9656" stroke-width="1.5"/>
<line x1="961.28" y1="1881.8" x2="961.28" y2="2003.4" stroke="#3f9656" stroke-width="1.5"/>
<line x1="952.48" y1="1881.8" x2="970.08" y2="1881.8" stroke="#3f9656" stroke-width="1.5"/>
<line x1="952.48" y1="2003.4" x2="970.08" y2="2003.4" stroke="#3f9656" stroke-width="1.5"/>
<line x1="1066.94" y1="1929.2" x2="1066.94" y2="2006" stroke="#3f9656" stroke-width="1.5"/>
<line x1="1058.14" y1="1929.2" x2="1075.74" y2="1929.2" stroke="#3f9656" stroke-width="1.5"/>
<line x1="1058.14" y1="2006" x2="1075.74" y2="2006" stroke="#3f9656" stroke-width="1.5"/>
<line x1="221.66" y1="2028.3" x2="221.66" y2="2117.7" stroke="#4b5cb4" stroke-width="1.4"/>
<line x1="212.86" y1="2028.3" x2="230.46" y2="2028.3" stroke="#4b5cb4" stroke-width="1.4"/>
<line x1="212.86" y1="2117.7" x2="230.46" y2="2117.7" stroke="#4b5cb4" stroke-width="1.4"/>
<line x1="327.32" y1="2016.2" x2="327.32" y2="2112.2" stroke="#4b5cb4" stroke-width="1.4"/>
<line x1="318.52" y1="2016.2" x2="336.12" y2="2016.2" stroke="#4b5cb4" stroke-width="1.4"/>
<line x1="318.52" y1="2112.2" x2="336.12" y2="2112.2" stroke="#4b5cb4" stroke-width="1.4"/>
<line x1="432.98" y1="2014.8" x2="432.98" y2="2118.6" stroke="#4b5cb4" stroke-width="1.4"/>
<line x1="424.18" y1="2014.8" x2="441.78" y2="2014.8" stroke="#4b5cb4" stroke-width="1.4"/>
<line x1="424.18" y1="2118.6" x2="441.78" y2="2118.6" stroke="#4b5cb4" stroke-width="1.4"/>
<line x1="538.64" y1="2023.4" x2="538.64" y2="2100.4" stroke="#4b5cb4" stroke-width="1.4"/>
<line x1="529.84" y1="2023.4" x2="547.44" y2="2023.4" stroke="#4b5cb4" stroke-width="1.4"/>
<line x1="529.84" y1="2100.4" x2="547.44" y2="2100.4" stroke="#4b5cb4" stroke-width="1.4"/>
<line x1="644.3" y1="2008.3" x2="644.3" y2="2104.3" stroke="#4b5cb4" stroke-width="1.4"/>
<line x1="635.5" y1="2008.3" x2="653.1" y2="2008.3" stroke="#4b5cb4" stroke-width="1.4"/>
<line x1="635.5" y1="2104.3" x2="653.1" y2="2104.3" stroke="#4b5cb4" stroke-width="1.4"/>
<line x1="749.96" y1="2033" x2="749.96" y2="2132.4" stroke="#4b5cb4" stroke-width="1.4"/>
<line x1="741.16" y1="2033" x2="758.76" y2="2033" stroke="#4b5cb4" stroke-width="1.4"/>
<line x1="741.16" y1="2132.4" x2="758.76" y2="2132.4" stroke="#4b5cb4" stroke-width="1.4"/>
<line x1="855.62" y1="2083.7" x2="855.62" y2="2138.7" stroke="#4b5cb4" stroke-width="1.4"/>
<line x1="846.82" y1="2083.7" x2="864.42" y2="2083.7" stroke="#4b5cb4" stroke-width="1.4"/>
<line x1="846.82" y1="2138.7" x2="864.42" y2="2138.7" stroke="#4b5cb4" stroke-width="1.4"/>
<line x1="961.28" y1="2038" x2="961.28" y2="2117.2" stroke="#4b5cb4" stroke-width="1.4"/>
<line x1="952.48" y1="2038" x2="970.08" y2="2038" stroke="#4b5cb4" stroke-width="1.4"/>
<line x1="952.48" y1="2117.2" x2="970.08" y2="2117.2" stroke="#4b5cb4" stroke-width="1.4"/>
<line x1="1066.94" y1="2026.5" x2="1066.94" y2="2116.1" stroke="#4b5cb4" stroke-width="1.4"/>
<line x1="1058.14" y1="2026.5" x2="1075.74" y2="2026.5" stroke="#4b5cb4" stroke-width="1.4"/>
<line x1="1058.14" y1="2116.1" x2="1075.74" y2="2116.1" stroke="#4b5cb4" stroke-width="1.4"/>
<line x1="227.92" y1="1933.54" x2="321.06" y2="1959.46" stroke="#0b7d2c" stroke-width="2.3" stroke-linecap="butt"/>
<line x1="333.81" y1="1961.49" x2="426.49" y2="1965.71" stroke="#0b7d2c" stroke-width="2.3" stroke-linecap="butt"/>
<line x1="439.47" y1="1965.72" x2="532.15" y2="1961.68" stroke="#0b7d2c" stroke-width="2.3" stroke-linecap="butt"/>
<line x1="545.1" y1="1960.65" x2="637.84" y2="1949.85" stroke="#0b7d2c" stroke-width="2.3" stroke-linecap="butt"/>
<line x1="650.77" y1="1948.46" x2="743.49" y2="1939.34" stroke="#0b7d2c" stroke-width="2.3" stroke-linecap="butt"/>
<line x1="756.46" y1="1938.84" x2="849.12" y2="1940.86" stroke="#0b7d2c" stroke-width="2.3" stroke-linecap="butt"/>
<line x1="862.12" y1="1941.1" x2="954.78" y2="1942.5" stroke="#0b7d2c" stroke-width="2.3" stroke-linecap="butt"/>
<line x1="967.61" y1="1944.1" x2="1060.61" y2="1966.1" stroke="#0b7d2c" stroke-width="2.3" stroke-linecap="butt"/>
<path d="M221.66 1924.9L228.46 1931.8L221.66 1938.7L214.86 1931.8Z" fill="#068536"/>
<path d="M327.32 1954.3L334.12 1961.2L327.32 1968.1L320.52 1961.2Z" fill="#068536"/>
<path d="M432.98 1959.1L439.78 1966L432.98 1972.9L426.18 1966Z" fill="#068536"/>
<path d="M538.64 1954.5L545.44 1961.4L538.64 1968.3L531.84 1961.4Z" fill="#068536"/>
<path d="M644.3 1942.2L651.1 1949.1L644.3 1956L637.5 1949.1Z" fill="#068536"/>
<path d="M749.96 1931.8L756.76 1938.7L749.96 1945.6L743.16 1938.7Z" fill="#068536"/>
<path d="M855.62 1934.1L862.42 1941L855.62 1947.9L848.82 1941Z" fill="#068536"/>
<path d="M961.28 1935.7L968.08 1942.6L961.28 1949.5L954.48 1942.6Z" fill="#068536"/>
<path d="M1066.94 1960.7L1073.74 1967.6L1066.94 1974.5L1060.14 1967.6Z" fill="#068536"/>
<line x1="228.54" y1="2072.43" x2="320.44" y2="2064.77" stroke="#2537a0" stroke-width="2.3" stroke-linecap="butt"/>
<line x1="334.22" y1="2064.36" x2="426.08" y2="2066.54" stroke="#2537a0" stroke-width="2.3" stroke-linecap="butt"/>
<line x1="439.87" y1="2066.39" x2="531.75" y2="2062.21" stroke="#2537a0" stroke-width="2.3" stroke-linecap="butt"/>
<line x1="545.53" y1="2061.53" x2="637.41" y2="2056.67" stroke="#2537a0" stroke-width="2.3" stroke-linecap="butt"/>
<line x1="650.99" y1="2057.97" x2="743.27" y2="2081.03" stroke="#2537a0" stroke-width="2.3" stroke-linecap="butt"/>
<line x1="756.62" y1="2084.5" x2="848.96" y2="2109.4" stroke="#2537a0" stroke-width="2.3" stroke-linecap="butt"/>
<line x1="862.2" y1="2109.11" x2="954.7" y2="2079.69" stroke="#2537a0" stroke-width="2.3" stroke-linecap="butt"/>
<line x1="968.17" y1="2077.19" x2="1060.05" y2="2071.71" stroke="#2537a0" stroke-width="2.3" stroke-linecap="butt"/>
<circle cx="221.66" cy="2073" r="5.3" fill="#3347a0"/>
<circle cx="327.32" cy="2064.2" r="5.3" fill="#3347a0"/>
<circle cx="432.98" cy="2066.7" r="5.3" fill="#3347a0"/>
<circle cx="538.64" cy="2061.9" r="5.3" fill="#3347a0"/>
<circle cx="644.3" cy="2056.3" r="5.3" fill="#3347a0"/>
<circle cx="749.96" cy="2082.7" r="5.3" fill="#3347a0"/>
<circle cx="855.62" cy="2111.2" r="5.3" fill="#3347a0"/>
<circle cx="961.28" cy="2077.6" r="5.3" fill="#3347a0"/>
<circle cx="1066.94" cy="2071.3" r="5.3" fill="#3347a0"/>
<line x1="225.1" y1="2135.26" x2="323.88" y2="2283.54" stroke="#000" stroke-width="2.5" stroke-linecap="butt"/>
<line x1="331.69" y1="2284.3" x2="428.61" y2="2186.6" stroke="#000" stroke-width="2.5" stroke-linecap="butt"/>
<line x1="437.25" y1="2186.69" x2="534.37" y2="2288.81" stroke="#000" stroke-width="2.5" stroke-linecap="butt"/>
<line x1="544.71" y1="2292.04" x2="638.23" y2="2272.56" stroke="#000" stroke-width="2.5" stroke-linecap="butt"/>
<line x1="648.89" y1="2267.13" x2="745.37" y2="2179.47" stroke="#000" stroke-width="2.5" stroke-linecap="butt"/>
<line x1="754.93" y1="2179" x2="850.65" y2="2250.3" stroke="#000" stroke-width="2.5" stroke-linecap="butt"/>
<line x1="858.78" y1="2248.67" x2="958.12" y2="2081.03" stroke="#000" stroke-width="2.5" stroke-linecap="butt"/>
<line x1="963.92" y1="2081.31" x2="1064.3" y2="2294.69" stroke="#000" stroke-width="2.5" stroke-linecap="butt"/>
<path d="M221.66 2123.1L228.46 2133.6L214.86 2133.6Z" fill="#000"/>
<path d="M327.32 2281.7L334.12 2292.2L320.52 2292.2Z" fill="#000"/>
<path d="M432.98 2175.2L439.78 2185.7L426.18 2185.7Z" fill="#000"/>
<path d="M538.64 2286.3L545.44 2296.8L531.84 2296.8Z" fill="#000"/>
<path d="M644.3 2264.3L651.1 2274.8L637.5 2274.8Z" fill="#000"/>
<path d="M749.96 2168.3L756.76 2178.8L743.16 2178.8Z" fill="#000"/>
<path d="M855.62 2247L862.42 2257.5L848.82 2257.5Z" fill="#000"/>
<path d="M961.28 2068.7L968.08 2079.2L954.48 2079.2Z" fill="#000"/>
<path d="M1066.94 2293.3L1073.74 2303.8L1060.14 2303.8Z" fill="#000"/>
<path d="M116 2338.2V1785H1172.6V2338.2" fill="none" stroke="#000" stroke-width="2.4"/>
<line x1="114.8" y1="2338.2" x2="127" y2="2338.2" stroke="#000" stroke-width="2.2"/>
<text transform="translate(105.3 2347.2) scale(0.895 1)" font-size="35" fill="#000" stroke="#000" text-anchor="end">0</text>
<line x1="114.8" y1="2292.1" x2="121.5" y2="2292.1" stroke="#000" stroke-width="2.2"/>
<line x1="114.8" y1="2246" x2="127" y2="2246" stroke="#000" stroke-width="2.2"/>
<text transform="translate(105.3 2255) scale(0.895 1)" font-size="35" fill="#000" stroke="#000" text-anchor="end">10</text>
<line x1="114.8" y1="2199.9" x2="121.5" y2="2199.9" stroke="#000" stroke-width="2.2"/>
<line x1="114.8" y1="2153.8" x2="127" y2="2153.8" stroke="#000" stroke-width="2.2"/>
<text transform="translate(105.3 2162.8) scale(0.895 1)" font-size="35" fill="#000" stroke="#000" text-anchor="end">20</text>
<line x1="114.8" y1="2107.7" x2="121.5" y2="2107.7" stroke="#000" stroke-width="2.2"/>
<line x1="114.8" y1="2061.6" x2="127" y2="2061.6" stroke="#000" stroke-width="2.2"/>
<text transform="translate(105.3 2070.6) scale(0.895 1)" font-size="35" fill="#000" stroke="#000" text-anchor="end">30</text>
<line x1="114.8" y1="2015.5" x2="121.5" y2="2015.5" stroke="#000" stroke-width="2.2"/>
<line x1="114.8" y1="1969.4" x2="127" y2="1969.4" stroke="#000" stroke-width="2.2"/>
<text transform="translate(105.3 1978.4) scale(0.895 1)" font-size="35" fill="#000" stroke="#000" text-anchor="end">40</text>
<line x1="114.8" y1="1923.3" x2="121.5" y2="1923.3" stroke="#000" stroke-width="2.2"/>
<line x1="114.8" y1="1877.2" x2="127" y2="1877.2" stroke="#000" stroke-width="2.2"/>
<text transform="translate(105.3 1886.2) scale(0.895 1)" font-size="35" fill="#000" stroke="#000" text-anchor="end">50</text>
<line x1="114.8" y1="1831.1" x2="121.5" y2="1831.1" stroke="#000" stroke-width="2.2"/>
<line x1="114.8" y1="1785" x2="127" y2="1785" stroke="#000" stroke-width="2.2"/>
<text transform="translate(105.3 1794) scale(0.895 1)" font-size="35" fill="#000" stroke="#000" text-anchor="end">60</text>
<line x1="1162.1" y1="2338.2" x2="1173.8" y2="2338.2" stroke="#000" stroke-width="2.2"/>
<text transform="translate(1185.4 2347.2) scale(0.895 1)" font-size="35" fill="#2b3a98" stroke="#2b3a98" text-anchor="start">-1.2</text>
<line x1="1167.4" y1="2292.1" x2="1173.8" y2="2292.1" stroke="#000" stroke-width="2.2"/>
<line x1="1162.1" y1="2246" x2="1173.8" y2="2246" stroke="#000" stroke-width="2.2"/>
<text transform="translate(1185.4 2255) scale(0.895 1)" font-size="35" fill="#2b3a98" stroke="#2b3a98" text-anchor="start">-0.8</text>
<line x1="1167.4" y1="2199.9" x2="1173.8" y2="2199.9" stroke="#000" stroke-width="2.2"/>
<line x1="1162.1" y1="2153.8" x2="1173.8" y2="2153.8" stroke="#000" stroke-width="2.2"/>
<text transform="translate(1185.4 2162.8) scale(0.895 1)" font-size="35" fill="#2b3a98" stroke="#2b3a98" text-anchor="start">-0.4</text>
<line x1="1167.4" y1="2107.7" x2="1173.8" y2="2107.7" stroke="#000" stroke-width="2.2"/>
<line x1="1162.1" y1="2061.6" x2="1173.8" y2="2061.6" stroke="#000" stroke-width="2.2"/>
<text transform="translate(1185.4 2070.6) scale(0.895 1)" font-size="35" fill="#2b3a98" stroke="#2b3a98" text-anchor="start">0.0</text>
<line x1="1167.4" y1="2015.5" x2="1173.8" y2="2015.5" stroke="#000" stroke-width="2.2"/>
<line x1="1162.1" y1="1969.4" x2="1173.8" y2="1969.4" stroke="#000" stroke-width="2.2"/>
<text transform="translate(1185.4 1978.4) scale(0.895 1)" font-size="35" fill="#2b3a98" stroke="#2b3a98" text-anchor="start">0.4</text>
<line x1="1167.4" y1="1923.3" x2="1173.8" y2="1923.3" stroke="#000" stroke-width="2.2"/>
<line x1="1162.1" y1="1877.2" x2="1173.8" y2="1877.2" stroke="#000" stroke-width="2.2"/>
<text transform="translate(1185.4 1886.2) scale(0.895 1)" font-size="35" fill="#2b3a98" stroke="#2b3a98" text-anchor="start">0.8</text>
<line x1="1167.4" y1="1831.1" x2="1173.8" y2="1831.1" stroke="#000" stroke-width="2.2"/>
<line x1="1162.1" y1="1785" x2="1173.8" y2="1785" stroke="#000" stroke-width="2.2"/>
<text transform="translate(1185.4 1794) scale(0.895 1)" font-size="35" fill="#2b3a98" stroke="#2b3a98" text-anchor="start">1.2</text>
<line x1="1288.3" y1="1783.9" x2="1288.3" y2="2339.3" stroke="#000" stroke-width="2.4"/>
<line x1="1277.3" y1="2338.2" x2="1288.3" y2="2338.2" stroke="#000" stroke-width="2.2"/>
<text transform="translate(1301.5 2347.2) scale(0.895 1)" font-size="35" fill="#000" stroke="#000" text-anchor="start">0</text>
<line x1="1283.1" y1="2292.1" x2="1288.3" y2="2292.1" stroke="#000" stroke-width="2.2"/>
<line x1="1277.3" y1="2246" x2="1288.3" y2="2246" stroke="#000" stroke-width="2.2"/>
<text transform="translate(1301.5 2255) scale(0.895 1)" font-size="35" fill="#000" stroke="#000" text-anchor="start">250</text>
<line x1="1283.1" y1="2199.9" x2="1288.3" y2="2199.9" stroke="#000" stroke-width="2.2"/>
<line x1="1277.3" y1="2153.8" x2="1288.3" y2="2153.8" stroke="#000" stroke-width="2.2"/>
<text transform="translate(1301.5 2162.8) scale(0.895 1)" font-size="35" fill="#000" stroke="#000" text-anchor="start">500</text>
<line x1="1283.1" y1="2107.7" x2="1288.3" y2="2107.7" stroke="#000" stroke-width="2.2"/>
<line x1="1277.3" y1="2061.6" x2="1288.3" y2="2061.6" stroke="#000" stroke-width="2.2"/>
<text transform="translate(1301.5 2070.6) scale(0.895 1)" font-size="35" fill="#000" stroke="#000" text-anchor="start">750</text>
<line x1="1283.1" y1="2015.5" x2="1288.3" y2="2015.5" stroke="#000" stroke-width="2.2"/>
<line x1="1277.3" y1="1969.4" x2="1288.3" y2="1969.4" stroke="#000" stroke-width="2.2"/>
<text transform="translate(1301.5 1978.4) scale(0.895 1)" font-size="35" fill="#000" stroke="#000" text-anchor="start">1000</text>
<line x1="1283.1" y1="1923.3" x2="1288.3" y2="1923.3" stroke="#000" stroke-width="2.2"/>
<line x1="1277.3" y1="1877.2" x2="1288.3" y2="1877.2" stroke="#000" stroke-width="2.2"/>
<text transform="translate(1301.5 1886.2) scale(0.895 1)" font-size="35" fill="#000" stroke="#000" text-anchor="start">1250</text>
<line x1="1283.1" y1="1831.1" x2="1288.3" y2="1831.1" stroke="#000" stroke-width="2.2"/>
<line x1="1277.3" y1="1785" x2="1288.3" y2="1785" stroke="#000" stroke-width="2.2"/>
<text transform="translate(1301.5 1794) scale(0.895 1)" font-size="35" fill="#000" stroke="#000" text-anchor="start">1500</text>
<line x1="1436.7" y1="1783.9" x2="1436.7" y2="2339.3" stroke="#000" stroke-width="2.4"/>
<line x1="1425.7" y1="2338.2" x2="1436.7" y2="2338.2" stroke="#000" stroke-width="2.2"/>
<text transform="translate(1455.1 2347.2) scale(0.895 1)" font-size="35" fill="#138030" stroke="#138030" text-anchor="start">18</text>
<line x1="1431.5" y1="2292.1" x2="1436.7" y2="2292.1" stroke="#000" stroke-width="2.2"/>
<line x1="1425.7" y1="2246" x2="1436.7" y2="2246" stroke="#000" stroke-width="2.2"/>
<text transform="translate(1455.1 2255) scale(0.895 1)" font-size="35" fill="#138030" stroke="#138030" text-anchor="start">20</text>
<line x1="1431.5" y1="2199.9" x2="1436.7" y2="2199.9" stroke="#000" stroke-width="2.2"/>
<line x1="1425.7" y1="2153.8" x2="1436.7" y2="2153.8" stroke="#000" stroke-width="2.2"/>
<text transform="translate(1455.1 2162.8) scale(0.895 1)" font-size="35" fill="#138030" stroke="#138030" text-anchor="start">22</text>
<line x1="1431.5" y1="2107.7" x2="1436.7" y2="2107.7" stroke="#000" stroke-width="2.2"/>
<line x1="1425.7" y1="2061.6" x2="1436.7" y2="2061.6" stroke="#000" stroke-width="2.2"/>
<text transform="translate(1455.1 2070.6) scale(0.895 1)" font-size="35" fill="#138030" stroke="#138030" text-anchor="start">24</text>
<line x1="1431.5" y1="2015.5" x2="1436.7" y2="2015.5" stroke="#000" stroke-width="2.2"/>
<line x1="1425.7" y1="1969.4" x2="1436.7" y2="1969.4" stroke="#000" stroke-width="2.2"/>
<text transform="translate(1455.1 1978.4) scale(0.895 1)" font-size="35" fill="#138030" stroke="#138030" text-anchor="start">26</text>
<line x1="1431.5" y1="1923.3" x2="1436.7" y2="1923.3" stroke="#000" stroke-width="2.2"/>
<line x1="1425.7" y1="1877.2" x2="1436.7" y2="1877.2" stroke="#000" stroke-width="2.2"/>
<text transform="translate(1455.1 1886.2) scale(0.895 1)" font-size="35" fill="#138030" stroke="#138030" text-anchor="start">28</text>
<line x1="1431.5" y1="1831.1" x2="1436.7" y2="1831.1" stroke="#000" stroke-width="2.2"/>
<line x1="1425.7" y1="1785" x2="1436.7" y2="1785" stroke="#000" stroke-width="2.2"/>
<text transform="translate(1455.1 1794) scale(0.895 1)" font-size="35" fill="#138030" stroke="#138030" text-anchor="start">30</text>
<text transform="translate(130.8 1828.7) scale(0.8832 1)" font-size="52.5" stroke="#000">ALF</text>
<text transform="translate(48.6 2217.61) rotate(-90) scale(0.8697 1)" font-size="40.5" fill="#000" stroke="#000">Flux (mg CH<tspan font-size="27.5" dy="10.2">4</tspan><tspan dy="-10.2">m</tspan><tspan font-size="27.5" dy="-16">-2</tspan><tspan dy="16">d</tspan><tspan font-size="27.5" dy="-16.5">-1</tspan><tspan dy="16.5">)</tspan></text>
<text transform="translate(1263.1 2268.64) rotate(-90) scale(0.8716 1)" font-size="34.5" fill="#2b3a98" stroke="#2b3a98">Equivalent Water Thickness (m)</text>
<text transform="translate(1404.1 2182.64) rotate(-90) scale(0.8691 1)" font-size="34.5" fill="#000" stroke="#000">Burned area (km<tspan font-size="24" dy="-14.1">2</tspan><tspan dy="14.1">)</tspan></text>
<text transform="translate(1526.7 2172.6) rotate(-90) scale(0.8859 1)" font-size="34.5" fill="#138030" stroke="#138030">Temperature (<tspan font-size="23.5" dy="-13.2">o</tspan><tspan dy="13.2">C)</tspan></text>
<text transform="translate(221.66 2373.1) scale(0.875 1)" font-size="35" text-anchor="middle" stroke="#000">2010</text>
<text transform="translate(327.32 2373.1) scale(0.875 1)" font-size="35" text-anchor="middle" stroke="#000">2011</text>
<text transform="translate(432.98 2373.1) scale(0.875 1)" font-size="35" text-anchor="middle" stroke="#000">2012</text>
<text transform="translate(538.64 2373.1) scale(0.875 1)" font-size="35" text-anchor="middle" stroke="#000">2013</text>
<text transform="translate(644.3 2373.1) scale(0.875 1)" font-size="35" text-anchor="middle" stroke="#000">2014</text>
<text transform="translate(749.96 2373.1) scale(0.875 1)" font-size="35" text-anchor="middle" stroke="#000">2015</text>
<text transform="translate(855.62 2373.1) scale(0.875 1)" font-size="35" text-anchor="middle" stroke="#000">2016</text>
<text transform="translate(961.28 2373.1) scale(0.875 1)" font-size="35" text-anchor="middle" stroke="#000">2017</text>
<text transform="translate(1066.94 2373.1) scale(0.875 1)" font-size="35" text-anchor="middle" stroke="#000">2018</text>
<rect x="133.6" y="2402.1" width="65.2" height="31.6" fill="#d0d0d0"/>
<path d="M133.6 2433.7H198.8V2402.1" fill="none" stroke="#1a1a1a" stroke-width="1.9"/>
<text transform="translate(205.2 2431.2) scale(0.9962 1)" font-size="37" stroke="#000">Total Flux</text>
<rect x="391.9" y="2402.1" width="64.6" height="31.6" fill="#275782"/>
<path d="M391.9 2433.7H456.5V2402.1" fill="none" stroke="#1a1a1a" stroke-width="1.9"/>
<text transform="translate(467.06 2431.2) scale(1.0127 1)" font-size="37" stroke="#000">Non-Fire Flux</text>
<rect x="717.8" y="2402.1" width="65.5" height="31.6" fill="#c2e1f5"/>
<path d="M717.8 2402.1V2433.7H783.3V2402.1" fill="none" stroke="#1a1a1a" stroke-width="1.9"/>
<text transform="translate(795.1 2431.2) scale(0.9995 1)" font-size="37" stroke="#000">Wetland Flux</text>
<rect x="1041" y="2402.1" width="65.5" height="31.6" fill="#ba6d37"/>
<path d="M1041 2433.7H1106.5V2402.1" fill="none" stroke="#1a1a1a" stroke-width="1.9"/>
<text transform="translate(1115.16 2431.2) scale(1.0129 1)" font-size="37" stroke="#000">Fire Flux</text>
<line x1="292.1" y1="2475.6" x2="318.9" y2="2475.6" stroke="#000" stroke-width="2"/>
<line x1="332.6" y1="2475.6" x2="359.1" y2="2475.6" stroke="#000" stroke-width="2"/>
<path d="M325.7 2468.2L332.5 2479.3L318.9 2479.3Z" fill="#000"/>
<text transform="translate(365.4 2488.3) scale(1.0015 1)" font-size="37" stroke="#000">Burned area</text>
<line x1="605.7" y1="2477.8" x2="633.5" y2="2477.8" stroke="#0a7d30" stroke-width="2.2"/>
<line x1="645" y1="2477.8" x2="672.9" y2="2477.8" stroke="#0a7d30" stroke-width="2.2"/>
<path d="M639.3 2471.1L645.6 2477.8L639.3 2484.5L633 2477.8Z" fill="#07873a"/>
<text transform="translate(682.1 2488.5) scale(1.0078 1)" font-size="37" stroke="#000">Temperature</text>
<line x1="911.5" y1="2478.7" x2="941.3" y2="2478.7" stroke="#1c206e" stroke-width="2.2"/>
<line x1="955.3" y1="2478.7" x2="981.8" y2="2478.7" stroke="#1c206e" stroke-width="2.2"/>
<path d="M943.6 2483.6L943.8 2477.2A5.3 5.3 0 1 1 948.9 2483.1Z" fill="#3347a0"/>
<text transform="translate(993.8 2488.6) scale(0.9987 1)" font-size="37" stroke="#000">EWT</text>
</svg>
</body></html>
